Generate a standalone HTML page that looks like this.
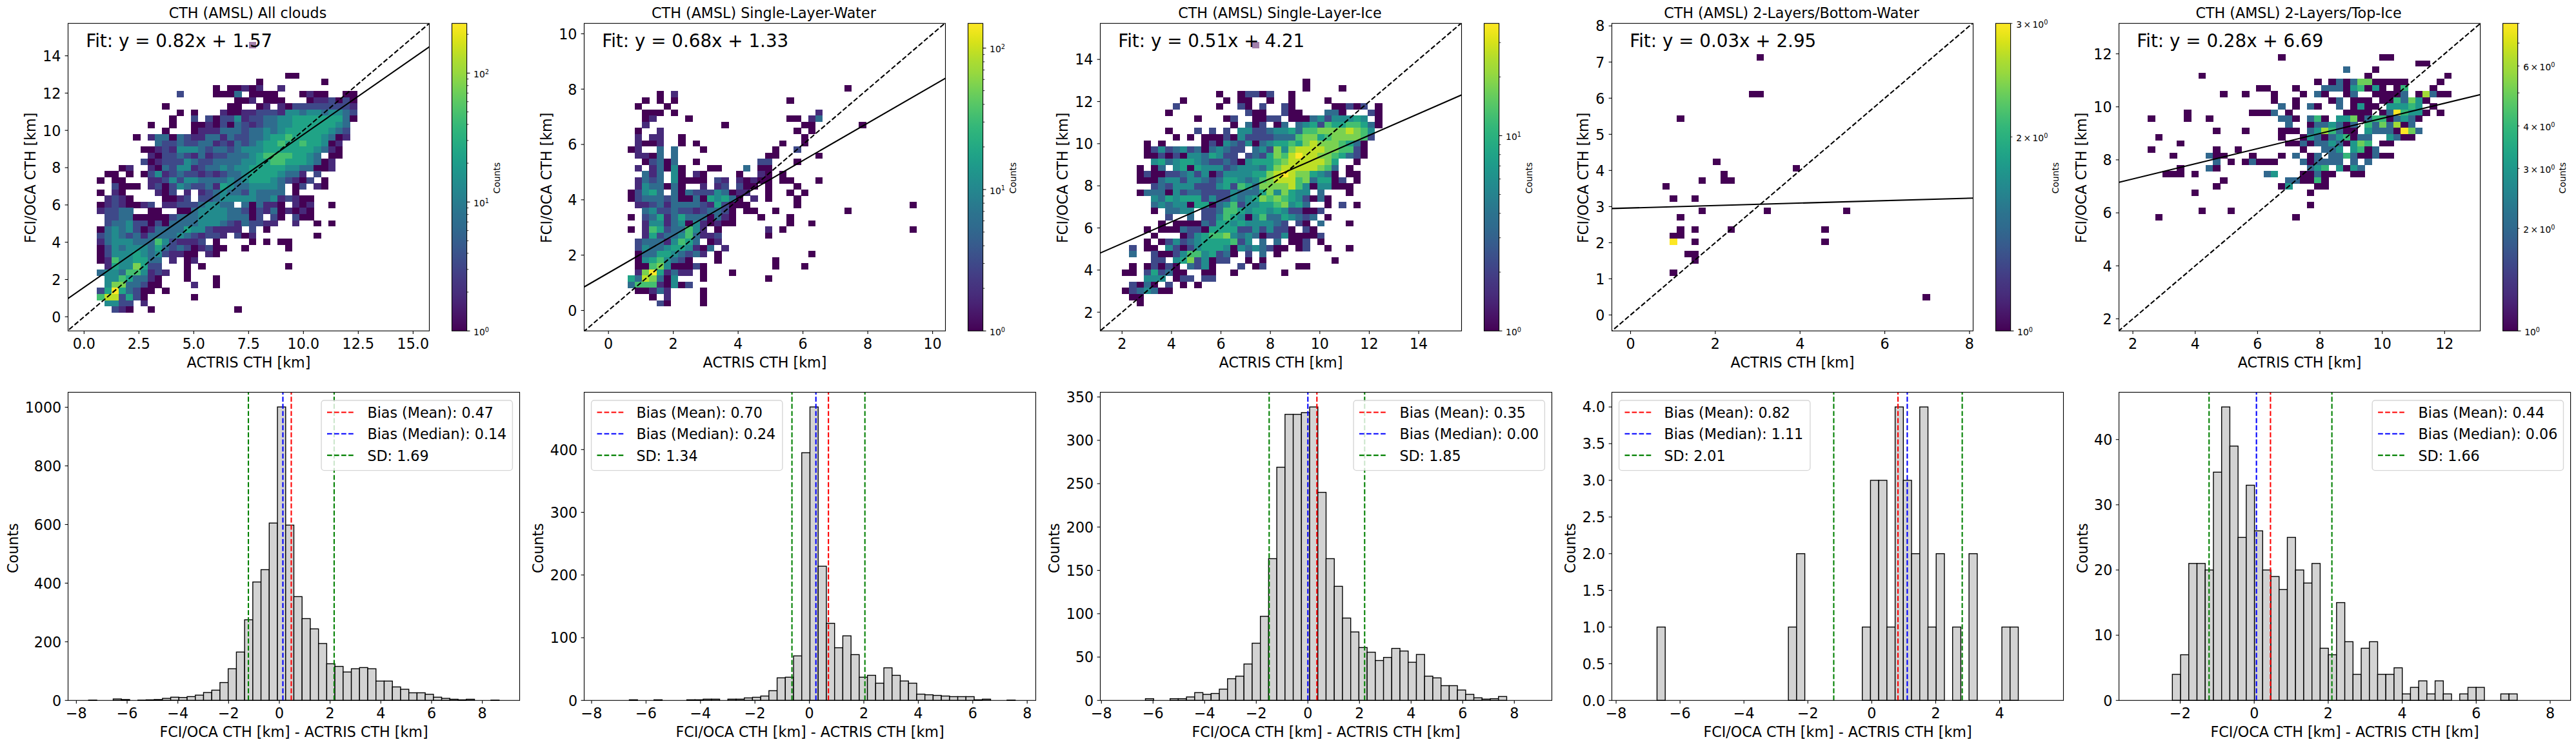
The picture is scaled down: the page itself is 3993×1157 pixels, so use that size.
<!DOCTYPE html>
<html><head><meta charset="utf-8"><title>CTH comparison</title><style>html,body{margin:0;padding:0;background:#fff}svg{display:block}</style></head><body>
<svg width="3993" height="1157" viewBox="0 0 3993 1157" font-family="'DejaVu Sans','Liberation Sans',sans-serif" fill="#000">
<rect width="3993" height="1157" fill="#fff"/>
<defs><linearGradient id="vg" x1="0" y1="1" x2="0" y2="0">
<stop offset="0" stop-color="#440154"/>
<stop offset="0.03" stop-color="#470d60"/>
<stop offset="0.06" stop-color="#48186a"/>
<stop offset="0.09" stop-color="#482374"/>
<stop offset="0.12" stop-color="#472d7b"/>
<stop offset="0.16" stop-color="#453781"/>
<stop offset="0.19" stop-color="#424086"/>
<stop offset="0.22" stop-color="#3e4989"/>
<stop offset="0.25" stop-color="#3b528b"/>
<stop offset="0.28" stop-color="#375b8d"/>
<stop offset="0.31" stop-color="#33638d"/>
<stop offset="0.34" stop-color="#2f6b8e"/>
<stop offset="0.38" stop-color="#2c728e"/>
<stop offset="0.41" stop-color="#297a8e"/>
<stop offset="0.44" stop-color="#26828e"/>
<stop offset="0.47" stop-color="#23898e"/>
<stop offset="0.5" stop-color="#21918c"/>
<stop offset="0.53" stop-color="#1f988b"/>
<stop offset="0.56" stop-color="#1fa088"/>
<stop offset="0.59" stop-color="#22a785"/>
<stop offset="0.62" stop-color="#28ae80"/>
<stop offset="0.66" stop-color="#32b67a"/>
<stop offset="0.69" stop-color="#3fbc73"/>
<stop offset="0.72" stop-color="#4ec36b"/>
<stop offset="0.75" stop-color="#5ec962"/>
<stop offset="0.78" stop-color="#70cf57"/>
<stop offset="0.81" stop-color="#84d44b"/>
<stop offset="0.84" stop-color="#98d83e"/>
<stop offset="0.88" stop-color="#addc30"/>
<stop offset="0.91" stop-color="#c2df23"/>
<stop offset="0.94" stop-color="#d8e219"/>
<stop offset="0.97" stop-color="#ece51b"/>
<stop offset="1" stop-color="#fde725"/>
</linearGradient></defs>
<g shape-rendering="crispEdges">
<rect x="385.5" y="64.91" width="11.5" height="9.84" fill="#440154"/>
<rect x="441.5" y="112.6" width="11.5" height="9.84" fill="#440154"/>
<rect x="452.7" y="112.6" width="11.5" height="9.84" fill="#440154"/>
<rect x="396.7" y="122.14" width="11.5" height="9.84" fill="#440154"/>
<rect x="497.5" y="122.14" width="11.5" height="9.84" fill="#440154"/>
<rect x="329.5" y="131.68" width="11.5" height="9.84" fill="#440154"/>
<rect x="351.9" y="131.68" width="11.5" height="9.84" fill="#440154"/>
<rect x="363.1" y="131.68" width="11.5" height="9.84" fill="#440154"/>
<rect x="374.3" y="131.68" width="11.5" height="9.84" fill="#472a7a"/>
<rect x="385.5" y="131.68" width="11.5" height="9.84" fill="#440154"/>
<rect x="396.7" y="131.68" width="11.5" height="9.84" fill="#472a7a"/>
<rect x="430.3" y="131.68" width="11.5" height="9.84" fill="#472a7a"/>
<rect x="273.5" y="141.22" width="11.5" height="9.84" fill="#3e4989"/>
<rect x="329.5" y="141.22" width="11.5" height="9.84" fill="#440154"/>
<rect x="340.7" y="141.22" width="11.5" height="9.84" fill="#440154"/>
<rect x="351.9" y="141.22" width="11.5" height="9.84" fill="#440154"/>
<rect x="363.1" y="141.22" width="11.5" height="9.84" fill="#2f6c8e"/>
<rect x="385.5" y="141.22" width="11.5" height="9.84" fill="#440154"/>
<rect x="396.7" y="141.22" width="11.5" height="9.84" fill="#440154"/>
<rect x="407.9" y="141.22" width="11.5" height="9.84" fill="#440154"/>
<rect x="419.1" y="141.22" width="11.5" height="9.84" fill="#440154"/>
<rect x="463.9" y="141.22" width="11.5" height="9.84" fill="#440154"/>
<rect x="475.1" y="141.22" width="11.5" height="9.84" fill="#472a7a"/>
<rect x="486.3" y="141.22" width="11.5" height="9.84" fill="#440154"/>
<rect x="497.5" y="141.22" width="11.5" height="9.84" fill="#440154"/>
<rect x="531.1" y="141.22" width="11.5" height="9.84" fill="#440154"/>
<rect x="542.3" y="141.22" width="11.5" height="9.84" fill="#440154"/>
<rect x="363.1" y="150.76" width="11.5" height="9.84" fill="#440154"/>
<rect x="374.3" y="150.76" width="11.5" height="9.84" fill="#440154"/>
<rect x="385.5" y="150.76" width="11.5" height="9.84" fill="#472a7a"/>
<rect x="407.9" y="150.76" width="11.5" height="9.84" fill="#440154"/>
<rect x="419.1" y="150.76" width="11.5" height="9.84" fill="#440154"/>
<rect x="430.3" y="150.76" width="11.5" height="9.84" fill="#440154"/>
<rect x="475.1" y="150.76" width="11.5" height="9.84" fill="#440154"/>
<rect x="486.3" y="150.76" width="11.5" height="9.84" fill="#472a7a"/>
<rect x="497.5" y="150.76" width="11.5" height="9.84" fill="#472a7a"/>
<rect x="508.7" y="150.76" width="11.5" height="9.84" fill="#3e4989"/>
<rect x="519.9" y="150.76" width="11.5" height="9.84" fill="#440154"/>
<rect x="531.1" y="150.76" width="11.5" height="9.84" fill="#3e4989"/>
<rect x="542.3" y="150.76" width="11.5" height="9.84" fill="#440154"/>
<rect x="251.1" y="160.29" width="11.5" height="9.84" fill="#440154"/>
<rect x="351.9" y="160.29" width="11.5" height="9.84" fill="#440154"/>
<rect x="363.1" y="160.29" width="11.5" height="9.84" fill="#440154"/>
<rect x="396.7" y="160.29" width="11.5" height="9.84" fill="#440154"/>
<rect x="407.9" y="160.29" width="11.5" height="9.84" fill="#472a7a"/>
<rect x="430.3" y="160.29" width="11.5" height="9.84" fill="#472a7a"/>
<rect x="441.5" y="160.29" width="11.5" height="9.84" fill="#440154"/>
<rect x="452.7" y="160.29" width="11.5" height="9.84" fill="#3e4989"/>
<rect x="463.9" y="160.29" width="11.5" height="9.84" fill="#3e4989"/>
<rect x="475.1" y="160.29" width="11.5" height="9.84" fill="#3e4989"/>
<rect x="486.3" y="160.29" width="11.5" height="9.84" fill="#3e4989"/>
<rect x="497.5" y="160.29" width="11.5" height="9.84" fill="#3e4989"/>
<rect x="508.7" y="160.29" width="11.5" height="9.84" fill="#3e4989"/>
<rect x="519.9" y="160.29" width="11.5" height="9.84" fill="#3e4989"/>
<rect x="531.1" y="160.29" width="11.5" height="9.84" fill="#3e4989"/>
<rect x="542.3" y="160.29" width="11.5" height="9.84" fill="#472a7a"/>
<rect x="273.5" y="169.83" width="11.5" height="9.84" fill="#440154"/>
<rect x="295.9" y="169.83" width="11.5" height="9.84" fill="#440154"/>
<rect x="340.7" y="169.83" width="11.5" height="9.84" fill="#472a7a"/>
<rect x="351.9" y="169.83" width="11.5" height="9.84" fill="#440154"/>
<rect x="363.1" y="169.83" width="11.5" height="9.84" fill="#440154"/>
<rect x="374.3" y="169.83" width="11.5" height="9.84" fill="#472a7a"/>
<rect x="385.5" y="169.83" width="11.5" height="9.84" fill="#472a7a"/>
<rect x="396.7" y="169.83" width="11.5" height="9.84" fill="#3e4989"/>
<rect x="407.9" y="169.83" width="11.5" height="9.84" fill="#3e4989"/>
<rect x="419.1" y="169.83" width="11.5" height="9.84" fill="#3e4989"/>
<rect x="430.3" y="169.83" width="11.5" height="9.84" fill="#472a7a"/>
<rect x="441.5" y="169.83" width="11.5" height="9.84" fill="#228b8d"/>
<rect x="452.7" y="169.83" width="11.5" height="9.84" fill="#228b8d"/>
<rect x="463.9" y="169.83" width="11.5" height="9.84" fill="#2f6c8e"/>
<rect x="475.1" y="169.83" width="11.5" height="9.84" fill="#228b8d"/>
<rect x="486.3" y="169.83" width="11.5" height="9.84" fill="#228b8d"/>
<rect x="497.5" y="169.83" width="11.5" height="9.84" fill="#2f6c8e"/>
<rect x="508.7" y="169.83" width="11.5" height="9.84" fill="#228b8d"/>
<rect x="519.9" y="169.83" width="11.5" height="9.84" fill="#228b8d"/>
<rect x="531.1" y="169.83" width="11.5" height="9.84" fill="#2f6c8e"/>
<rect x="542.3" y="169.83" width="11.5" height="9.84" fill="#3e4989"/>
<rect x="262.3" y="179.37" width="11.5" height="9.84" fill="#440154"/>
<rect x="295.9" y="179.37" width="11.5" height="9.84" fill="#3e4989"/>
<rect x="318.3" y="179.37" width="11.5" height="9.84" fill="#3e4989"/>
<rect x="329.5" y="179.37" width="11.5" height="9.84" fill="#440154"/>
<rect x="340.7" y="179.37" width="11.5" height="9.84" fill="#3e4989"/>
<rect x="351.9" y="179.37" width="11.5" height="9.84" fill="#3e4989"/>
<rect x="363.1" y="179.37" width="11.5" height="9.84" fill="#228b8d"/>
<rect x="374.3" y="179.37" width="11.5" height="9.84" fill="#472a7a"/>
<rect x="385.5" y="179.37" width="11.5" height="9.84" fill="#3e4989"/>
<rect x="396.7" y="179.37" width="11.5" height="9.84" fill="#3e4989"/>
<rect x="407.9" y="179.37" width="11.5" height="9.84" fill="#2f6c8e"/>
<rect x="419.1" y="179.37" width="11.5" height="9.84" fill="#2f6c8e"/>
<rect x="430.3" y="179.37" width="11.5" height="9.84" fill="#228b8d"/>
<rect x="441.5" y="179.37" width="11.5" height="9.84" fill="#228b8d"/>
<rect x="452.7" y="179.37" width="11.5" height="9.84" fill="#20a386"/>
<rect x="463.9" y="179.37" width="11.5" height="9.84" fill="#20a386"/>
<rect x="475.1" y="179.37" width="11.5" height="9.84" fill="#20a386"/>
<rect x="486.3" y="179.37" width="11.5" height="9.84" fill="#20a386"/>
<rect x="497.5" y="179.37" width="11.5" height="9.84" fill="#20a386"/>
<rect x="508.7" y="179.37" width="11.5" height="9.84" fill="#20a386"/>
<rect x="519.9" y="179.37" width="11.5" height="9.84" fill="#20a386"/>
<rect x="531.1" y="179.37" width="11.5" height="9.84" fill="#2f6c8e"/>
<rect x="542.3" y="179.37" width="11.5" height="9.84" fill="#440154"/>
<rect x="228.7" y="188.91" width="11.5" height="9.84" fill="#440154"/>
<rect x="262.3" y="188.91" width="11.5" height="9.84" fill="#440154"/>
<rect x="295.9" y="188.91" width="11.5" height="9.84" fill="#440154"/>
<rect x="307.1" y="188.91" width="11.5" height="9.84" fill="#440154"/>
<rect x="318.3" y="188.91" width="11.5" height="9.84" fill="#472a7a"/>
<rect x="329.5" y="188.91" width="11.5" height="9.84" fill="#440154"/>
<rect x="340.7" y="188.91" width="11.5" height="9.84" fill="#3e4989"/>
<rect x="351.9" y="188.91" width="11.5" height="9.84" fill="#440154"/>
<rect x="363.1" y="188.91" width="11.5" height="9.84" fill="#2f6c8e"/>
<rect x="374.3" y="188.91" width="11.5" height="9.84" fill="#3e4989"/>
<rect x="385.5" y="188.91" width="11.5" height="9.84" fill="#472a7a"/>
<rect x="396.7" y="188.91" width="11.5" height="9.84" fill="#3e4989"/>
<rect x="407.9" y="188.91" width="11.5" height="9.84" fill="#2f6c8e"/>
<rect x="419.1" y="188.91" width="11.5" height="9.84" fill="#2f6c8e"/>
<rect x="430.3" y="188.91" width="11.5" height="9.84" fill="#228b8d"/>
<rect x="441.5" y="188.91" width="11.5" height="9.84" fill="#228b8d"/>
<rect x="452.7" y="188.91" width="11.5" height="9.84" fill="#20a386"/>
<rect x="463.9" y="188.91" width="11.5" height="9.84" fill="#20a386"/>
<rect x="475.1" y="188.91" width="11.5" height="9.84" fill="#20a386"/>
<rect x="486.3" y="188.91" width="11.5" height="9.84" fill="#20a386"/>
<rect x="497.5" y="188.91" width="11.5" height="9.84" fill="#20a386"/>
<rect x="508.7" y="188.91" width="11.5" height="9.84" fill="#20a386"/>
<rect x="519.9" y="188.91" width="11.5" height="9.84" fill="#228b8d"/>
<rect x="531.1" y="188.91" width="11.5" height="9.84" fill="#2f6c8e"/>
<rect x="251.1" y="198.45" width="11.5" height="9.84" fill="#440154"/>
<rect x="295.9" y="198.45" width="11.5" height="9.84" fill="#440154"/>
<rect x="307.1" y="198.45" width="11.5" height="9.84" fill="#472a7a"/>
<rect x="318.3" y="198.45" width="11.5" height="9.84" fill="#472a7a"/>
<rect x="329.5" y="198.45" width="11.5" height="9.84" fill="#472a7a"/>
<rect x="340.7" y="198.45" width="11.5" height="9.84" fill="#2f6c8e"/>
<rect x="351.9" y="198.45" width="11.5" height="9.84" fill="#2f6c8e"/>
<rect x="363.1" y="198.45" width="11.5" height="9.84" fill="#2f6c8e"/>
<rect x="374.3" y="198.45" width="11.5" height="9.84" fill="#3e4989"/>
<rect x="385.5" y="198.45" width="11.5" height="9.84" fill="#2f6c8e"/>
<rect x="396.7" y="198.45" width="11.5" height="9.84" fill="#2f6c8e"/>
<rect x="407.9" y="198.45" width="11.5" height="9.84" fill="#228b8d"/>
<rect x="419.1" y="198.45" width="11.5" height="9.84" fill="#2f6c8e"/>
<rect x="430.3" y="198.45" width="11.5" height="9.84" fill="#228b8d"/>
<rect x="441.5" y="198.45" width="11.5" height="9.84" fill="#20a386"/>
<rect x="452.7" y="198.45" width="11.5" height="9.84" fill="#20a386"/>
<rect x="463.9" y="198.45" width="11.5" height="9.84" fill="#20a386"/>
<rect x="475.1" y="198.45" width="11.5" height="9.84" fill="#20a386"/>
<rect x="486.3" y="198.45" width="11.5" height="9.84" fill="#20a386"/>
<rect x="497.5" y="198.45" width="11.5" height="9.84" fill="#20a386"/>
<rect x="508.7" y="198.45" width="11.5" height="9.84" fill="#228b8d"/>
<rect x="519.9" y="198.45" width="11.5" height="9.84" fill="#2f6c8e"/>
<rect x="531.1" y="198.45" width="11.5" height="9.84" fill="#3e4989"/>
<rect x="206.3" y="207.98" width="11.5" height="9.84" fill="#440154"/>
<rect x="228.7" y="207.98" width="11.5" height="9.84" fill="#472a7a"/>
<rect x="239.9" y="207.98" width="11.5" height="9.84" fill="#2f6c8e"/>
<rect x="251.1" y="207.98" width="11.5" height="9.84" fill="#2f6c8e"/>
<rect x="262.3" y="207.98" width="11.5" height="9.84" fill="#440154"/>
<rect x="273.5" y="207.98" width="11.5" height="9.84" fill="#2f6c8e"/>
<rect x="284.7" y="207.98" width="11.5" height="9.84" fill="#3e4989"/>
<rect x="295.9" y="207.98" width="11.5" height="9.84" fill="#472a7a"/>
<rect x="307.1" y="207.98" width="11.5" height="9.84" fill="#472a7a"/>
<rect x="318.3" y="207.98" width="11.5" height="9.84" fill="#2f6c8e"/>
<rect x="329.5" y="207.98" width="11.5" height="9.84" fill="#2f6c8e"/>
<rect x="340.7" y="207.98" width="11.5" height="9.84" fill="#472a7a"/>
<rect x="351.9" y="207.98" width="11.5" height="9.84" fill="#2f6c8e"/>
<rect x="363.1" y="207.98" width="11.5" height="9.84" fill="#3e4989"/>
<rect x="374.3" y="207.98" width="11.5" height="9.84" fill="#3e4989"/>
<rect x="385.5" y="207.98" width="11.5" height="9.84" fill="#2f6c8e"/>
<rect x="396.7" y="207.98" width="11.5" height="9.84" fill="#2f6c8e"/>
<rect x="407.9" y="207.98" width="11.5" height="9.84" fill="#228b8d"/>
<rect x="419.1" y="207.98" width="11.5" height="9.84" fill="#20a386"/>
<rect x="430.3" y="207.98" width="11.5" height="9.84" fill="#20a386"/>
<rect x="441.5" y="207.98" width="11.5" height="9.84" fill="#44bf70"/>
<rect x="452.7" y="207.98" width="11.5" height="9.84" fill="#20a386"/>
<rect x="463.9" y="207.98" width="11.5" height="9.84" fill="#20a386"/>
<rect x="475.1" y="207.98" width="11.5" height="9.84" fill="#20a386"/>
<rect x="486.3" y="207.98" width="11.5" height="9.84" fill="#20a386"/>
<rect x="497.5" y="207.98" width="11.5" height="9.84" fill="#228b8d"/>
<rect x="508.7" y="207.98" width="11.5" height="9.84" fill="#2f6c8e"/>
<rect x="519.9" y="207.98" width="11.5" height="9.84" fill="#440154"/>
<rect x="531.1" y="207.98" width="11.5" height="9.84" fill="#472a7a"/>
<rect x="239.9" y="217.52" width="11.5" height="9.84" fill="#2f6c8e"/>
<rect x="251.1" y="217.52" width="11.5" height="9.84" fill="#3e4989"/>
<rect x="262.3" y="217.52" width="11.5" height="9.84" fill="#3e4989"/>
<rect x="273.5" y="217.52" width="11.5" height="9.84" fill="#2f6c8e"/>
<rect x="284.7" y="217.52" width="11.5" height="9.84" fill="#3e4989"/>
<rect x="295.9" y="217.52" width="11.5" height="9.84" fill="#3e4989"/>
<rect x="307.1" y="217.52" width="11.5" height="9.84" fill="#2f6c8e"/>
<rect x="318.3" y="217.52" width="11.5" height="9.84" fill="#2f6c8e"/>
<rect x="329.5" y="217.52" width="11.5" height="9.84" fill="#472a7a"/>
<rect x="340.7" y="217.52" width="11.5" height="9.84" fill="#3e4989"/>
<rect x="351.9" y="217.52" width="11.5" height="9.84" fill="#472a7a"/>
<rect x="363.1" y="217.52" width="11.5" height="9.84" fill="#2f6c8e"/>
<rect x="374.3" y="217.52" width="11.5" height="9.84" fill="#3e4989"/>
<rect x="385.5" y="217.52" width="11.5" height="9.84" fill="#2f6c8e"/>
<rect x="396.7" y="217.52" width="11.5" height="9.84" fill="#228b8d"/>
<rect x="407.9" y="217.52" width="11.5" height="9.84" fill="#20a386"/>
<rect x="419.1" y="217.52" width="11.5" height="9.84" fill="#20a386"/>
<rect x="430.3" y="217.52" width="11.5" height="9.84" fill="#44bf70"/>
<rect x="441.5" y="217.52" width="11.5" height="9.84" fill="#20a386"/>
<rect x="452.7" y="217.52" width="11.5" height="9.84" fill="#20a386"/>
<rect x="463.9" y="217.52" width="11.5" height="9.84" fill="#44bf70"/>
<rect x="475.1" y="217.52" width="11.5" height="9.84" fill="#20a386"/>
<rect x="486.3" y="217.52" width="11.5" height="9.84" fill="#20a386"/>
<rect x="497.5" y="217.52" width="11.5" height="9.84" fill="#228b8d"/>
<rect x="508.7" y="217.52" width="11.5" height="9.84" fill="#440154"/>
<rect x="519.9" y="217.52" width="11.5" height="9.84" fill="#472a7a"/>
<rect x="217.5" y="227.06" width="11.5" height="9.84" fill="#440154"/>
<rect x="228.7" y="227.06" width="11.5" height="9.84" fill="#440154"/>
<rect x="239.9" y="227.06" width="11.5" height="9.84" fill="#472a7a"/>
<rect x="251.1" y="227.06" width="11.5" height="9.84" fill="#3e4989"/>
<rect x="262.3" y="227.06" width="11.5" height="9.84" fill="#472a7a"/>
<rect x="273.5" y="227.06" width="11.5" height="9.84" fill="#228b8d"/>
<rect x="284.7" y="227.06" width="11.5" height="9.84" fill="#228b8d"/>
<rect x="295.9" y="227.06" width="11.5" height="9.84" fill="#228b8d"/>
<rect x="307.1" y="227.06" width="11.5" height="9.84" fill="#2f6c8e"/>
<rect x="318.3" y="227.06" width="11.5" height="9.84" fill="#3e4989"/>
<rect x="329.5" y="227.06" width="11.5" height="9.84" fill="#2f6c8e"/>
<rect x="340.7" y="227.06" width="11.5" height="9.84" fill="#2f6c8e"/>
<rect x="351.9" y="227.06" width="11.5" height="9.84" fill="#3e4989"/>
<rect x="363.1" y="227.06" width="11.5" height="9.84" fill="#2f6c8e"/>
<rect x="374.3" y="227.06" width="11.5" height="9.84" fill="#228b8d"/>
<rect x="385.5" y="227.06" width="11.5" height="9.84" fill="#228b8d"/>
<rect x="396.7" y="227.06" width="11.5" height="9.84" fill="#228b8d"/>
<rect x="407.9" y="227.06" width="11.5" height="9.84" fill="#20a386"/>
<rect x="419.1" y="227.06" width="11.5" height="9.84" fill="#20a386"/>
<rect x="430.3" y="227.06" width="11.5" height="9.84" fill="#20a386"/>
<rect x="441.5" y="227.06" width="11.5" height="9.84" fill="#20a386"/>
<rect x="452.7" y="227.06" width="11.5" height="9.84" fill="#20a386"/>
<rect x="463.9" y="227.06" width="11.5" height="9.84" fill="#20a386"/>
<rect x="475.1" y="227.06" width="11.5" height="9.84" fill="#20a386"/>
<rect x="486.3" y="227.06" width="11.5" height="9.84" fill="#228b8d"/>
<rect x="497.5" y="227.06" width="11.5" height="9.84" fill="#2f6c8e"/>
<rect x="508.7" y="227.06" width="11.5" height="9.84" fill="#472a7a"/>
<rect x="519.9" y="227.06" width="11.5" height="9.84" fill="#440154"/>
<rect x="228.7" y="236.6" width="11.5" height="9.84" fill="#472a7a"/>
<rect x="239.9" y="236.6" width="11.5" height="9.84" fill="#440154"/>
<rect x="251.1" y="236.6" width="11.5" height="9.84" fill="#3e4989"/>
<rect x="262.3" y="236.6" width="11.5" height="9.84" fill="#3e4989"/>
<rect x="273.5" y="236.6" width="11.5" height="9.84" fill="#2f6c8e"/>
<rect x="284.7" y="236.6" width="11.5" height="9.84" fill="#3e4989"/>
<rect x="295.9" y="236.6" width="11.5" height="9.84" fill="#472a7a"/>
<rect x="307.1" y="236.6" width="11.5" height="9.84" fill="#2f6c8e"/>
<rect x="318.3" y="236.6" width="11.5" height="9.84" fill="#472a7a"/>
<rect x="329.5" y="236.6" width="11.5" height="9.84" fill="#3e4989"/>
<rect x="340.7" y="236.6" width="11.5" height="9.84" fill="#3e4989"/>
<rect x="351.9" y="236.6" width="11.5" height="9.84" fill="#2f6c8e"/>
<rect x="363.1" y="236.6" width="11.5" height="9.84" fill="#2f6c8e"/>
<rect x="374.3" y="236.6" width="11.5" height="9.84" fill="#2f6c8e"/>
<rect x="385.5" y="236.6" width="11.5" height="9.84" fill="#228b8d"/>
<rect x="396.7" y="236.6" width="11.5" height="9.84" fill="#20a386"/>
<rect x="407.9" y="236.6" width="11.5" height="9.84" fill="#44bf70"/>
<rect x="419.1" y="236.6" width="11.5" height="9.84" fill="#44bf70"/>
<rect x="430.3" y="236.6" width="11.5" height="9.84" fill="#44bf70"/>
<rect x="441.5" y="236.6" width="11.5" height="9.84" fill="#44bf70"/>
<rect x="452.7" y="236.6" width="11.5" height="9.84" fill="#20a386"/>
<rect x="463.9" y="236.6" width="11.5" height="9.84" fill="#20a386"/>
<rect x="475.1" y="236.6" width="11.5" height="9.84" fill="#228b8d"/>
<rect x="486.3" y="236.6" width="11.5" height="9.84" fill="#2f6c8e"/>
<rect x="508.7" y="236.6" width="11.5" height="9.84" fill="#440154"/>
<rect x="519.9" y="236.6" width="11.5" height="9.84" fill="#440154"/>
<rect x="217.5" y="246.14" width="11.5" height="9.84" fill="#3e4989"/>
<rect x="228.7" y="246.14" width="11.5" height="9.84" fill="#440154"/>
<rect x="239.9" y="246.14" width="11.5" height="9.84" fill="#472a7a"/>
<rect x="251.1" y="246.14" width="11.5" height="9.84" fill="#3e4989"/>
<rect x="262.3" y="246.14" width="11.5" height="9.84" fill="#3e4989"/>
<rect x="273.5" y="246.14" width="11.5" height="9.84" fill="#3e4989"/>
<rect x="284.7" y="246.14" width="11.5" height="9.84" fill="#228b8d"/>
<rect x="295.9" y="246.14" width="11.5" height="9.84" fill="#2f6c8e"/>
<rect x="307.1" y="246.14" width="11.5" height="9.84" fill="#3e4989"/>
<rect x="318.3" y="246.14" width="11.5" height="9.84" fill="#3e4989"/>
<rect x="329.5" y="246.14" width="11.5" height="9.84" fill="#2f6c8e"/>
<rect x="340.7" y="246.14" width="11.5" height="9.84" fill="#2f6c8e"/>
<rect x="351.9" y="246.14" width="11.5" height="9.84" fill="#2f6c8e"/>
<rect x="363.1" y="246.14" width="11.5" height="9.84" fill="#2f6c8e"/>
<rect x="374.3" y="246.14" width="11.5" height="9.84" fill="#228b8d"/>
<rect x="385.5" y="246.14" width="11.5" height="9.84" fill="#228b8d"/>
<rect x="396.7" y="246.14" width="11.5" height="9.84" fill="#20a386"/>
<rect x="407.9" y="246.14" width="11.5" height="9.84" fill="#20a386"/>
<rect x="419.1" y="246.14" width="11.5" height="9.84" fill="#44bf70"/>
<rect x="430.3" y="246.14" width="11.5" height="9.84" fill="#44bf70"/>
<rect x="441.5" y="246.14" width="11.5" height="9.84" fill="#20a386"/>
<rect x="452.7" y="246.14" width="11.5" height="9.84" fill="#20a386"/>
<rect x="463.9" y="246.14" width="11.5" height="9.84" fill="#20a386"/>
<rect x="475.1" y="246.14" width="11.5" height="9.84" fill="#228b8d"/>
<rect x="486.3" y="246.14" width="11.5" height="9.84" fill="#2f6c8e"/>
<rect x="497.5" y="246.14" width="11.5" height="9.84" fill="#440154"/>
<rect x="508.7" y="246.14" width="11.5" height="9.84" fill="#472a7a"/>
<rect x="183.9" y="255.67" width="11.5" height="9.84" fill="#440154"/>
<rect x="195.1" y="255.67" width="11.5" height="9.84" fill="#472a7a"/>
<rect x="228.7" y="255.67" width="11.5" height="9.84" fill="#472a7a"/>
<rect x="239.9" y="255.67" width="11.5" height="9.84" fill="#440154"/>
<rect x="251.1" y="255.67" width="11.5" height="9.84" fill="#2f6c8e"/>
<rect x="262.3" y="255.67" width="11.5" height="9.84" fill="#3e4989"/>
<rect x="273.5" y="255.67" width="11.5" height="9.84" fill="#228b8d"/>
<rect x="284.7" y="255.67" width="11.5" height="9.84" fill="#228b8d"/>
<rect x="295.9" y="255.67" width="11.5" height="9.84" fill="#472a7a"/>
<rect x="307.1" y="255.67" width="11.5" height="9.84" fill="#3e4989"/>
<rect x="318.3" y="255.67" width="11.5" height="9.84" fill="#2f6c8e"/>
<rect x="329.5" y="255.67" width="11.5" height="9.84" fill="#2f6c8e"/>
<rect x="340.7" y="255.67" width="11.5" height="9.84" fill="#228b8d"/>
<rect x="351.9" y="255.67" width="11.5" height="9.84" fill="#2f6c8e"/>
<rect x="363.1" y="255.67" width="11.5" height="9.84" fill="#228b8d"/>
<rect x="374.3" y="255.67" width="11.5" height="9.84" fill="#228b8d"/>
<rect x="385.5" y="255.67" width="11.5" height="9.84" fill="#20a386"/>
<rect x="396.7" y="255.67" width="11.5" height="9.84" fill="#20a386"/>
<rect x="407.9" y="255.67" width="11.5" height="9.84" fill="#20a386"/>
<rect x="419.1" y="255.67" width="11.5" height="9.84" fill="#20a386"/>
<rect x="430.3" y="255.67" width="11.5" height="9.84" fill="#20a386"/>
<rect x="441.5" y="255.67" width="11.5" height="9.84" fill="#228b8d"/>
<rect x="452.7" y="255.67" width="11.5" height="9.84" fill="#228b8d"/>
<rect x="463.9" y="255.67" width="11.5" height="9.84" fill="#2f6c8e"/>
<rect x="475.1" y="255.67" width="11.5" height="9.84" fill="#2f6c8e"/>
<rect x="486.3" y="255.67" width="11.5" height="9.84" fill="#440154"/>
<rect x="497.5" y="255.67" width="11.5" height="9.84" fill="#440154"/>
<rect x="508.7" y="255.67" width="11.5" height="9.84" fill="#472a7a"/>
<rect x="161.5" y="265.21" width="11.5" height="9.84" fill="#440154"/>
<rect x="172.7" y="265.21" width="11.5" height="9.84" fill="#440154"/>
<rect x="195.1" y="265.21" width="11.5" height="9.84" fill="#440154"/>
<rect x="217.5" y="265.21" width="11.5" height="9.84" fill="#440154"/>
<rect x="228.7" y="265.21" width="11.5" height="9.84" fill="#3e4989"/>
<rect x="239.9" y="265.21" width="11.5" height="9.84" fill="#228b8d"/>
<rect x="251.1" y="265.21" width="11.5" height="9.84" fill="#472a7a"/>
<rect x="262.3" y="265.21" width="11.5" height="9.84" fill="#3e4989"/>
<rect x="273.5" y="265.21" width="11.5" height="9.84" fill="#2f6c8e"/>
<rect x="284.7" y="265.21" width="11.5" height="9.84" fill="#3e4989"/>
<rect x="295.9" y="265.21" width="11.5" height="9.84" fill="#3e4989"/>
<rect x="307.1" y="265.21" width="11.5" height="9.84" fill="#472a7a"/>
<rect x="318.3" y="265.21" width="11.5" height="9.84" fill="#3e4989"/>
<rect x="329.5" y="265.21" width="11.5" height="9.84" fill="#472a7a"/>
<rect x="340.7" y="265.21" width="11.5" height="9.84" fill="#3e4989"/>
<rect x="351.9" y="265.21" width="11.5" height="9.84" fill="#2f6c8e"/>
<rect x="363.1" y="265.21" width="11.5" height="9.84" fill="#2f6c8e"/>
<rect x="374.3" y="265.21" width="11.5" height="9.84" fill="#228b8d"/>
<rect x="385.5" y="265.21" width="11.5" height="9.84" fill="#20a386"/>
<rect x="396.7" y="265.21" width="11.5" height="9.84" fill="#20a386"/>
<rect x="407.9" y="265.21" width="11.5" height="9.84" fill="#20a386"/>
<rect x="419.1" y="265.21" width="11.5" height="9.84" fill="#20a386"/>
<rect x="430.3" y="265.21" width="11.5" height="9.84" fill="#228b8d"/>
<rect x="441.5" y="265.21" width="11.5" height="9.84" fill="#2f6c8e"/>
<rect x="452.7" y="265.21" width="11.5" height="9.84" fill="#2f6c8e"/>
<rect x="463.9" y="265.21" width="11.5" height="9.84" fill="#472a7a"/>
<rect x="486.3" y="265.21" width="11.5" height="9.84" fill="#3e4989"/>
<rect x="150.3" y="274.75" width="11.5" height="9.84" fill="#440154"/>
<rect x="172.7" y="274.75" width="11.5" height="9.84" fill="#440154"/>
<rect x="183.9" y="274.75" width="11.5" height="9.84" fill="#440154"/>
<rect x="228.7" y="274.75" width="11.5" height="9.84" fill="#472a7a"/>
<rect x="239.9" y="274.75" width="11.5" height="9.84" fill="#472a7a"/>
<rect x="251.1" y="274.75" width="11.5" height="9.84" fill="#3e4989"/>
<rect x="262.3" y="274.75" width="11.5" height="9.84" fill="#228b8d"/>
<rect x="273.5" y="274.75" width="11.5" height="9.84" fill="#3e4989"/>
<rect x="284.7" y="274.75" width="11.5" height="9.84" fill="#228b8d"/>
<rect x="295.9" y="274.75" width="11.5" height="9.84" fill="#228b8d"/>
<rect x="307.1" y="274.75" width="11.5" height="9.84" fill="#2f6c8e"/>
<rect x="318.3" y="274.75" width="11.5" height="9.84" fill="#2f6c8e"/>
<rect x="329.5" y="274.75" width="11.5" height="9.84" fill="#2f6c8e"/>
<rect x="340.7" y="274.75" width="11.5" height="9.84" fill="#2f6c8e"/>
<rect x="351.9" y="274.75" width="11.5" height="9.84" fill="#228b8d"/>
<rect x="363.1" y="274.75" width="11.5" height="9.84" fill="#2f6c8e"/>
<rect x="374.3" y="274.75" width="11.5" height="9.84" fill="#228b8d"/>
<rect x="385.5" y="274.75" width="11.5" height="9.84" fill="#20a386"/>
<rect x="396.7" y="274.75" width="11.5" height="9.84" fill="#20a386"/>
<rect x="407.9" y="274.75" width="11.5" height="9.84" fill="#20a386"/>
<rect x="419.1" y="274.75" width="11.5" height="9.84" fill="#228b8d"/>
<rect x="430.3" y="274.75" width="11.5" height="9.84" fill="#2f6c8e"/>
<rect x="441.5" y="274.75" width="11.5" height="9.84" fill="#3e4989"/>
<rect x="452.7" y="274.75" width="11.5" height="9.84" fill="#472a7a"/>
<rect x="463.9" y="274.75" width="11.5" height="9.84" fill="#440154"/>
<rect x="475.1" y="274.75" width="11.5" height="9.84" fill="#3e4989"/>
<rect x="497.5" y="274.75" width="11.5" height="9.84" fill="#440154"/>
<rect x="172.7" y="284.29" width="11.5" height="9.84" fill="#3e4989"/>
<rect x="183.9" y="284.29" width="11.5" height="9.84" fill="#440154"/>
<rect x="195.1" y="284.29" width="11.5" height="9.84" fill="#440154"/>
<rect x="206.3" y="284.29" width="11.5" height="9.84" fill="#440154"/>
<rect x="228.7" y="284.29" width="11.5" height="9.84" fill="#472a7a"/>
<rect x="239.9" y="284.29" width="11.5" height="9.84" fill="#3e4989"/>
<rect x="251.1" y="284.29" width="11.5" height="9.84" fill="#440154"/>
<rect x="262.3" y="284.29" width="11.5" height="9.84" fill="#3e4989"/>
<rect x="273.5" y="284.29" width="11.5" height="9.84" fill="#228b8d"/>
<rect x="284.7" y="284.29" width="11.5" height="9.84" fill="#2f6c8e"/>
<rect x="295.9" y="284.29" width="11.5" height="9.84" fill="#3e4989"/>
<rect x="307.1" y="284.29" width="11.5" height="9.84" fill="#3e4989"/>
<rect x="318.3" y="284.29" width="11.5" height="9.84" fill="#2f6c8e"/>
<rect x="329.5" y="284.29" width="11.5" height="9.84" fill="#472a7a"/>
<rect x="340.7" y="284.29" width="11.5" height="9.84" fill="#20a386"/>
<rect x="351.9" y="284.29" width="11.5" height="9.84" fill="#228b8d"/>
<rect x="363.1" y="284.29" width="11.5" height="9.84" fill="#2f6c8e"/>
<rect x="374.3" y="284.29" width="11.5" height="9.84" fill="#2f6c8e"/>
<rect x="385.5" y="284.29" width="11.5" height="9.84" fill="#228b8d"/>
<rect x="396.7" y="284.29" width="11.5" height="9.84" fill="#228b8d"/>
<rect x="407.9" y="284.29" width="11.5" height="9.84" fill="#228b8d"/>
<rect x="419.1" y="284.29" width="11.5" height="9.84" fill="#228b8d"/>
<rect x="430.3" y="284.29" width="11.5" height="9.84" fill="#2f6c8e"/>
<rect x="452.7" y="284.29" width="11.5" height="9.84" fill="#440154"/>
<rect x="463.9" y="284.29" width="11.5" height="9.84" fill="#3e4989"/>
<rect x="486.3" y="284.29" width="11.5" height="9.84" fill="#472a7a"/>
<rect x="497.5" y="284.29" width="11.5" height="9.84" fill="#440154"/>
<rect x="150.3" y="293.83" width="11.5" height="9.84" fill="#440154"/>
<rect x="172.7" y="293.83" width="11.5" height="9.84" fill="#472a7a"/>
<rect x="183.9" y="293.83" width="11.5" height="9.84" fill="#440154"/>
<rect x="239.9" y="293.83" width="11.5" height="9.84" fill="#472a7a"/>
<rect x="251.1" y="293.83" width="11.5" height="9.84" fill="#440154"/>
<rect x="262.3" y="293.83" width="11.5" height="9.84" fill="#3e4989"/>
<rect x="284.7" y="293.83" width="11.5" height="9.84" fill="#472a7a"/>
<rect x="307.1" y="293.83" width="11.5" height="9.84" fill="#472a7a"/>
<rect x="318.3" y="293.83" width="11.5" height="9.84" fill="#3e4989"/>
<rect x="329.5" y="293.83" width="11.5" height="9.84" fill="#2f6c8e"/>
<rect x="340.7" y="293.83" width="11.5" height="9.84" fill="#228b8d"/>
<rect x="351.9" y="293.83" width="11.5" height="9.84" fill="#2f6c8e"/>
<rect x="363.1" y="293.83" width="11.5" height="9.84" fill="#2f6c8e"/>
<rect x="374.3" y="293.83" width="11.5" height="9.84" fill="#3e4989"/>
<rect x="385.5" y="293.83" width="11.5" height="9.84" fill="#228b8d"/>
<rect x="396.7" y="293.83" width="11.5" height="9.84" fill="#2f6c8e"/>
<rect x="407.9" y="293.83" width="11.5" height="9.84" fill="#2f6c8e"/>
<rect x="419.1" y="293.83" width="11.5" height="9.84" fill="#2f6c8e"/>
<rect x="430.3" y="293.83" width="11.5" height="9.84" fill="#2f6c8e"/>
<rect x="452.7" y="293.83" width="11.5" height="9.84" fill="#440154"/>
<rect x="161.5" y="303.36" width="11.5" height="9.84" fill="#472a7a"/>
<rect x="172.7" y="303.36" width="11.5" height="9.84" fill="#3e4989"/>
<rect x="183.9" y="303.36" width="11.5" height="9.84" fill="#472a7a"/>
<rect x="195.1" y="303.36" width="11.5" height="9.84" fill="#440154"/>
<rect x="251.1" y="303.36" width="11.5" height="9.84" fill="#440154"/>
<rect x="262.3" y="303.36" width="11.5" height="9.84" fill="#440154"/>
<rect x="273.5" y="303.36" width="11.5" height="9.84" fill="#472a7a"/>
<rect x="284.7" y="303.36" width="11.5" height="9.84" fill="#3e4989"/>
<rect x="307.1" y="303.36" width="11.5" height="9.84" fill="#3e4989"/>
<rect x="318.3" y="303.36" width="11.5" height="9.84" fill="#3e4989"/>
<rect x="329.5" y="303.36" width="11.5" height="9.84" fill="#2f6c8e"/>
<rect x="340.7" y="303.36" width="11.5" height="9.84" fill="#228b8d"/>
<rect x="351.9" y="303.36" width="11.5" height="9.84" fill="#228b8d"/>
<rect x="363.1" y="303.36" width="11.5" height="9.84" fill="#228b8d"/>
<rect x="374.3" y="303.36" width="11.5" height="9.84" fill="#228b8d"/>
<rect x="385.5" y="303.36" width="11.5" height="9.84" fill="#228b8d"/>
<rect x="396.7" y="303.36" width="11.5" height="9.84" fill="#2f6c8e"/>
<rect x="407.9" y="303.36" width="11.5" height="9.84" fill="#2f6c8e"/>
<rect x="419.1" y="303.36" width="11.5" height="9.84" fill="#228b8d"/>
<rect x="430.3" y="303.36" width="11.5" height="9.84" fill="#472a7a"/>
<rect x="441.5" y="303.36" width="11.5" height="9.84" fill="#3e4989"/>
<rect x="452.7" y="303.36" width="11.5" height="9.84" fill="#472a7a"/>
<rect x="463.9" y="303.36" width="11.5" height="9.84" fill="#440154"/>
<rect x="475.1" y="303.36" width="11.5" height="9.84" fill="#440154"/>
<rect x="150.3" y="312.9" width="11.5" height="9.84" fill="#440154"/>
<rect x="161.5" y="312.9" width="11.5" height="9.84" fill="#472a7a"/>
<rect x="172.7" y="312.9" width="11.5" height="9.84" fill="#3e4989"/>
<rect x="183.9" y="312.9" width="11.5" height="9.84" fill="#472a7a"/>
<rect x="195.1" y="312.9" width="11.5" height="9.84" fill="#440154"/>
<rect x="206.3" y="312.9" width="11.5" height="9.84" fill="#440154"/>
<rect x="217.5" y="312.9" width="11.5" height="9.84" fill="#472a7a"/>
<rect x="228.7" y="312.9" width="11.5" height="9.84" fill="#3e4989"/>
<rect x="251.1" y="312.9" width="11.5" height="9.84" fill="#472a7a"/>
<rect x="262.3" y="312.9" width="11.5" height="9.84" fill="#472a7a"/>
<rect x="273.5" y="312.9" width="11.5" height="9.84" fill="#3e4989"/>
<rect x="284.7" y="312.9" width="11.5" height="9.84" fill="#3e4989"/>
<rect x="295.9" y="312.9" width="11.5" height="9.84" fill="#3e4989"/>
<rect x="307.1" y="312.9" width="11.5" height="9.84" fill="#2f6c8e"/>
<rect x="318.3" y="312.9" width="11.5" height="9.84" fill="#228b8d"/>
<rect x="329.5" y="312.9" width="11.5" height="9.84" fill="#228b8d"/>
<rect x="340.7" y="312.9" width="11.5" height="9.84" fill="#2f6c8e"/>
<rect x="351.9" y="312.9" width="11.5" height="9.84" fill="#2f6c8e"/>
<rect x="374.3" y="312.9" width="11.5" height="9.84" fill="#2f6c8e"/>
<rect x="385.5" y="312.9" width="11.5" height="9.84" fill="#440154"/>
<rect x="396.7" y="312.9" width="11.5" height="9.84" fill="#2f6c8e"/>
<rect x="407.9" y="312.9" width="11.5" height="9.84" fill="#472a7a"/>
<rect x="419.1" y="312.9" width="11.5" height="9.84" fill="#472a7a"/>
<rect x="430.3" y="312.9" width="11.5" height="9.84" fill="#440154"/>
<rect x="452.7" y="312.9" width="11.5" height="9.84" fill="#472a7a"/>
<rect x="463.9" y="312.9" width="11.5" height="9.84" fill="#440154"/>
<rect x="475.1" y="312.9" width="11.5" height="9.84" fill="#472a7a"/>
<rect x="508.7" y="312.9" width="11.5" height="9.84" fill="#440154"/>
<rect x="150.3" y="322.44" width="11.5" height="9.84" fill="#472a7a"/>
<rect x="161.5" y="322.44" width="11.5" height="9.84" fill="#3e4989"/>
<rect x="172.7" y="322.44" width="11.5" height="9.84" fill="#3e4989"/>
<rect x="183.9" y="322.44" width="11.5" height="9.84" fill="#2f6c8e"/>
<rect x="195.1" y="322.44" width="11.5" height="9.84" fill="#2f6c8e"/>
<rect x="228.7" y="322.44" width="11.5" height="9.84" fill="#440154"/>
<rect x="239.9" y="322.44" width="11.5" height="9.84" fill="#440154"/>
<rect x="273.5" y="322.44" width="11.5" height="9.84" fill="#440154"/>
<rect x="284.7" y="322.44" width="11.5" height="9.84" fill="#440154"/>
<rect x="295.9" y="322.44" width="11.5" height="9.84" fill="#2f6c8e"/>
<rect x="307.1" y="322.44" width="11.5" height="9.84" fill="#228b8d"/>
<rect x="318.3" y="322.44" width="11.5" height="9.84" fill="#228b8d"/>
<rect x="329.5" y="322.44" width="11.5" height="9.84" fill="#228b8d"/>
<rect x="340.7" y="322.44" width="11.5" height="9.84" fill="#228b8d"/>
<rect x="351.9" y="322.44" width="11.5" height="9.84" fill="#2f6c8e"/>
<rect x="363.1" y="322.44" width="11.5" height="9.84" fill="#2f6c8e"/>
<rect x="374.3" y="322.44" width="11.5" height="9.84" fill="#3e4989"/>
<rect x="385.5" y="322.44" width="11.5" height="9.84" fill="#440154"/>
<rect x="396.7" y="322.44" width="11.5" height="9.84" fill="#3e4989"/>
<rect x="407.9" y="322.44" width="11.5" height="9.84" fill="#472a7a"/>
<rect x="419.1" y="322.44" width="11.5" height="9.84" fill="#2f6c8e"/>
<rect x="430.3" y="322.44" width="11.5" height="9.84" fill="#440154"/>
<rect x="441.5" y="322.44" width="11.5" height="9.84" fill="#472a7a"/>
<rect x="452.7" y="322.44" width="11.5" height="9.84" fill="#440154"/>
<rect x="463.9" y="322.44" width="11.5" height="9.84" fill="#472a7a"/>
<rect x="475.1" y="322.44" width="11.5" height="9.84" fill="#440154"/>
<rect x="161.5" y="331.98" width="11.5" height="9.84" fill="#3e4989"/>
<rect x="172.7" y="331.98" width="11.5" height="9.84" fill="#3e4989"/>
<rect x="183.9" y="331.98" width="11.5" height="9.84" fill="#2f6c8e"/>
<rect x="195.1" y="331.98" width="11.5" height="9.84" fill="#2f6c8e"/>
<rect x="206.3" y="331.98" width="11.5" height="9.84" fill="#440154"/>
<rect x="217.5" y="331.98" width="11.5" height="9.84" fill="#440154"/>
<rect x="228.7" y="331.98" width="11.5" height="9.84" fill="#440154"/>
<rect x="239.9" y="331.98" width="11.5" height="9.84" fill="#440154"/>
<rect x="251.1" y="331.98" width="11.5" height="9.84" fill="#440154"/>
<rect x="262.3" y="331.98" width="11.5" height="9.84" fill="#3e4989"/>
<rect x="273.5" y="331.98" width="11.5" height="9.84" fill="#2f6c8e"/>
<rect x="284.7" y="331.98" width="11.5" height="9.84" fill="#2f6c8e"/>
<rect x="295.9" y="331.98" width="11.5" height="9.84" fill="#2f6c8e"/>
<rect x="307.1" y="331.98" width="11.5" height="9.84" fill="#228b8d"/>
<rect x="318.3" y="331.98" width="11.5" height="9.84" fill="#228b8d"/>
<rect x="329.5" y="331.98" width="11.5" height="9.84" fill="#228b8d"/>
<rect x="340.7" y="331.98" width="11.5" height="9.84" fill="#228b8d"/>
<rect x="351.9" y="331.98" width="11.5" height="9.84" fill="#2f6c8e"/>
<rect x="363.1" y="331.98" width="11.5" height="9.84" fill="#2f6c8e"/>
<rect x="374.3" y="331.98" width="11.5" height="9.84" fill="#2f6c8e"/>
<rect x="385.5" y="331.98" width="11.5" height="9.84" fill="#440154"/>
<rect x="396.7" y="331.98" width="11.5" height="9.84" fill="#3e4989"/>
<rect x="419.1" y="331.98" width="11.5" height="9.84" fill="#3e4989"/>
<rect x="430.3" y="331.98" width="11.5" height="9.84" fill="#440154"/>
<rect x="452.7" y="331.98" width="11.5" height="9.84" fill="#3e4989"/>
<rect x="463.9" y="331.98" width="11.5" height="9.84" fill="#440154"/>
<rect x="475.1" y="331.98" width="11.5" height="9.84" fill="#440154"/>
<rect x="161.5" y="341.52" width="11.5" height="9.84" fill="#3e4989"/>
<rect x="172.7" y="341.52" width="11.5" height="9.84" fill="#2f6c8e"/>
<rect x="183.9" y="341.52" width="11.5" height="9.84" fill="#2f6c8e"/>
<rect x="195.1" y="341.52" width="11.5" height="9.84" fill="#228b8d"/>
<rect x="206.3" y="341.52" width="11.5" height="9.84" fill="#3e4989"/>
<rect x="217.5" y="341.52" width="11.5" height="9.84" fill="#3e4989"/>
<rect x="228.7" y="341.52" width="11.5" height="9.84" fill="#440154"/>
<rect x="239.9" y="341.52" width="11.5" height="9.84" fill="#3e4989"/>
<rect x="251.1" y="341.52" width="11.5" height="9.84" fill="#440154"/>
<rect x="262.3" y="341.52" width="11.5" height="9.84" fill="#2f6c8e"/>
<rect x="273.5" y="341.52" width="11.5" height="9.84" fill="#2f6c8e"/>
<rect x="284.7" y="341.52" width="11.5" height="9.84" fill="#2f6c8e"/>
<rect x="295.9" y="341.52" width="11.5" height="9.84" fill="#2f6c8e"/>
<rect x="307.1" y="341.52" width="11.5" height="9.84" fill="#228b8d"/>
<rect x="318.3" y="341.52" width="11.5" height="9.84" fill="#228b8d"/>
<rect x="329.5" y="341.52" width="11.5" height="9.84" fill="#228b8d"/>
<rect x="340.7" y="341.52" width="11.5" height="9.84" fill="#2f6c8e"/>
<rect x="351.9" y="341.52" width="11.5" height="9.84" fill="#3e4989"/>
<rect x="363.1" y="341.52" width="11.5" height="9.84" fill="#472a7a"/>
<rect x="374.3" y="341.52" width="11.5" height="9.84" fill="#2f6c8e"/>
<rect x="385.5" y="341.52" width="11.5" height="9.84" fill="#3e4989"/>
<rect x="396.7" y="341.52" width="11.5" height="9.84" fill="#3e4989"/>
<rect x="407.9" y="341.52" width="11.5" height="9.84" fill="#472a7a"/>
<rect x="419.1" y="341.52" width="11.5" height="9.84" fill="#472a7a"/>
<rect x="452.7" y="341.52" width="11.5" height="9.84" fill="#472a7a"/>
<rect x="486.3" y="341.52" width="11.5" height="9.84" fill="#440154"/>
<rect x="508.7" y="341.52" width="11.5" height="9.84" fill="#440154"/>
<rect x="150.3" y="351.05" width="11.5" height="9.84" fill="#440154"/>
<rect x="161.5" y="351.05" width="11.5" height="9.84" fill="#2f6c8e"/>
<rect x="172.7" y="351.05" width="11.5" height="9.84" fill="#228b8d"/>
<rect x="183.9" y="351.05" width="11.5" height="9.84" fill="#2f6c8e"/>
<rect x="195.1" y="351.05" width="11.5" height="9.84" fill="#228b8d"/>
<rect x="206.3" y="351.05" width="11.5" height="9.84" fill="#3e4989"/>
<rect x="217.5" y="351.05" width="11.5" height="9.84" fill="#440154"/>
<rect x="228.7" y="351.05" width="11.5" height="9.84" fill="#472a7a"/>
<rect x="239.9" y="351.05" width="11.5" height="9.84" fill="#2f6c8e"/>
<rect x="251.1" y="351.05" width="11.5" height="9.84" fill="#2f6c8e"/>
<rect x="262.3" y="351.05" width="11.5" height="9.84" fill="#2f6c8e"/>
<rect x="273.5" y="351.05" width="11.5" height="9.84" fill="#2f6c8e"/>
<rect x="284.7" y="351.05" width="11.5" height="9.84" fill="#20a386"/>
<rect x="295.9" y="351.05" width="11.5" height="9.84" fill="#228b8d"/>
<rect x="307.1" y="351.05" width="11.5" height="9.84" fill="#228b8d"/>
<rect x="318.3" y="351.05" width="11.5" height="9.84" fill="#3e4989"/>
<rect x="329.5" y="351.05" width="11.5" height="9.84" fill="#472a7a"/>
<rect x="340.7" y="351.05" width="11.5" height="9.84" fill="#472a7a"/>
<rect x="351.9" y="351.05" width="11.5" height="9.84" fill="#472a7a"/>
<rect x="363.1" y="351.05" width="11.5" height="9.84" fill="#472a7a"/>
<rect x="385.5" y="351.05" width="11.5" height="9.84" fill="#3e4989"/>
<rect x="407.9" y="351.05" width="11.5" height="9.84" fill="#440154"/>
<rect x="150.3" y="360.59" width="11.5" height="9.84" fill="#3e4989"/>
<rect x="161.5" y="360.59" width="11.5" height="9.84" fill="#2f6c8e"/>
<rect x="172.7" y="360.59" width="11.5" height="9.84" fill="#228b8d"/>
<rect x="183.9" y="360.59" width="11.5" height="9.84" fill="#2f6c8e"/>
<rect x="195.1" y="360.59" width="11.5" height="9.84" fill="#3e4989"/>
<rect x="206.3" y="360.59" width="11.5" height="9.84" fill="#2f6c8e"/>
<rect x="217.5" y="360.59" width="11.5" height="9.84" fill="#472a7a"/>
<rect x="228.7" y="360.59" width="11.5" height="9.84" fill="#2f6c8e"/>
<rect x="239.9" y="360.59" width="11.5" height="9.84" fill="#2f6c8e"/>
<rect x="251.1" y="360.59" width="11.5" height="9.84" fill="#2f6c8e"/>
<rect x="262.3" y="360.59" width="11.5" height="9.84" fill="#2f6c8e"/>
<rect x="273.5" y="360.59" width="11.5" height="9.84" fill="#228b8d"/>
<rect x="284.7" y="360.59" width="11.5" height="9.84" fill="#2f6c8e"/>
<rect x="295.9" y="360.59" width="11.5" height="9.84" fill="#3e4989"/>
<rect x="307.1" y="360.59" width="11.5" height="9.84" fill="#472a7a"/>
<rect x="318.3" y="360.59" width="11.5" height="9.84" fill="#3e4989"/>
<rect x="329.5" y="360.59" width="11.5" height="9.84" fill="#3e4989"/>
<rect x="340.7" y="360.59" width="11.5" height="9.84" fill="#472a7a"/>
<rect x="363.1" y="360.59" width="11.5" height="9.84" fill="#3e4989"/>
<rect x="374.3" y="360.59" width="11.5" height="9.84" fill="#440154"/>
<rect x="385.5" y="360.59" width="11.5" height="9.84" fill="#472a7a"/>
<rect x="486.3" y="360.59" width="11.5" height="9.84" fill="#440154"/>
<rect x="150.3" y="370.13" width="11.5" height="9.84" fill="#472a7a"/>
<rect x="161.5" y="370.13" width="11.5" height="9.84" fill="#2f6c8e"/>
<rect x="172.7" y="370.13" width="11.5" height="9.84" fill="#228b8d"/>
<rect x="183.9" y="370.13" width="11.5" height="9.84" fill="#228b8d"/>
<rect x="195.1" y="370.13" width="11.5" height="9.84" fill="#228b8d"/>
<rect x="206.3" y="370.13" width="11.5" height="9.84" fill="#2f6c8e"/>
<rect x="217.5" y="370.13" width="11.5" height="9.84" fill="#2f6c8e"/>
<rect x="228.7" y="370.13" width="11.5" height="9.84" fill="#2f6c8e"/>
<rect x="239.9" y="370.13" width="11.5" height="9.84" fill="#44bf70"/>
<rect x="251.1" y="370.13" width="11.5" height="9.84" fill="#228b8d"/>
<rect x="262.3" y="370.13" width="11.5" height="9.84" fill="#3e4989"/>
<rect x="273.5" y="370.13" width="11.5" height="9.84" fill="#472a7a"/>
<rect x="284.7" y="370.13" width="11.5" height="9.84" fill="#472a7a"/>
<rect x="295.9" y="370.13" width="11.5" height="9.84" fill="#472a7a"/>
<rect x="307.1" y="370.13" width="11.5" height="9.84" fill="#3e4989"/>
<rect x="329.5" y="370.13" width="11.5" height="9.84" fill="#440154"/>
<rect x="385.5" y="370.13" width="11.5" height="9.84" fill="#440154"/>
<rect x="407.9" y="370.13" width="11.5" height="9.84" fill="#440154"/>
<rect x="430.3" y="370.13" width="11.5" height="9.84" fill="#440154"/>
<rect x="441.5" y="370.13" width="11.5" height="9.84" fill="#440154"/>
<rect x="150.3" y="379.67" width="11.5" height="9.84" fill="#440154"/>
<rect x="161.5" y="379.67" width="11.5" height="9.84" fill="#3e4989"/>
<rect x="172.7" y="379.67" width="11.5" height="9.84" fill="#228b8d"/>
<rect x="183.9" y="379.67" width="11.5" height="9.84" fill="#2f6c8e"/>
<rect x="195.1" y="379.67" width="11.5" height="9.84" fill="#228b8d"/>
<rect x="206.3" y="379.67" width="11.5" height="9.84" fill="#228b8d"/>
<rect x="217.5" y="379.67" width="11.5" height="9.84" fill="#228b8d"/>
<rect x="228.7" y="379.67" width="11.5" height="9.84" fill="#2f6c8e"/>
<rect x="239.9" y="379.67" width="11.5" height="9.84" fill="#20a386"/>
<rect x="251.1" y="379.67" width="11.5" height="9.84" fill="#2f6c8e"/>
<rect x="262.3" y="379.67" width="11.5" height="9.84" fill="#3e4989"/>
<rect x="273.5" y="379.67" width="11.5" height="9.84" fill="#2f6c8e"/>
<rect x="284.7" y="379.67" width="11.5" height="9.84" fill="#3e4989"/>
<rect x="295.9" y="379.67" width="11.5" height="9.84" fill="#440154"/>
<rect x="307.1" y="379.67" width="11.5" height="9.84" fill="#472a7a"/>
<rect x="318.3" y="379.67" width="11.5" height="9.84" fill="#3e4989"/>
<rect x="329.5" y="379.67" width="11.5" height="9.84" fill="#440154"/>
<rect x="340.7" y="379.67" width="11.5" height="9.84" fill="#440154"/>
<rect x="374.3" y="379.67" width="11.5" height="9.84" fill="#440154"/>
<rect x="441.5" y="379.67" width="11.5" height="9.84" fill="#440154"/>
<rect x="150.3" y="389.21" width="11.5" height="9.84" fill="#440154"/>
<rect x="161.5" y="389.21" width="11.5" height="9.84" fill="#3e4989"/>
<rect x="172.7" y="389.21" width="11.5" height="9.84" fill="#228b8d"/>
<rect x="183.9" y="389.21" width="11.5" height="9.84" fill="#228b8d"/>
<rect x="195.1" y="389.21" width="11.5" height="9.84" fill="#228b8d"/>
<rect x="206.3" y="389.21" width="11.5" height="9.84" fill="#20a386"/>
<rect x="217.5" y="389.21" width="11.5" height="9.84" fill="#228b8d"/>
<rect x="228.7" y="389.21" width="11.5" height="9.84" fill="#2f6c8e"/>
<rect x="239.9" y="389.21" width="11.5" height="9.84" fill="#228b8d"/>
<rect x="251.1" y="389.21" width="11.5" height="9.84" fill="#3e4989"/>
<rect x="262.3" y="389.21" width="11.5" height="9.84" fill="#472a7a"/>
<rect x="273.5" y="389.21" width="11.5" height="9.84" fill="#472a7a"/>
<rect x="284.7" y="389.21" width="11.5" height="9.84" fill="#440154"/>
<rect x="295.9" y="389.21" width="11.5" height="9.84" fill="#440154"/>
<rect x="318.3" y="389.21" width="11.5" height="9.84" fill="#472a7a"/>
<rect x="329.5" y="389.21" width="11.5" height="9.84" fill="#440154"/>
<rect x="150.3" y="398.74" width="11.5" height="9.84" fill="#440154"/>
<rect x="161.5" y="398.74" width="11.5" height="9.84" fill="#472a7a"/>
<rect x="172.7" y="398.74" width="11.5" height="9.84" fill="#44bf70"/>
<rect x="183.9" y="398.74" width="11.5" height="9.84" fill="#228b8d"/>
<rect x="195.1" y="398.74" width="11.5" height="9.84" fill="#228b8d"/>
<rect x="206.3" y="398.74" width="11.5" height="9.84" fill="#20a386"/>
<rect x="217.5" y="398.74" width="11.5" height="9.84" fill="#20a386"/>
<rect x="228.7" y="398.74" width="11.5" height="9.84" fill="#2f6c8e"/>
<rect x="239.9" y="398.74" width="11.5" height="9.84" fill="#2f6c8e"/>
<rect x="262.3" y="398.74" width="11.5" height="9.84" fill="#472a7a"/>
<rect x="284.7" y="398.74" width="11.5" height="9.84" fill="#440154"/>
<rect x="295.9" y="398.74" width="11.5" height="9.84" fill="#472a7a"/>
<rect x="161.5" y="408.28" width="11.5" height="9.84" fill="#472a7a"/>
<rect x="172.7" y="408.28" width="11.5" height="9.84" fill="#20a386"/>
<rect x="183.9" y="408.28" width="11.5" height="9.84" fill="#228b8d"/>
<rect x="195.1" y="408.28" width="11.5" height="9.84" fill="#228b8d"/>
<rect x="206.3" y="408.28" width="11.5" height="9.84" fill="#7ad151"/>
<rect x="217.5" y="408.28" width="11.5" height="9.84" fill="#20a386"/>
<rect x="228.7" y="408.28" width="11.5" height="9.84" fill="#3e4989"/>
<rect x="239.9" y="408.28" width="11.5" height="9.84" fill="#3e4989"/>
<rect x="284.7" y="408.28" width="11.5" height="9.84" fill="#440154"/>
<rect x="307.1" y="408.28" width="11.5" height="9.84" fill="#440154"/>
<rect x="441.5" y="408.28" width="11.5" height="9.84" fill="#440154"/>
<rect x="150.3" y="417.82" width="11.5" height="9.84" fill="#2f6c8e"/>
<rect x="161.5" y="417.82" width="11.5" height="9.84" fill="#228b8d"/>
<rect x="172.7" y="417.82" width="11.5" height="9.84" fill="#228b8d"/>
<rect x="183.9" y="417.82" width="11.5" height="9.84" fill="#2f6c8e"/>
<rect x="195.1" y="417.82" width="11.5" height="9.84" fill="#44bf70"/>
<rect x="206.3" y="417.82" width="11.5" height="9.84" fill="#44bf70"/>
<rect x="217.5" y="417.82" width="11.5" height="9.84" fill="#228b8d"/>
<rect x="228.7" y="417.82" width="11.5" height="9.84" fill="#472a7a"/>
<rect x="239.9" y="417.82" width="11.5" height="9.84" fill="#3e4989"/>
<rect x="251.1" y="417.82" width="11.5" height="9.84" fill="#472a7a"/>
<rect x="284.7" y="417.82" width="11.5" height="9.84" fill="#440154"/>
<rect x="161.5" y="427.36" width="11.5" height="9.84" fill="#228b8d"/>
<rect x="172.7" y="427.36" width="11.5" height="9.84" fill="#228b8d"/>
<rect x="183.9" y="427.36" width="11.5" height="9.84" fill="#44bf70"/>
<rect x="195.1" y="427.36" width="11.5" height="9.84" fill="#20a386"/>
<rect x="206.3" y="427.36" width="11.5" height="9.84" fill="#2f6c8e"/>
<rect x="217.5" y="427.36" width="11.5" height="9.84" fill="#2f6c8e"/>
<rect x="228.7" y="427.36" width="11.5" height="9.84" fill="#472a7a"/>
<rect x="239.9" y="427.36" width="11.5" height="9.84" fill="#440154"/>
<rect x="284.7" y="427.36" width="11.5" height="9.84" fill="#440154"/>
<rect x="329.5" y="427.36" width="11.5" height="9.84" fill="#440154"/>
<rect x="161.5" y="436.9" width="11.5" height="9.84" fill="#228b8d"/>
<rect x="172.7" y="436.9" width="11.5" height="9.84" fill="#7ad151"/>
<rect x="183.9" y="436.9" width="11.5" height="9.84" fill="#7ad151"/>
<rect x="195.1" y="436.9" width="11.5" height="9.84" fill="#2f6c8e"/>
<rect x="206.3" y="436.9" width="11.5" height="9.84" fill="#2f6c8e"/>
<rect x="217.5" y="436.9" width="11.5" height="9.84" fill="#3e4989"/>
<rect x="228.7" y="436.9" width="11.5" height="9.84" fill="#440154"/>
<rect x="239.9" y="436.9" width="11.5" height="9.84" fill="#440154"/>
<rect x="295.9" y="436.9" width="11.5" height="9.84" fill="#472a7a"/>
<rect x="329.5" y="436.9" width="11.5" height="9.84" fill="#440154"/>
<rect x="150.3" y="446.43" width="11.5" height="9.84" fill="#3e4989"/>
<rect x="161.5" y="446.43" width="11.5" height="9.84" fill="#20a386"/>
<rect x="172.7" y="446.43" width="11.5" height="9.84" fill="#fde725"/>
<rect x="183.9" y="446.43" width="11.5" height="9.84" fill="#20a386"/>
<rect x="195.1" y="446.43" width="11.5" height="9.84" fill="#2f6c8e"/>
<rect x="206.3" y="446.43" width="11.5" height="9.84" fill="#3e4989"/>
<rect x="217.5" y="446.43" width="11.5" height="9.84" fill="#440154"/>
<rect x="228.7" y="446.43" width="11.5" height="9.84" fill="#440154"/>
<rect x="251.1" y="446.43" width="11.5" height="9.84" fill="#440154"/>
<rect x="150.3" y="455.97" width="11.5" height="9.84" fill="#44bf70"/>
<rect x="161.5" y="455.97" width="11.5" height="9.84" fill="#bddf26"/>
<rect x="172.7" y="455.97" width="11.5" height="9.84" fill="#bddf26"/>
<rect x="183.9" y="455.97" width="11.5" height="9.84" fill="#3e4989"/>
<rect x="195.1" y="455.97" width="11.5" height="9.84" fill="#20a386"/>
<rect x="206.3" y="455.97" width="11.5" height="9.84" fill="#3e4989"/>
<rect x="217.5" y="455.97" width="11.5" height="9.84" fill="#440154"/>
<rect x="295.9" y="455.97" width="11.5" height="9.84" fill="#440154"/>
<rect x="161.5" y="465.51" width="11.5" height="9.84" fill="#228b8d"/>
<rect x="172.7" y="465.51" width="11.5" height="9.84" fill="#228b8d"/>
<rect x="183.9" y="465.51" width="11.5" height="9.84" fill="#3e4989"/>
<rect x="195.1" y="465.51" width="11.5" height="9.84" fill="#3e4989"/>
<rect x="217.5" y="465.51" width="11.5" height="9.84" fill="#472a7a"/>
<rect x="172.7" y="475.05" width="11.5" height="9.84" fill="#3e4989"/>
<rect x="183.9" y="475.05" width="11.5" height="9.84" fill="#472a7a"/>
<rect x="195.1" y="475.05" width="11.5" height="9.84" fill="#440154"/>
<rect x="228.7" y="475.05" width="11.5" height="9.84" fill="#440154"/>
<rect x="363.1" y="475.05" width="11.5" height="9.84" fill="#440154"/>
</g>
<clipPath id="ct0"><rect x="105.5" y="36.3" width="560" height="476.9"/></clipPath>
<g clip-path="url(#ct0)" stroke="#000" stroke-width="2.08" fill="none">
<line x1="98.7" y1="518.19" x2="672.3" y2="30.47" stroke-dasharray="7.7 3.33"/>
<line x1="105.5" y1="462.9" x2="665.5" y2="72.5"/>
</g>
<rect x="127.94" y="45" width="300.28" height="39" fill="#fff" fill-opacity="0.5"/>
<text x="133.2" y="72.6" font-size="27.78" text-anchor="start">Fit: y = 0.82x + 1.57</text>
<rect x="105.5" y="36.3" width="560" height="476.9" fill="none" stroke="#000" stroke-width="1.11"/>
<line x1="130.32" y1="513.2" x2="130.32" y2="518.06" stroke="#000" stroke-width="1.11"/>
<text x="130.32" y="540.6" font-size="22.22" text-anchor="middle">0.0</text>
<line x1="215.32" y1="513.2" x2="215.32" y2="518.06" stroke="#000" stroke-width="1.11"/>
<text x="215.32" y="540.6" font-size="22.22" text-anchor="middle">2.5</text>
<line x1="300.33" y1="513.2" x2="300.33" y2="518.06" stroke="#000" stroke-width="1.11"/>
<text x="300.33" y="540.6" font-size="22.22" text-anchor="middle">5.0</text>
<line x1="385.33" y1="513.2" x2="385.33" y2="518.06" stroke="#000" stroke-width="1.11"/>
<text x="385.33" y="540.6" font-size="22.22" text-anchor="middle">7.5</text>
<line x1="470.33" y1="513.2" x2="470.33" y2="518.06" stroke="#000" stroke-width="1.11"/>
<text x="470.33" y="540.6" font-size="22.22" text-anchor="middle">10.0</text>
<line x1="555.34" y1="513.2" x2="555.34" y2="518.06" stroke="#000" stroke-width="1.11"/>
<text x="555.34" y="540.6" font-size="22.22" text-anchor="middle">12.5</text>
<line x1="640.34" y1="513.2" x2="640.34" y2="518.06" stroke="#000" stroke-width="1.11"/>
<text x="640.34" y="540.6" font-size="22.22" text-anchor="middle">15.0</text>
<line x1="100.64" y1="491.3" x2="105.5" y2="491.3" stroke="#000" stroke-width="1.11"/>
<text x="94.5" y="499.6" font-size="22.22" text-anchor="end">0</text>
<line x1="100.64" y1="433.48" x2="105.5" y2="433.48" stroke="#000" stroke-width="1.11"/>
<text x="94.5" y="441.78" font-size="22.22" text-anchor="end">2</text>
<line x1="100.64" y1="375.66" x2="105.5" y2="375.66" stroke="#000" stroke-width="1.11"/>
<text x="94.5" y="383.96" font-size="22.22" text-anchor="end">4</text>
<line x1="100.64" y1="317.84" x2="105.5" y2="317.84" stroke="#000" stroke-width="1.11"/>
<text x="94.5" y="326.14" font-size="22.22" text-anchor="end">6</text>
<line x1="100.64" y1="260.02" x2="105.5" y2="260.02" stroke="#000" stroke-width="1.11"/>
<text x="94.5" y="268.32" font-size="22.22" text-anchor="end">8</text>
<line x1="100.64" y1="202.2" x2="105.5" y2="202.2" stroke="#000" stroke-width="1.11"/>
<text x="94.5" y="210.5" font-size="22.22" text-anchor="end">10</text>
<line x1="100.64" y1="144.38" x2="105.5" y2="144.38" stroke="#000" stroke-width="1.11"/>
<text x="94.5" y="152.68" font-size="22.22" text-anchor="end">12</text>
<line x1="100.64" y1="86.56" x2="105.5" y2="86.56" stroke="#000" stroke-width="1.11"/>
<text x="94.5" y="94.86" font-size="22.22" text-anchor="end">14</text>
<text x="385.5" y="569.8" font-size="22.22" text-anchor="middle">ACTRIS CTH [km]</text>
<text x="384" y="27.9" font-size="22.22" text-anchor="middle">CTH (AMSL) All clouds</text>
<text transform="translate(54.72 275.75) rotate(-90)" font-size="22.22" text-anchor="middle">FCI/OCA CTH [km]</text>
<rect x="700.5" y="36.3" width="23.1" height="476.9" fill="url(#vg)" stroke="#000" stroke-width="1.11"/>
<line x1="723.6" y1="513.2" x2="728.46" y2="513.2" stroke="#000" stroke-width="1.11"/>
<text x="734.1" y="519.8" font-size="13.89" text-anchor="start">10<tspan dy="-5.1" font-size="9.72">0</tspan></text>
<line x1="723.6" y1="453.02" x2="726.38" y2="453.02" stroke="#000" stroke-width="0.83"/>
<line x1="723.6" y1="417.82" x2="726.38" y2="417.82" stroke="#000" stroke-width="0.83"/>
<line x1="723.6" y1="392.84" x2="726.38" y2="392.84" stroke="#000" stroke-width="0.83"/>
<line x1="723.6" y1="373.47" x2="726.38" y2="373.47" stroke="#000" stroke-width="0.83"/>
<line x1="723.6" y1="357.64" x2="726.38" y2="357.64" stroke="#000" stroke-width="0.83"/>
<line x1="723.6" y1="344.26" x2="726.38" y2="344.26" stroke="#000" stroke-width="0.83"/>
<line x1="723.6" y1="332.67" x2="726.38" y2="332.67" stroke="#000" stroke-width="0.83"/>
<line x1="723.6" y1="322.44" x2="726.38" y2="322.44" stroke="#000" stroke-width="0.83"/>
<line x1="723.6" y1="313.29" x2="728.46" y2="313.29" stroke="#000" stroke-width="1.11"/>
<text x="734.1" y="319.89" font-size="13.89" text-anchor="start">10<tspan dy="-5.1" font-size="9.72">1</tspan></text>
<line x1="723.6" y1="253.11" x2="726.38" y2="253.11" stroke="#000" stroke-width="0.83"/>
<line x1="723.6" y1="217.91" x2="726.38" y2="217.91" stroke="#000" stroke-width="0.83"/>
<line x1="723.6" y1="192.94" x2="726.38" y2="192.94" stroke="#000" stroke-width="0.83"/>
<line x1="723.6" y1="173.56" x2="726.38" y2="173.56" stroke="#000" stroke-width="0.83"/>
<line x1="723.6" y1="157.73" x2="726.38" y2="157.73" stroke="#000" stroke-width="0.83"/>
<line x1="723.6" y1="144.35" x2="726.38" y2="144.35" stroke="#000" stroke-width="0.83"/>
<line x1="723.6" y1="132.76" x2="726.38" y2="132.76" stroke="#000" stroke-width="0.83"/>
<line x1="723.6" y1="122.53" x2="726.38" y2="122.53" stroke="#000" stroke-width="0.83"/>
<line x1="723.6" y1="113.39" x2="728.46" y2="113.39" stroke="#000" stroke-width="1.11"/>
<text x="734.1" y="119.99" font-size="13.89" text-anchor="start">10<tspan dy="-5.1" font-size="9.72">2</tspan></text>
<line x1="723.6" y1="53.21" x2="726.38" y2="53.21" stroke="#000" stroke-width="0.83"/>
<text transform="translate(774.7 276.05) rotate(-90)" font-size="13.89" text-anchor="middle">Counts</text>
<g shape-rendering="crispEdges">
<rect x="1308.7" y="131.68" width="11.5" height="9.84" fill="#440154"/>
<rect x="1017.5" y="141.22" width="11.5" height="9.84" fill="#440154"/>
<rect x="1039.9" y="141.22" width="11.5" height="9.84" fill="#472a7a"/>
<rect x="995.1" y="150.76" width="11.5" height="9.84" fill="#440154"/>
<rect x="1017.5" y="150.76" width="11.5" height="9.84" fill="#440154"/>
<rect x="1039.9" y="150.76" width="11.5" height="9.84" fill="#440154"/>
<rect x="1219.1" y="150.76" width="11.5" height="9.84" fill="#440154"/>
<rect x="983.9" y="160.29" width="11.5" height="9.84" fill="#440154"/>
<rect x="1028.7" y="160.29" width="11.5" height="9.84" fill="#440154"/>
<rect x="995.1" y="169.83" width="11.5" height="9.84" fill="#440154"/>
<rect x="1006.3" y="169.83" width="11.5" height="9.84" fill="#440154"/>
<rect x="1017.5" y="169.83" width="11.5" height="9.84" fill="#440154"/>
<rect x="1039.9" y="169.83" width="11.5" height="9.84" fill="#440154"/>
<rect x="1263.9" y="169.83" width="11.5" height="9.84" fill="#472a7a"/>
<rect x="995.1" y="179.37" width="11.5" height="9.84" fill="#440154"/>
<rect x="1006.3" y="179.37" width="11.5" height="9.84" fill="#472a7a"/>
<rect x="1062.3" y="179.37" width="11.5" height="9.84" fill="#440154"/>
<rect x="1219.1" y="179.37" width="11.5" height="9.84" fill="#440154"/>
<rect x="1230.3" y="179.37" width="11.5" height="9.84" fill="#440154"/>
<rect x="1252.7" y="179.37" width="11.5" height="9.84" fill="#472a7a"/>
<rect x="1263.9" y="179.37" width="11.5" height="9.84" fill="#2f6c8e"/>
<rect x="995.1" y="188.91" width="11.5" height="9.84" fill="#472a7a"/>
<rect x="1118.3" y="188.91" width="11.5" height="9.84" fill="#440154"/>
<rect x="1241.5" y="188.91" width="11.5" height="9.84" fill="#440154"/>
<rect x="1252.7" y="188.91" width="11.5" height="9.84" fill="#440154"/>
<rect x="1331.1" y="188.91" width="11.5" height="9.84" fill="#440154"/>
<rect x="983.9" y="198.45" width="11.5" height="9.84" fill="#440154"/>
<rect x="1017.5" y="198.45" width="11.5" height="9.84" fill="#472a7a"/>
<rect x="1230.3" y="198.45" width="11.5" height="9.84" fill="#440154"/>
<rect x="1252.7" y="198.45" width="11.5" height="9.84" fill="#440154"/>
<rect x="983.9" y="207.98" width="11.5" height="9.84" fill="#472a7a"/>
<rect x="1006.3" y="207.98" width="11.5" height="9.84" fill="#472a7a"/>
<rect x="1017.5" y="207.98" width="11.5" height="9.84" fill="#472a7a"/>
<rect x="1051.1" y="207.98" width="11.5" height="9.84" fill="#440154"/>
<rect x="1241.5" y="207.98" width="11.5" height="9.84" fill="#440154"/>
<rect x="983.9" y="217.52" width="11.5" height="9.84" fill="#472a7a"/>
<rect x="995.1" y="217.52" width="11.5" height="9.84" fill="#440154"/>
<rect x="1006.3" y="217.52" width="11.5" height="9.84" fill="#440154"/>
<rect x="1017.5" y="217.52" width="11.5" height="9.84" fill="#472a7a"/>
<rect x="1051.1" y="217.52" width="11.5" height="9.84" fill="#440154"/>
<rect x="1073.5" y="217.52" width="11.5" height="9.84" fill="#440154"/>
<rect x="1207.9" y="217.52" width="11.5" height="9.84" fill="#440154"/>
<rect x="1241.5" y="217.52" width="11.5" height="9.84" fill="#440154"/>
<rect x="972.7" y="227.06" width="11.5" height="9.84" fill="#440154"/>
<rect x="983.9" y="227.06" width="11.5" height="9.84" fill="#472a7a"/>
<rect x="1017.5" y="227.06" width="11.5" height="9.84" fill="#2f6c8e"/>
<rect x="1039.9" y="227.06" width="11.5" height="9.84" fill="#2f6c8e"/>
<rect x="1084.7" y="227.06" width="11.5" height="9.84" fill="#440154"/>
<rect x="1196.7" y="227.06" width="11.5" height="9.84" fill="#440154"/>
<rect x="1230.3" y="227.06" width="11.5" height="9.84" fill="#3e4989"/>
<rect x="983.9" y="236.6" width="11.5" height="9.84" fill="#472a7a"/>
<rect x="995.1" y="236.6" width="11.5" height="9.84" fill="#472a7a"/>
<rect x="1006.3" y="236.6" width="11.5" height="9.84" fill="#440154"/>
<rect x="1017.5" y="236.6" width="11.5" height="9.84" fill="#2f6c8e"/>
<rect x="1039.9" y="236.6" width="11.5" height="9.84" fill="#2f6c8e"/>
<rect x="1185.5" y="236.6" width="11.5" height="9.84" fill="#440154"/>
<rect x="1196.7" y="236.6" width="11.5" height="9.84" fill="#440154"/>
<rect x="1263.9" y="236.6" width="11.5" height="9.84" fill="#440154"/>
<rect x="995.1" y="246.14" width="11.5" height="9.84" fill="#440154"/>
<rect x="1006.3" y="246.14" width="11.5" height="9.84" fill="#3e4989"/>
<rect x="1017.5" y="246.14" width="11.5" height="9.84" fill="#2f6c8e"/>
<rect x="1028.7" y="246.14" width="11.5" height="9.84" fill="#440154"/>
<rect x="1039.9" y="246.14" width="11.5" height="9.84" fill="#2f6c8e"/>
<rect x="1073.5" y="246.14" width="11.5" height="9.84" fill="#440154"/>
<rect x="1174.3" y="246.14" width="11.5" height="9.84" fill="#3e4989"/>
<rect x="1185.5" y="246.14" width="11.5" height="9.84" fill="#3e4989"/>
<rect x="1230.3" y="246.14" width="11.5" height="9.84" fill="#440154"/>
<rect x="983.9" y="255.67" width="11.5" height="9.84" fill="#472a7a"/>
<rect x="1006.3" y="255.67" width="11.5" height="9.84" fill="#472a7a"/>
<rect x="1017.5" y="255.67" width="11.5" height="9.84" fill="#2f6c8e"/>
<rect x="1028.7" y="255.67" width="11.5" height="9.84" fill="#440154"/>
<rect x="1039.9" y="255.67" width="11.5" height="9.84" fill="#228b8d"/>
<rect x="1051.1" y="255.67" width="11.5" height="9.84" fill="#440154"/>
<rect x="1095.9" y="255.67" width="11.5" height="9.84" fill="#440154"/>
<rect x="1107.1" y="255.67" width="11.5" height="9.84" fill="#440154"/>
<rect x="1151.9" y="255.67" width="11.5" height="9.84" fill="#2f6c8e"/>
<rect x="1174.3" y="255.67" width="11.5" height="9.84" fill="#440154"/>
<rect x="1185.5" y="255.67" width="11.5" height="9.84" fill="#440154"/>
<rect x="995.1" y="265.21" width="11.5" height="9.84" fill="#2f6c8e"/>
<rect x="1006.3" y="265.21" width="11.5" height="9.84" fill="#472a7a"/>
<rect x="1017.5" y="265.21" width="11.5" height="9.84" fill="#2f6c8e"/>
<rect x="1039.9" y="265.21" width="11.5" height="9.84" fill="#228b8d"/>
<rect x="1051.1" y="265.21" width="11.5" height="9.84" fill="#440154"/>
<rect x="1073.5" y="265.21" width="11.5" height="9.84" fill="#472a7a"/>
<rect x="1084.7" y="265.21" width="11.5" height="9.84" fill="#440154"/>
<rect x="1140.7" y="265.21" width="11.5" height="9.84" fill="#440154"/>
<rect x="1174.3" y="265.21" width="11.5" height="9.84" fill="#472a7a"/>
<rect x="1185.5" y="265.21" width="11.5" height="9.84" fill="#440154"/>
<rect x="1207.9" y="265.21" width="11.5" height="9.84" fill="#440154"/>
<rect x="983.9" y="274.75" width="11.5" height="9.84" fill="#472a7a"/>
<rect x="995.1" y="274.75" width="11.5" height="9.84" fill="#2f6c8e"/>
<rect x="1006.3" y="274.75" width="11.5" height="9.84" fill="#3e4989"/>
<rect x="1017.5" y="274.75" width="11.5" height="9.84" fill="#2f6c8e"/>
<rect x="1039.9" y="274.75" width="11.5" height="9.84" fill="#228b8d"/>
<rect x="1051.1" y="274.75" width="11.5" height="9.84" fill="#440154"/>
<rect x="1062.3" y="274.75" width="11.5" height="9.84" fill="#440154"/>
<rect x="1073.5" y="274.75" width="11.5" height="9.84" fill="#440154"/>
<rect x="1084.7" y="274.75" width="11.5" height="9.84" fill="#440154"/>
<rect x="1107.1" y="274.75" width="11.5" height="9.84" fill="#3e4989"/>
<rect x="1118.3" y="274.75" width="11.5" height="9.84" fill="#472a7a"/>
<rect x="1140.7" y="274.75" width="11.5" height="9.84" fill="#472a7a"/>
<rect x="1151.9" y="274.75" width="11.5" height="9.84" fill="#440154"/>
<rect x="1163.1" y="274.75" width="11.5" height="9.84" fill="#472a7a"/>
<rect x="1174.3" y="274.75" width="11.5" height="9.84" fill="#440154"/>
<rect x="1185.5" y="274.75" width="11.5" height="9.84" fill="#440154"/>
<rect x="1207.9" y="274.75" width="11.5" height="9.84" fill="#440154"/>
<rect x="1219.1" y="274.75" width="11.5" height="9.84" fill="#440154"/>
<rect x="1263.9" y="274.75" width="11.5" height="9.84" fill="#440154"/>
<rect x="983.9" y="284.29" width="11.5" height="9.84" fill="#472a7a"/>
<rect x="995.1" y="284.29" width="11.5" height="9.84" fill="#228b8d"/>
<rect x="1006.3" y="284.29" width="11.5" height="9.84" fill="#2f6c8e"/>
<rect x="1017.5" y="284.29" width="11.5" height="9.84" fill="#2f6c8e"/>
<rect x="1028.7" y="284.29" width="11.5" height="9.84" fill="#440154"/>
<rect x="1039.9" y="284.29" width="11.5" height="9.84" fill="#2f6c8e"/>
<rect x="1051.1" y="284.29" width="11.5" height="9.84" fill="#440154"/>
<rect x="1084.7" y="284.29" width="11.5" height="9.84" fill="#472a7a"/>
<rect x="1107.1" y="284.29" width="11.5" height="9.84" fill="#472a7a"/>
<rect x="1118.3" y="284.29" width="11.5" height="9.84" fill="#3e4989"/>
<rect x="1140.7" y="284.29" width="11.5" height="9.84" fill="#3e4989"/>
<rect x="1151.9" y="284.29" width="11.5" height="9.84" fill="#440154"/>
<rect x="1163.1" y="284.29" width="11.5" height="9.84" fill="#440154"/>
<rect x="1185.5" y="284.29" width="11.5" height="9.84" fill="#440154"/>
<rect x="1230.3" y="284.29" width="11.5" height="9.84" fill="#440154"/>
<rect x="972.7" y="293.83" width="11.5" height="9.84" fill="#440154"/>
<rect x="983.9" y="293.83" width="11.5" height="9.84" fill="#3e4989"/>
<rect x="995.1" y="293.83" width="11.5" height="9.84" fill="#228b8d"/>
<rect x="1006.3" y="293.83" width="11.5" height="9.84" fill="#20a386"/>
<rect x="1017.5" y="293.83" width="11.5" height="9.84" fill="#2f6c8e"/>
<rect x="1039.9" y="293.83" width="11.5" height="9.84" fill="#2f6c8e"/>
<rect x="1051.1" y="293.83" width="11.5" height="9.84" fill="#440154"/>
<rect x="1062.3" y="293.83" width="11.5" height="9.84" fill="#2f6c8e"/>
<rect x="1073.5" y="293.83" width="11.5" height="9.84" fill="#3e4989"/>
<rect x="1084.7" y="293.83" width="11.5" height="9.84" fill="#3e4989"/>
<rect x="1095.9" y="293.83" width="11.5" height="9.84" fill="#3e4989"/>
<rect x="1107.1" y="293.83" width="11.5" height="9.84" fill="#228b8d"/>
<rect x="1118.3" y="293.83" width="11.5" height="9.84" fill="#2f6c8e"/>
<rect x="1129.5" y="293.83" width="11.5" height="9.84" fill="#440154"/>
<rect x="1140.7" y="293.83" width="11.5" height="9.84" fill="#472a7a"/>
<rect x="1151.9" y="293.83" width="11.5" height="9.84" fill="#472a7a"/>
<rect x="1185.5" y="293.83" width="11.5" height="9.84" fill="#440154"/>
<rect x="1219.1" y="293.83" width="11.5" height="9.84" fill="#440154"/>
<rect x="1241.5" y="293.83" width="11.5" height="9.84" fill="#440154"/>
<rect x="972.7" y="303.36" width="11.5" height="9.84" fill="#440154"/>
<rect x="983.9" y="303.36" width="11.5" height="9.84" fill="#3e4989"/>
<rect x="995.1" y="303.36" width="11.5" height="9.84" fill="#2f6c8e"/>
<rect x="1006.3" y="303.36" width="11.5" height="9.84" fill="#2f6c8e"/>
<rect x="1017.5" y="303.36" width="11.5" height="9.84" fill="#2f6c8e"/>
<rect x="1028.7" y="303.36" width="11.5" height="9.84" fill="#3e4989"/>
<rect x="1039.9" y="303.36" width="11.5" height="9.84" fill="#2f6c8e"/>
<rect x="1051.1" y="303.36" width="11.5" height="9.84" fill="#440154"/>
<rect x="1062.3" y="303.36" width="11.5" height="9.84" fill="#440154"/>
<rect x="1073.5" y="303.36" width="11.5" height="9.84" fill="#2f6c8e"/>
<rect x="1084.7" y="303.36" width="11.5" height="9.84" fill="#440154"/>
<rect x="1095.9" y="303.36" width="11.5" height="9.84" fill="#20a386"/>
<rect x="1107.1" y="303.36" width="11.5" height="9.84" fill="#228b8d"/>
<rect x="1118.3" y="303.36" width="11.5" height="9.84" fill="#20a386"/>
<rect x="1129.5" y="303.36" width="11.5" height="9.84" fill="#2f6c8e"/>
<rect x="1140.7" y="303.36" width="11.5" height="9.84" fill="#440154"/>
<rect x="1163.1" y="303.36" width="11.5" height="9.84" fill="#472a7a"/>
<rect x="1185.5" y="303.36" width="11.5" height="9.84" fill="#440154"/>
<rect x="1230.3" y="303.36" width="11.5" height="9.84" fill="#440154"/>
<rect x="983.9" y="312.9" width="11.5" height="9.84" fill="#472a7a"/>
<rect x="995.1" y="312.9" width="11.5" height="9.84" fill="#472a7a"/>
<rect x="1006.3" y="312.9" width="11.5" height="9.84" fill="#3e4989"/>
<rect x="1017.5" y="312.9" width="11.5" height="9.84" fill="#2f6c8e"/>
<rect x="1028.7" y="312.9" width="11.5" height="9.84" fill="#472a7a"/>
<rect x="1039.9" y="312.9" width="11.5" height="9.84" fill="#2f6c8e"/>
<rect x="1051.1" y="312.9" width="11.5" height="9.84" fill="#2f6c8e"/>
<rect x="1062.3" y="312.9" width="11.5" height="9.84" fill="#2f6c8e"/>
<rect x="1073.5" y="312.9" width="11.5" height="9.84" fill="#2f6c8e"/>
<rect x="1084.7" y="312.9" width="11.5" height="9.84" fill="#3e4989"/>
<rect x="1095.9" y="312.9" width="11.5" height="9.84" fill="#472a7a"/>
<rect x="1107.1" y="312.9" width="11.5" height="9.84" fill="#20a386"/>
<rect x="1118.3" y="312.9" width="11.5" height="9.84" fill="#3e4989"/>
<rect x="1129.5" y="312.9" width="11.5" height="9.84" fill="#440154"/>
<rect x="1140.7" y="312.9" width="11.5" height="9.84" fill="#440154"/>
<rect x="1151.9" y="312.9" width="11.5" height="9.84" fill="#440154"/>
<rect x="1230.3" y="312.9" width="11.5" height="9.84" fill="#440154"/>
<rect x="1409.5" y="312.9" width="11.5" height="9.84" fill="#440154"/>
<rect x="995.1" y="322.44" width="11.5" height="9.84" fill="#2f6c8e"/>
<rect x="1006.3" y="322.44" width="11.5" height="9.84" fill="#228b8d"/>
<rect x="1017.5" y="322.44" width="11.5" height="9.84" fill="#3e4989"/>
<rect x="1028.7" y="322.44" width="11.5" height="9.84" fill="#3e4989"/>
<rect x="1039.9" y="322.44" width="11.5" height="9.84" fill="#2f6c8e"/>
<rect x="1051.1" y="322.44" width="11.5" height="9.84" fill="#3e4989"/>
<rect x="1062.3" y="322.44" width="11.5" height="9.84" fill="#3e4989"/>
<rect x="1073.5" y="322.44" width="11.5" height="9.84" fill="#472a7a"/>
<rect x="1084.7" y="322.44" width="11.5" height="9.84" fill="#3e4989"/>
<rect x="1095.9" y="322.44" width="11.5" height="9.84" fill="#2f6c8e"/>
<rect x="1107.1" y="322.44" width="11.5" height="9.84" fill="#2f6c8e"/>
<rect x="1118.3" y="322.44" width="11.5" height="9.84" fill="#3e4989"/>
<rect x="1129.5" y="322.44" width="11.5" height="9.84" fill="#440154"/>
<rect x="1151.9" y="322.44" width="11.5" height="9.84" fill="#440154"/>
<rect x="1163.1" y="322.44" width="11.5" height="9.84" fill="#440154"/>
<rect x="1196.7" y="322.44" width="11.5" height="9.84" fill="#440154"/>
<rect x="1308.7" y="322.44" width="11.5" height="9.84" fill="#440154"/>
<rect x="972.7" y="331.98" width="11.5" height="9.84" fill="#440154"/>
<rect x="995.1" y="331.98" width="11.5" height="9.84" fill="#3e4989"/>
<rect x="1006.3" y="331.98" width="11.5" height="9.84" fill="#2f6c8e"/>
<rect x="1017.5" y="331.98" width="11.5" height="9.84" fill="#20a386"/>
<rect x="1028.7" y="331.98" width="11.5" height="9.84" fill="#472a7a"/>
<rect x="1039.9" y="331.98" width="11.5" height="9.84" fill="#2f6c8e"/>
<rect x="1051.1" y="331.98" width="11.5" height="9.84" fill="#20a386"/>
<rect x="1062.3" y="331.98" width="11.5" height="9.84" fill="#2f6c8e"/>
<rect x="1073.5" y="331.98" width="11.5" height="9.84" fill="#2f6c8e"/>
<rect x="1084.7" y="331.98" width="11.5" height="9.84" fill="#2f6c8e"/>
<rect x="1095.9" y="331.98" width="11.5" height="9.84" fill="#440154"/>
<rect x="1107.1" y="331.98" width="11.5" height="9.84" fill="#2f6c8e"/>
<rect x="1118.3" y="331.98" width="11.5" height="9.84" fill="#472a7a"/>
<rect x="1129.5" y="331.98" width="11.5" height="9.84" fill="#440154"/>
<rect x="1174.3" y="331.98" width="11.5" height="9.84" fill="#440154"/>
<rect x="1219.1" y="331.98" width="11.5" height="9.84" fill="#440154"/>
<rect x="995.1" y="341.52" width="11.5" height="9.84" fill="#472a7a"/>
<rect x="1006.3" y="341.52" width="11.5" height="9.84" fill="#228b8d"/>
<rect x="1017.5" y="341.52" width="11.5" height="9.84" fill="#228b8d"/>
<rect x="1028.7" y="341.52" width="11.5" height="9.84" fill="#472a7a"/>
<rect x="1039.9" y="341.52" width="11.5" height="9.84" fill="#2f6c8e"/>
<rect x="1051.1" y="341.52" width="11.5" height="9.84" fill="#228b8d"/>
<rect x="1062.3" y="341.52" width="11.5" height="9.84" fill="#440154"/>
<rect x="1073.5" y="341.52" width="11.5" height="9.84" fill="#228b8d"/>
<rect x="1084.7" y="341.52" width="11.5" height="9.84" fill="#472a7a"/>
<rect x="1095.9" y="341.52" width="11.5" height="9.84" fill="#440154"/>
<rect x="1107.1" y="341.52" width="11.5" height="9.84" fill="#472a7a"/>
<rect x="1118.3" y="341.52" width="11.5" height="9.84" fill="#440154"/>
<rect x="1129.5" y="341.52" width="11.5" height="9.84" fill="#440154"/>
<rect x="1219.1" y="341.52" width="11.5" height="9.84" fill="#440154"/>
<rect x="1252.7" y="341.52" width="11.5" height="9.84" fill="#440154"/>
<rect x="972.7" y="351.05" width="11.5" height="9.84" fill="#440154"/>
<rect x="995.1" y="351.05" width="11.5" height="9.84" fill="#472a7a"/>
<rect x="1006.3" y="351.05" width="11.5" height="9.84" fill="#44bf70"/>
<rect x="1017.5" y="351.05" width="11.5" height="9.84" fill="#20a386"/>
<rect x="1028.7" y="351.05" width="11.5" height="9.84" fill="#3e4989"/>
<rect x="1039.9" y="351.05" width="11.5" height="9.84" fill="#2f6c8e"/>
<rect x="1051.1" y="351.05" width="11.5" height="9.84" fill="#2f6c8e"/>
<rect x="1062.3" y="351.05" width="11.5" height="9.84" fill="#44bf70"/>
<rect x="1073.5" y="351.05" width="11.5" height="9.84" fill="#228b8d"/>
<rect x="1084.7" y="351.05" width="11.5" height="9.84" fill="#472a7a"/>
<rect x="1107.1" y="351.05" width="11.5" height="9.84" fill="#440154"/>
<rect x="1185.5" y="351.05" width="11.5" height="9.84" fill="#472a7a"/>
<rect x="1207.9" y="351.05" width="11.5" height="9.84" fill="#440154"/>
<rect x="1409.5" y="351.05" width="11.5" height="9.84" fill="#440154"/>
<rect x="995.1" y="360.59" width="11.5" height="9.84" fill="#472a7a"/>
<rect x="1006.3" y="360.59" width="11.5" height="9.84" fill="#20a386"/>
<rect x="1017.5" y="360.59" width="11.5" height="9.84" fill="#3e4989"/>
<rect x="1028.7" y="360.59" width="11.5" height="9.84" fill="#2f6c8e"/>
<rect x="1039.9" y="360.59" width="11.5" height="9.84" fill="#2f6c8e"/>
<rect x="1051.1" y="360.59" width="11.5" height="9.84" fill="#228b8d"/>
<rect x="1062.3" y="360.59" width="11.5" height="9.84" fill="#44bf70"/>
<rect x="1073.5" y="360.59" width="11.5" height="9.84" fill="#2f6c8e"/>
<rect x="1084.7" y="360.59" width="11.5" height="9.84" fill="#472a7a"/>
<rect x="1095.9" y="360.59" width="11.5" height="9.84" fill="#472a7a"/>
<rect x="1107.1" y="360.59" width="11.5" height="9.84" fill="#3e4989"/>
<rect x="1185.5" y="360.59" width="11.5" height="9.84" fill="#440154"/>
<rect x="983.9" y="370.13" width="11.5" height="9.84" fill="#3e4989"/>
<rect x="995.1" y="370.13" width="11.5" height="9.84" fill="#2f6c8e"/>
<rect x="1006.3" y="370.13" width="11.5" height="9.84" fill="#2f6c8e"/>
<rect x="1017.5" y="370.13" width="11.5" height="9.84" fill="#2f6c8e"/>
<rect x="1028.7" y="370.13" width="11.5" height="9.84" fill="#472a7a"/>
<rect x="1039.9" y="370.13" width="11.5" height="9.84" fill="#228b8d"/>
<rect x="1051.1" y="370.13" width="11.5" height="9.84" fill="#44bf70"/>
<rect x="1062.3" y="370.13" width="11.5" height="9.84" fill="#20a386"/>
<rect x="1073.5" y="370.13" width="11.5" height="9.84" fill="#2f6c8e"/>
<rect x="1095.9" y="370.13" width="11.5" height="9.84" fill="#440154"/>
<rect x="1107.1" y="370.13" width="11.5" height="9.84" fill="#472a7a"/>
<rect x="983.9" y="379.67" width="11.5" height="9.84" fill="#3e4989"/>
<rect x="995.1" y="379.67" width="11.5" height="9.84" fill="#228b8d"/>
<rect x="1006.3" y="379.67" width="11.5" height="9.84" fill="#2f6c8e"/>
<rect x="1017.5" y="379.67" width="11.5" height="9.84" fill="#2f6c8e"/>
<rect x="1028.7" y="379.67" width="11.5" height="9.84" fill="#228b8d"/>
<rect x="1039.9" y="379.67" width="11.5" height="9.84" fill="#20a386"/>
<rect x="1051.1" y="379.67" width="11.5" height="9.84" fill="#20a386"/>
<rect x="1062.3" y="379.67" width="11.5" height="9.84" fill="#228b8d"/>
<rect x="1073.5" y="379.67" width="11.5" height="9.84" fill="#472a7a"/>
<rect x="1084.7" y="379.67" width="11.5" height="9.84" fill="#440154"/>
<rect x="1095.9" y="379.67" width="11.5" height="9.84" fill="#2f6c8e"/>
<rect x="1118.3" y="379.67" width="11.5" height="9.84" fill="#472a7a"/>
<rect x="983.9" y="389.21" width="11.5" height="9.84" fill="#440154"/>
<rect x="995.1" y="389.21" width="11.5" height="9.84" fill="#2f6c8e"/>
<rect x="1006.3" y="389.21" width="11.5" height="9.84" fill="#2f6c8e"/>
<rect x="1017.5" y="389.21" width="11.5" height="9.84" fill="#20a386"/>
<rect x="1028.7" y="389.21" width="11.5" height="9.84" fill="#20a386"/>
<rect x="1039.9" y="389.21" width="11.5" height="9.84" fill="#228b8d"/>
<rect x="1051.1" y="389.21" width="11.5" height="9.84" fill="#2f6c8e"/>
<rect x="1062.3" y="389.21" width="11.5" height="9.84" fill="#3e4989"/>
<rect x="1073.5" y="389.21" width="11.5" height="9.84" fill="#2f6c8e"/>
<rect x="1084.7" y="389.21" width="11.5" height="9.84" fill="#472a7a"/>
<rect x="1107.1" y="389.21" width="11.5" height="9.84" fill="#440154"/>
<rect x="1252.7" y="389.21" width="11.5" height="9.84" fill="#440154"/>
<rect x="983.9" y="398.74" width="11.5" height="9.84" fill="#440154"/>
<rect x="995.1" y="398.74" width="11.5" height="9.84" fill="#228b8d"/>
<rect x="1006.3" y="398.74" width="11.5" height="9.84" fill="#20a386"/>
<rect x="1017.5" y="398.74" width="11.5" height="9.84" fill="#44bf70"/>
<rect x="1028.7" y="398.74" width="11.5" height="9.84" fill="#228b8d"/>
<rect x="1039.9" y="398.74" width="11.5" height="9.84" fill="#2f6c8e"/>
<rect x="1051.1" y="398.74" width="11.5" height="9.84" fill="#3e4989"/>
<rect x="1062.3" y="398.74" width="11.5" height="9.84" fill="#440154"/>
<rect x="1107.1" y="398.74" width="11.5" height="9.84" fill="#440154"/>
<rect x="1196.7" y="398.74" width="11.5" height="9.84" fill="#440154"/>
<rect x="983.9" y="408.28" width="11.5" height="9.84" fill="#440154"/>
<rect x="995.1" y="408.28" width="11.5" height="9.84" fill="#440154"/>
<rect x="1006.3" y="408.28" width="11.5" height="9.84" fill="#44bf70"/>
<rect x="1017.5" y="408.28" width="11.5" height="9.84" fill="#7ad151"/>
<rect x="1028.7" y="408.28" width="11.5" height="9.84" fill="#228b8d"/>
<rect x="1039.9" y="408.28" width="11.5" height="9.84" fill="#440154"/>
<rect x="1051.1" y="408.28" width="11.5" height="9.84" fill="#440154"/>
<rect x="1062.3" y="408.28" width="11.5" height="9.84" fill="#440154"/>
<rect x="1073.5" y="408.28" width="11.5" height="9.84" fill="#3e4989"/>
<rect x="1084.7" y="408.28" width="11.5" height="9.84" fill="#440154"/>
<rect x="1196.7" y="408.28" width="11.5" height="9.84" fill="#440154"/>
<rect x="1241.5" y="408.28" width="11.5" height="9.84" fill="#440154"/>
<rect x="983.9" y="417.82" width="11.5" height="9.84" fill="#472a7a"/>
<rect x="995.1" y="417.82" width="11.5" height="9.84" fill="#7ad151"/>
<rect x="1006.3" y="417.82" width="11.5" height="9.84" fill="#fde725"/>
<rect x="1017.5" y="417.82" width="11.5" height="9.84" fill="#20a386"/>
<rect x="1028.7" y="417.82" width="11.5" height="9.84" fill="#472a7a"/>
<rect x="1039.9" y="417.82" width="11.5" height="9.84" fill="#2f6c8e"/>
<rect x="1051.1" y="417.82" width="11.5" height="9.84" fill="#472a7a"/>
<rect x="1062.3" y="417.82" width="11.5" height="9.84" fill="#472a7a"/>
<rect x="1084.7" y="417.82" width="11.5" height="9.84" fill="#440154"/>
<rect x="1129.5" y="417.82" width="11.5" height="9.84" fill="#440154"/>
<rect x="972.7" y="427.36" width="11.5" height="9.84" fill="#20a386"/>
<rect x="983.9" y="427.36" width="11.5" height="9.84" fill="#2f6c8e"/>
<rect x="995.1" y="427.36" width="11.5" height="9.84" fill="#bddf26"/>
<rect x="1006.3" y="427.36" width="11.5" height="9.84" fill="#7ad151"/>
<rect x="1017.5" y="427.36" width="11.5" height="9.84" fill="#2f6c8e"/>
<rect x="1028.7" y="427.36" width="11.5" height="9.84" fill="#440154"/>
<rect x="1039.9" y="427.36" width="11.5" height="9.84" fill="#228b8d"/>
<rect x="1084.7" y="427.36" width="11.5" height="9.84" fill="#440154"/>
<rect x="1185.5" y="427.36" width="11.5" height="9.84" fill="#440154"/>
<rect x="972.7" y="436.9" width="11.5" height="9.84" fill="#2f6c8e"/>
<rect x="983.9" y="436.9" width="11.5" height="9.84" fill="#44bf70"/>
<rect x="995.1" y="436.9" width="11.5" height="9.84" fill="#44bf70"/>
<rect x="1006.3" y="436.9" width="11.5" height="9.84" fill="#44bf70"/>
<rect x="1017.5" y="436.9" width="11.5" height="9.84" fill="#472a7a"/>
<rect x="1028.7" y="436.9" width="11.5" height="9.84" fill="#440154"/>
<rect x="1039.9" y="436.9" width="11.5" height="9.84" fill="#228b8d"/>
<rect x="1051.1" y="436.9" width="11.5" height="9.84" fill="#440154"/>
<rect x="1062.3" y="436.9" width="11.5" height="9.84" fill="#3e4989"/>
<rect x="983.9" y="446.43" width="11.5" height="9.84" fill="#440154"/>
<rect x="995.1" y="446.43" width="11.5" height="9.84" fill="#440154"/>
<rect x="1006.3" y="446.43" width="11.5" height="9.84" fill="#472a7a"/>
<rect x="1017.5" y="446.43" width="11.5" height="9.84" fill="#2f6c8e"/>
<rect x="1028.7" y="446.43" width="11.5" height="9.84" fill="#472a7a"/>
<rect x="1084.7" y="446.43" width="11.5" height="9.84" fill="#440154"/>
<rect x="1006.3" y="455.97" width="11.5" height="9.84" fill="#440154"/>
<rect x="1028.7" y="455.97" width="11.5" height="9.84" fill="#472a7a"/>
<rect x="1084.7" y="455.97" width="11.5" height="9.84" fill="#440154"/>
<rect x="1017.5" y="465.51" width="11.5" height="9.84" fill="#3e4989"/>
<rect x="1028.7" y="465.51" width="11.5" height="9.84" fill="#440154"/>
<rect x="1084.7" y="465.51" width="11.5" height="9.84" fill="#440154"/>
</g>
<clipPath id="ct1"><rect x="905.5" y="36.3" width="560" height="476.9"/></clipPath>
<g clip-path="url(#ct1)" stroke="#000" stroke-width="2.08" fill="none">
<line x1="895.45" y1="522.26" x2="1475.55" y2="26.83" stroke-dasharray="7.7 3.33"/>
<line x1="905.5" y1="445" x2="1465.5" y2="121.3"/>
</g>
<rect x="927.94" y="45" width="300.28" height="39" fill="#fff" fill-opacity="0.5"/>
<text x="933.2" y="72.6" font-size="27.78" text-anchor="start">Fit: y = 0.68x + 1.33</text>
<rect x="905.5" y="36.3" width="560" height="476.9" fill="none" stroke="#000" stroke-width="1.11"/>
<line x1="943.18" y1="513.2" x2="943.18" y2="518.06" stroke="#000" stroke-width="1.11"/>
<text x="943.18" y="540.6" font-size="22.22" text-anchor="middle">0</text>
<line x1="1043.67" y1="513.2" x2="1043.67" y2="518.06" stroke="#000" stroke-width="1.11"/>
<text x="1043.67" y="540.6" font-size="22.22" text-anchor="middle">2</text>
<line x1="1144.15" y1="513.2" x2="1144.15" y2="518.06" stroke="#000" stroke-width="1.11"/>
<text x="1144.15" y="540.6" font-size="22.22" text-anchor="middle">4</text>
<line x1="1244.64" y1="513.2" x2="1244.64" y2="518.06" stroke="#000" stroke-width="1.11"/>
<text x="1244.64" y="540.6" font-size="22.22" text-anchor="middle">6</text>
<line x1="1345.12" y1="513.2" x2="1345.12" y2="518.06" stroke="#000" stroke-width="1.11"/>
<text x="1345.12" y="540.6" font-size="22.22" text-anchor="middle">8</text>
<line x1="1445.6" y1="513.2" x2="1445.6" y2="518.06" stroke="#000" stroke-width="1.11"/>
<text x="1445.6" y="540.6" font-size="22.22" text-anchor="middle">10</text>
<line x1="900.64" y1="481.5" x2="905.5" y2="481.5" stroke="#000" stroke-width="1.11"/>
<text x="894.5" y="489.8" font-size="22.22" text-anchor="end">0</text>
<line x1="900.64" y1="395.68" x2="905.5" y2="395.68" stroke="#000" stroke-width="1.11"/>
<text x="894.5" y="403.98" font-size="22.22" text-anchor="end">2</text>
<line x1="900.64" y1="309.86" x2="905.5" y2="309.86" stroke="#000" stroke-width="1.11"/>
<text x="894.5" y="318.16" font-size="22.22" text-anchor="end">4</text>
<line x1="900.64" y1="224.04" x2="905.5" y2="224.04" stroke="#000" stroke-width="1.11"/>
<text x="894.5" y="232.34" font-size="22.22" text-anchor="end">6</text>
<line x1="900.64" y1="138.22" x2="905.5" y2="138.22" stroke="#000" stroke-width="1.11"/>
<text x="894.5" y="146.52" font-size="22.22" text-anchor="end">8</text>
<line x1="900.64" y1="52.4" x2="905.5" y2="52.4" stroke="#000" stroke-width="1.11"/>
<text x="894.5" y="60.7" font-size="22.22" text-anchor="end">10</text>
<text x="1185.5" y="569.8" font-size="22.22" text-anchor="middle">ACTRIS CTH [km]</text>
<text x="1184" y="27.9" font-size="22.22" text-anchor="middle">CTH (AMSL) Single-Layer-Water</text>
<text transform="translate(854.72 275.75) rotate(-90)" font-size="22.22" text-anchor="middle">FCI/OCA CTH [km]</text>
<rect x="1500.5" y="36.3" width="23.1" height="476.9" fill="url(#vg)" stroke="#000" stroke-width="1.11"/>
<line x1="1523.6" y1="513.2" x2="1528.46" y2="513.2" stroke="#000" stroke-width="1.11"/>
<text x="1534.1" y="519.8" font-size="13.89" text-anchor="start">10<tspan dy="-5.1" font-size="9.72">0</tspan></text>
<line x1="1523.6" y1="447.18" x2="1526.38" y2="447.18" stroke="#000" stroke-width="0.83"/>
<line x1="1523.6" y1="408.57" x2="1526.38" y2="408.57" stroke="#000" stroke-width="0.83"/>
<line x1="1523.6" y1="381.17" x2="1526.38" y2="381.17" stroke="#000" stroke-width="0.83"/>
<line x1="1523.6" y1="359.92" x2="1526.38" y2="359.92" stroke="#000" stroke-width="0.83"/>
<line x1="1523.6" y1="342.55" x2="1526.38" y2="342.55" stroke="#000" stroke-width="0.83"/>
<line x1="1523.6" y1="327.87" x2="1526.38" y2="327.87" stroke="#000" stroke-width="0.83"/>
<line x1="1523.6" y1="315.15" x2="1526.38" y2="315.15" stroke="#000" stroke-width="0.83"/>
<line x1="1523.6" y1="303.93" x2="1526.38" y2="303.93" stroke="#000" stroke-width="0.83"/>
<line x1="1523.6" y1="293.9" x2="1528.46" y2="293.9" stroke="#000" stroke-width="1.11"/>
<text x="1534.1" y="300.5" font-size="13.89" text-anchor="start">10<tspan dy="-5.1" font-size="9.72">1</tspan></text>
<line x1="1523.6" y1="227.88" x2="1526.38" y2="227.88" stroke="#000" stroke-width="0.83"/>
<line x1="1523.6" y1="189.27" x2="1526.38" y2="189.27" stroke="#000" stroke-width="0.83"/>
<line x1="1523.6" y1="161.87" x2="1526.38" y2="161.87" stroke="#000" stroke-width="0.83"/>
<line x1="1523.6" y1="140.61" x2="1526.38" y2="140.61" stroke="#000" stroke-width="0.83"/>
<line x1="1523.6" y1="123.25" x2="1526.38" y2="123.25" stroke="#000" stroke-width="0.83"/>
<line x1="1523.6" y1="108.57" x2="1526.38" y2="108.57" stroke="#000" stroke-width="0.83"/>
<line x1="1523.6" y1="95.85" x2="1526.38" y2="95.85" stroke="#000" stroke-width="0.83"/>
<line x1="1523.6" y1="84.63" x2="1526.38" y2="84.63" stroke="#000" stroke-width="0.83"/>
<line x1="1523.6" y1="74.6" x2="1528.46" y2="74.6" stroke="#000" stroke-width="1.11"/>
<text x="1534.1" y="81.2" font-size="13.89" text-anchor="start">10<tspan dy="-5.1" font-size="9.72">2</tspan></text>
<text transform="translate(1574.7 276.05) rotate(-90)" font-size="13.89" text-anchor="middle">Counts</text>
<g shape-rendering="crispEdges">
<rect x="1940.7" y="64.91" width="11.5" height="9.84" fill="#440154"/>
<rect x="2019.1" y="122.14" width="11.5" height="9.84" fill="#440154"/>
<rect x="2019.1" y="131.68" width="11.5" height="9.84" fill="#440154"/>
<rect x="2075.1" y="131.68" width="11.5" height="9.84" fill="#440154"/>
<rect x="1884.7" y="141.22" width="11.5" height="9.84" fill="#440154"/>
<rect x="1918.3" y="141.22" width="11.5" height="9.84" fill="#440154"/>
<rect x="1929.5" y="141.22" width="11.5" height="9.84" fill="#3e4989"/>
<rect x="1940.7" y="141.22" width="11.5" height="9.84" fill="#3e4989"/>
<rect x="1951.9" y="141.22" width="11.5" height="9.84" fill="#440154"/>
<rect x="1963.1" y="141.22" width="11.5" height="9.84" fill="#3e4989"/>
<rect x="1996.7" y="141.22" width="11.5" height="9.84" fill="#440154"/>
<rect x="1828.7" y="150.76" width="11.5" height="9.84" fill="#440154"/>
<rect x="1895.9" y="150.76" width="11.5" height="9.84" fill="#440154"/>
<rect x="1918.3" y="150.76" width="11.5" height="9.84" fill="#440154"/>
<rect x="1929.5" y="150.76" width="11.5" height="9.84" fill="#440154"/>
<rect x="1963.1" y="150.76" width="11.5" height="9.84" fill="#440154"/>
<rect x="1996.7" y="150.76" width="11.5" height="9.84" fill="#440154"/>
<rect x="2052.7" y="150.76" width="11.5" height="9.84" fill="#440154"/>
<rect x="1817.5" y="160.29" width="11.5" height="9.84" fill="#3e4989"/>
<rect x="1884.7" y="160.29" width="11.5" height="9.84" fill="#440154"/>
<rect x="1918.3" y="160.29" width="11.5" height="9.84" fill="#3e4989"/>
<rect x="1929.5" y="160.29" width="11.5" height="9.84" fill="#440154"/>
<rect x="1951.9" y="160.29" width="11.5" height="9.84" fill="#3e4989"/>
<rect x="1985.5" y="160.29" width="11.5" height="9.84" fill="#3e4989"/>
<rect x="1996.7" y="160.29" width="11.5" height="9.84" fill="#440154"/>
<rect x="2063.9" y="160.29" width="11.5" height="9.84" fill="#440154"/>
<rect x="2075.1" y="160.29" width="11.5" height="9.84" fill="#440154"/>
<rect x="2086.3" y="160.29" width="11.5" height="9.84" fill="#3e4989"/>
<rect x="2097.5" y="160.29" width="11.5" height="9.84" fill="#440154"/>
<rect x="2108.7" y="160.29" width="11.5" height="9.84" fill="#3e4989"/>
<rect x="2131.1" y="160.29" width="11.5" height="9.84" fill="#440154"/>
<rect x="1806.3" y="169.83" width="11.5" height="9.84" fill="#440154"/>
<rect x="1929.5" y="169.83" width="11.5" height="9.84" fill="#3e4989"/>
<rect x="1940.7" y="169.83" width="11.5" height="9.84" fill="#440154"/>
<rect x="1951.9" y="169.83" width="11.5" height="9.84" fill="#440154"/>
<rect x="1985.5" y="169.83" width="11.5" height="9.84" fill="#3e4989"/>
<rect x="1996.7" y="169.83" width="11.5" height="9.84" fill="#440154"/>
<rect x="2007.9" y="169.83" width="11.5" height="9.84" fill="#440154"/>
<rect x="2052.7" y="169.83" width="11.5" height="9.84" fill="#2f6c8e"/>
<rect x="2063.9" y="169.83" width="11.5" height="9.84" fill="#2f6c8e"/>
<rect x="2075.1" y="169.83" width="11.5" height="9.84" fill="#440154"/>
<rect x="2119.9" y="169.83" width="11.5" height="9.84" fill="#3e4989"/>
<rect x="2131.1" y="169.83" width="11.5" height="9.84" fill="#440154"/>
<rect x="1851.1" y="179.37" width="11.5" height="9.84" fill="#440154"/>
<rect x="1895.9" y="179.37" width="11.5" height="9.84" fill="#440154"/>
<rect x="1907.1" y="179.37" width="11.5" height="9.84" fill="#3e4989"/>
<rect x="1940.7" y="179.37" width="11.5" height="9.84" fill="#440154"/>
<rect x="1951.9" y="179.37" width="11.5" height="9.84" fill="#440154"/>
<rect x="1963.1" y="179.37" width="11.5" height="9.84" fill="#3e4989"/>
<rect x="1974.3" y="179.37" width="11.5" height="9.84" fill="#3e4989"/>
<rect x="1996.7" y="179.37" width="11.5" height="9.84" fill="#440154"/>
<rect x="2007.9" y="179.37" width="11.5" height="9.84" fill="#440154"/>
<rect x="2019.1" y="179.37" width="11.5" height="9.84" fill="#440154"/>
<rect x="2030.3" y="179.37" width="11.5" height="9.84" fill="#2f6c8e"/>
<rect x="2041.5" y="179.37" width="11.5" height="9.84" fill="#228b8d"/>
<rect x="2052.7" y="179.37" width="11.5" height="9.84" fill="#3e4989"/>
<rect x="2063.9" y="179.37" width="11.5" height="9.84" fill="#228b8d"/>
<rect x="2075.1" y="179.37" width="11.5" height="9.84" fill="#228b8d"/>
<rect x="2086.3" y="179.37" width="11.5" height="9.84" fill="#228b8d"/>
<rect x="2097.5" y="179.37" width="11.5" height="9.84" fill="#20a386"/>
<rect x="2108.7" y="179.37" width="11.5" height="9.84" fill="#228b8d"/>
<rect x="2131.1" y="179.37" width="11.5" height="9.84" fill="#440154"/>
<rect x="1907.1" y="188.91" width="11.5" height="9.84" fill="#440154"/>
<rect x="1929.5" y="188.91" width="11.5" height="9.84" fill="#2f6c8e"/>
<rect x="1940.7" y="188.91" width="11.5" height="9.84" fill="#440154"/>
<rect x="1951.9" y="188.91" width="11.5" height="9.84" fill="#3e4989"/>
<rect x="1974.3" y="188.91" width="11.5" height="9.84" fill="#440154"/>
<rect x="1985.5" y="188.91" width="11.5" height="9.84" fill="#2f6c8e"/>
<rect x="2007.9" y="188.91" width="11.5" height="9.84" fill="#2f6c8e"/>
<rect x="2019.1" y="188.91" width="11.5" height="9.84" fill="#228b8d"/>
<rect x="2030.3" y="188.91" width="11.5" height="9.84" fill="#20a386"/>
<rect x="2041.5" y="188.91" width="11.5" height="9.84" fill="#3e4989"/>
<rect x="2052.7" y="188.91" width="11.5" height="9.84" fill="#44bf70"/>
<rect x="2063.9" y="188.91" width="11.5" height="9.84" fill="#20a386"/>
<rect x="2075.1" y="188.91" width="11.5" height="9.84" fill="#20a386"/>
<rect x="2086.3" y="188.91" width="11.5" height="9.84" fill="#44bf70"/>
<rect x="2097.5" y="188.91" width="11.5" height="9.84" fill="#44bf70"/>
<rect x="2108.7" y="188.91" width="11.5" height="9.84" fill="#20a386"/>
<rect x="2119.9" y="188.91" width="11.5" height="9.84" fill="#2f6c8e"/>
<rect x="2131.1" y="188.91" width="11.5" height="9.84" fill="#440154"/>
<rect x="1806.3" y="198.45" width="11.5" height="9.84" fill="#440154"/>
<rect x="1851.1" y="198.45" width="11.5" height="9.84" fill="#3e4989"/>
<rect x="1873.5" y="198.45" width="11.5" height="9.84" fill="#3e4989"/>
<rect x="1895.9" y="198.45" width="11.5" height="9.84" fill="#3e4989"/>
<rect x="1918.3" y="198.45" width="11.5" height="9.84" fill="#228b8d"/>
<rect x="1929.5" y="198.45" width="11.5" height="9.84" fill="#228b8d"/>
<rect x="1940.7" y="198.45" width="11.5" height="9.84" fill="#3e4989"/>
<rect x="1951.9" y="198.45" width="11.5" height="9.84" fill="#3e4989"/>
<rect x="1963.1" y="198.45" width="11.5" height="9.84" fill="#2f6c8e"/>
<rect x="1974.3" y="198.45" width="11.5" height="9.84" fill="#228b8d"/>
<rect x="1985.5" y="198.45" width="11.5" height="9.84" fill="#228b8d"/>
<rect x="1996.7" y="198.45" width="11.5" height="9.84" fill="#20a386"/>
<rect x="2007.9" y="198.45" width="11.5" height="9.84" fill="#2f6c8e"/>
<rect x="2019.1" y="198.45" width="11.5" height="9.84" fill="#44bf70"/>
<rect x="2030.3" y="198.45" width="11.5" height="9.84" fill="#44bf70"/>
<rect x="2041.5" y="198.45" width="11.5" height="9.84" fill="#7ad151"/>
<rect x="2052.7" y="198.45" width="11.5" height="9.84" fill="#7ad151"/>
<rect x="2063.9" y="198.45" width="11.5" height="9.84" fill="#7ad151"/>
<rect x="2075.1" y="198.45" width="11.5" height="9.84" fill="#7ad151"/>
<rect x="2086.3" y="198.45" width="11.5" height="9.84" fill="#bddf26"/>
<rect x="2097.5" y="198.45" width="11.5" height="9.84" fill="#7ad151"/>
<rect x="2108.7" y="198.45" width="11.5" height="9.84" fill="#44bf70"/>
<rect x="2119.9" y="198.45" width="11.5" height="9.84" fill="#228b8d"/>
<rect x="1817.5" y="207.98" width="11.5" height="9.84" fill="#440154"/>
<rect x="1839.9" y="207.98" width="11.5" height="9.84" fill="#440154"/>
<rect x="1862.3" y="207.98" width="11.5" height="9.84" fill="#440154"/>
<rect x="1873.5" y="207.98" width="11.5" height="9.84" fill="#440154"/>
<rect x="1884.7" y="207.98" width="11.5" height="9.84" fill="#440154"/>
<rect x="1895.9" y="207.98" width="11.5" height="9.84" fill="#3e4989"/>
<rect x="1907.1" y="207.98" width="11.5" height="9.84" fill="#440154"/>
<rect x="1918.3" y="207.98" width="11.5" height="9.84" fill="#228b8d"/>
<rect x="1929.5" y="207.98" width="11.5" height="9.84" fill="#3e4989"/>
<rect x="1940.7" y="207.98" width="11.5" height="9.84" fill="#3e4989"/>
<rect x="1951.9" y="207.98" width="11.5" height="9.84" fill="#3e4989"/>
<rect x="1963.1" y="207.98" width="11.5" height="9.84" fill="#3e4989"/>
<rect x="1974.3" y="207.98" width="11.5" height="9.84" fill="#2f6c8e"/>
<rect x="1985.5" y="207.98" width="11.5" height="9.84" fill="#2f6c8e"/>
<rect x="1996.7" y="207.98" width="11.5" height="9.84" fill="#2f6c8e"/>
<rect x="2007.9" y="207.98" width="11.5" height="9.84" fill="#44bf70"/>
<rect x="2019.1" y="207.98" width="11.5" height="9.84" fill="#7ad151"/>
<rect x="2030.3" y="207.98" width="11.5" height="9.84" fill="#7ad151"/>
<rect x="2041.5" y="207.98" width="11.5" height="9.84" fill="#20a386"/>
<rect x="2052.7" y="207.98" width="11.5" height="9.84" fill="#44bf70"/>
<rect x="2063.9" y="207.98" width="11.5" height="9.84" fill="#7ad151"/>
<rect x="2075.1" y="207.98" width="11.5" height="9.84" fill="#7ad151"/>
<rect x="2086.3" y="207.98" width="11.5" height="9.84" fill="#7ad151"/>
<rect x="2097.5" y="207.98" width="11.5" height="9.84" fill="#7ad151"/>
<rect x="2108.7" y="207.98" width="11.5" height="9.84" fill="#44bf70"/>
<rect x="2119.9" y="207.98" width="11.5" height="9.84" fill="#3e4989"/>
<rect x="1772.7" y="217.52" width="11.5" height="9.84" fill="#440154"/>
<rect x="1795.1" y="217.52" width="11.5" height="9.84" fill="#440154"/>
<rect x="1862.3" y="217.52" width="11.5" height="9.84" fill="#440154"/>
<rect x="1873.5" y="217.52" width="11.5" height="9.84" fill="#3e4989"/>
<rect x="1884.7" y="217.52" width="11.5" height="9.84" fill="#440154"/>
<rect x="1895.9" y="217.52" width="11.5" height="9.84" fill="#228b8d"/>
<rect x="1907.1" y="217.52" width="11.5" height="9.84" fill="#2f6c8e"/>
<rect x="1918.3" y="217.52" width="11.5" height="9.84" fill="#3e4989"/>
<rect x="1929.5" y="217.52" width="11.5" height="9.84" fill="#228b8d"/>
<rect x="1940.7" y="217.52" width="11.5" height="9.84" fill="#440154"/>
<rect x="1951.9" y="217.52" width="11.5" height="9.84" fill="#2f6c8e"/>
<rect x="1963.1" y="217.52" width="11.5" height="9.84" fill="#228b8d"/>
<rect x="1974.3" y="217.52" width="11.5" height="9.84" fill="#20a386"/>
<rect x="1985.5" y="217.52" width="11.5" height="9.84" fill="#20a386"/>
<rect x="1996.7" y="217.52" width="11.5" height="9.84" fill="#44bf70"/>
<rect x="2007.9" y="217.52" width="11.5" height="9.84" fill="#20a386"/>
<rect x="2019.1" y="217.52" width="11.5" height="9.84" fill="#7ad151"/>
<rect x="2030.3" y="217.52" width="11.5" height="9.84" fill="#bddf26"/>
<rect x="2041.5" y="217.52" width="11.5" height="9.84" fill="#7ad151"/>
<rect x="2052.7" y="217.52" width="11.5" height="9.84" fill="#7ad151"/>
<rect x="2063.9" y="217.52" width="11.5" height="9.84" fill="#7ad151"/>
<rect x="2075.1" y="217.52" width="11.5" height="9.84" fill="#44bf70"/>
<rect x="2086.3" y="217.52" width="11.5" height="9.84" fill="#20a386"/>
<rect x="2097.5" y="217.52" width="11.5" height="9.84" fill="#2f6c8e"/>
<rect x="2108.7" y="217.52" width="11.5" height="9.84" fill="#440154"/>
<rect x="1772.7" y="227.06" width="11.5" height="9.84" fill="#440154"/>
<rect x="1783.9" y="227.06" width="11.5" height="9.84" fill="#3e4989"/>
<rect x="1795.1" y="227.06" width="11.5" height="9.84" fill="#228b8d"/>
<rect x="1806.3" y="227.06" width="11.5" height="9.84" fill="#3e4989"/>
<rect x="1817.5" y="227.06" width="11.5" height="9.84" fill="#2f6c8e"/>
<rect x="1828.7" y="227.06" width="11.5" height="9.84" fill="#228b8d"/>
<rect x="1839.9" y="227.06" width="11.5" height="9.84" fill="#3e4989"/>
<rect x="1851.1" y="227.06" width="11.5" height="9.84" fill="#2f6c8e"/>
<rect x="1862.3" y="227.06" width="11.5" height="9.84" fill="#440154"/>
<rect x="1873.5" y="227.06" width="11.5" height="9.84" fill="#2f6c8e"/>
<rect x="1884.7" y="227.06" width="11.5" height="9.84" fill="#228b8d"/>
<rect x="1895.9" y="227.06" width="11.5" height="9.84" fill="#2f6c8e"/>
<rect x="1907.1" y="227.06" width="11.5" height="9.84" fill="#3e4989"/>
<rect x="1918.3" y="227.06" width="11.5" height="9.84" fill="#3e4989"/>
<rect x="1940.7" y="227.06" width="11.5" height="9.84" fill="#2f6c8e"/>
<rect x="1951.9" y="227.06" width="11.5" height="9.84" fill="#228b8d"/>
<rect x="1963.1" y="227.06" width="11.5" height="9.84" fill="#3e4989"/>
<rect x="1974.3" y="227.06" width="11.5" height="9.84" fill="#7ad151"/>
<rect x="1985.5" y="227.06" width="11.5" height="9.84" fill="#228b8d"/>
<rect x="1996.7" y="227.06" width="11.5" height="9.84" fill="#7ad151"/>
<rect x="2007.9" y="227.06" width="11.5" height="9.84" fill="#bddf26"/>
<rect x="2019.1" y="227.06" width="11.5" height="9.84" fill="#bddf26"/>
<rect x="2030.3" y="227.06" width="11.5" height="9.84" fill="#bddf26"/>
<rect x="2041.5" y="227.06" width="11.5" height="9.84" fill="#bddf26"/>
<rect x="2052.7" y="227.06" width="11.5" height="9.84" fill="#7ad151"/>
<rect x="2063.9" y="227.06" width="11.5" height="9.84" fill="#7ad151"/>
<rect x="2075.1" y="227.06" width="11.5" height="9.84" fill="#44bf70"/>
<rect x="2086.3" y="227.06" width="11.5" height="9.84" fill="#44bf70"/>
<rect x="2097.5" y="227.06" width="11.5" height="9.84" fill="#3e4989"/>
<rect x="2108.7" y="227.06" width="11.5" height="9.84" fill="#440154"/>
<rect x="1772.7" y="236.6" width="11.5" height="9.84" fill="#440154"/>
<rect x="1783.9" y="236.6" width="11.5" height="9.84" fill="#440154"/>
<rect x="1795.1" y="236.6" width="11.5" height="9.84" fill="#3e4989"/>
<rect x="1806.3" y="236.6" width="11.5" height="9.84" fill="#440154"/>
<rect x="1817.5" y="236.6" width="11.5" height="9.84" fill="#3e4989"/>
<rect x="1828.7" y="236.6" width="11.5" height="9.84" fill="#440154"/>
<rect x="1839.9" y="236.6" width="11.5" height="9.84" fill="#228b8d"/>
<rect x="1851.1" y="236.6" width="11.5" height="9.84" fill="#228b8d"/>
<rect x="1862.3" y="236.6" width="11.5" height="9.84" fill="#2f6c8e"/>
<rect x="1873.5" y="236.6" width="11.5" height="9.84" fill="#20a386"/>
<rect x="1884.7" y="236.6" width="11.5" height="9.84" fill="#228b8d"/>
<rect x="1895.9" y="236.6" width="11.5" height="9.84" fill="#3e4989"/>
<rect x="1907.1" y="236.6" width="11.5" height="9.84" fill="#3e4989"/>
<rect x="1929.5" y="236.6" width="11.5" height="9.84" fill="#3e4989"/>
<rect x="1940.7" y="236.6" width="11.5" height="9.84" fill="#2f6c8e"/>
<rect x="1951.9" y="236.6" width="11.5" height="9.84" fill="#3e4989"/>
<rect x="1963.1" y="236.6" width="11.5" height="9.84" fill="#20a386"/>
<rect x="1974.3" y="236.6" width="11.5" height="9.84" fill="#7ad151"/>
<rect x="1985.5" y="236.6" width="11.5" height="9.84" fill="#44bf70"/>
<rect x="1996.7" y="236.6" width="11.5" height="9.84" fill="#bddf26"/>
<rect x="2007.9" y="236.6" width="11.5" height="9.84" fill="#fde725"/>
<rect x="2019.1" y="236.6" width="11.5" height="9.84" fill="#bddf26"/>
<rect x="2030.3" y="236.6" width="11.5" height="9.84" fill="#bddf26"/>
<rect x="2041.5" y="236.6" width="11.5" height="9.84" fill="#7ad151"/>
<rect x="2052.7" y="236.6" width="11.5" height="9.84" fill="#7ad151"/>
<rect x="2063.9" y="236.6" width="11.5" height="9.84" fill="#44bf70"/>
<rect x="2075.1" y="236.6" width="11.5" height="9.84" fill="#20a386"/>
<rect x="2086.3" y="236.6" width="11.5" height="9.84" fill="#2f6c8e"/>
<rect x="2097.5" y="236.6" width="11.5" height="9.84" fill="#3e4989"/>
<rect x="2108.7" y="236.6" width="11.5" height="9.84" fill="#440154"/>
<rect x="1783.9" y="246.14" width="11.5" height="9.84" fill="#228b8d"/>
<rect x="1795.1" y="246.14" width="11.5" height="9.84" fill="#20a386"/>
<rect x="1806.3" y="246.14" width="11.5" height="9.84" fill="#2f6c8e"/>
<rect x="1817.5" y="246.14" width="11.5" height="9.84" fill="#228b8d"/>
<rect x="1828.7" y="246.14" width="11.5" height="9.84" fill="#20a386"/>
<rect x="1839.9" y="246.14" width="11.5" height="9.84" fill="#20a386"/>
<rect x="1851.1" y="246.14" width="11.5" height="9.84" fill="#228b8d"/>
<rect x="1862.3" y="246.14" width="11.5" height="9.84" fill="#2f6c8e"/>
<rect x="1873.5" y="246.14" width="11.5" height="9.84" fill="#3e4989"/>
<rect x="1884.7" y="246.14" width="11.5" height="9.84" fill="#3e4989"/>
<rect x="1895.9" y="246.14" width="11.5" height="9.84" fill="#2f6c8e"/>
<rect x="1907.1" y="246.14" width="11.5" height="9.84" fill="#3e4989"/>
<rect x="1918.3" y="246.14" width="11.5" height="9.84" fill="#440154"/>
<rect x="1929.5" y="246.14" width="11.5" height="9.84" fill="#228b8d"/>
<rect x="1940.7" y="246.14" width="11.5" height="9.84" fill="#20a386"/>
<rect x="1951.9" y="246.14" width="11.5" height="9.84" fill="#20a386"/>
<rect x="1963.1" y="246.14" width="11.5" height="9.84" fill="#20a386"/>
<rect x="1974.3" y="246.14" width="11.5" height="9.84" fill="#44bf70"/>
<rect x="1985.5" y="246.14" width="11.5" height="9.84" fill="#7ad151"/>
<rect x="1996.7" y="246.14" width="11.5" height="9.84" fill="#bddf26"/>
<rect x="2007.9" y="246.14" width="11.5" height="9.84" fill="#bddf26"/>
<rect x="2019.1" y="246.14" width="11.5" height="9.84" fill="#bddf26"/>
<rect x="2030.3" y="246.14" width="11.5" height="9.84" fill="#bddf26"/>
<rect x="2041.5" y="246.14" width="11.5" height="9.84" fill="#bddf26"/>
<rect x="2052.7" y="246.14" width="11.5" height="9.84" fill="#7ad151"/>
<rect x="2063.9" y="246.14" width="11.5" height="9.84" fill="#20a386"/>
<rect x="2097.5" y="246.14" width="11.5" height="9.84" fill="#440154"/>
<rect x="1761.5" y="255.67" width="11.5" height="9.84" fill="#440154"/>
<rect x="1783.9" y="255.67" width="11.5" height="9.84" fill="#440154"/>
<rect x="1795.1" y="255.67" width="11.5" height="9.84" fill="#2f6c8e"/>
<rect x="1817.5" y="255.67" width="11.5" height="9.84" fill="#228b8d"/>
<rect x="1828.7" y="255.67" width="11.5" height="9.84" fill="#20a386"/>
<rect x="1839.9" y="255.67" width="11.5" height="9.84" fill="#440154"/>
<rect x="1851.1" y="255.67" width="11.5" height="9.84" fill="#20a386"/>
<rect x="1862.3" y="255.67" width="11.5" height="9.84" fill="#228b8d"/>
<rect x="1873.5" y="255.67" width="11.5" height="9.84" fill="#228b8d"/>
<rect x="1884.7" y="255.67" width="11.5" height="9.84" fill="#228b8d"/>
<rect x="1895.9" y="255.67" width="11.5" height="9.84" fill="#3e4989"/>
<rect x="1907.1" y="255.67" width="11.5" height="9.84" fill="#2f6c8e"/>
<rect x="1918.3" y="255.67" width="11.5" height="9.84" fill="#228b8d"/>
<rect x="1929.5" y="255.67" width="11.5" height="9.84" fill="#228b8d"/>
<rect x="1940.7" y="255.67" width="11.5" height="9.84" fill="#228b8d"/>
<rect x="1951.9" y="255.67" width="11.5" height="9.84" fill="#2f6c8e"/>
<rect x="1963.1" y="255.67" width="11.5" height="9.84" fill="#20a386"/>
<rect x="1974.3" y="255.67" width="11.5" height="9.84" fill="#7ad151"/>
<rect x="1985.5" y="255.67" width="11.5" height="9.84" fill="#bddf26"/>
<rect x="1996.7" y="255.67" width="11.5" height="9.84" fill="#bddf26"/>
<rect x="2007.9" y="255.67" width="11.5" height="9.84" fill="#bddf26"/>
<rect x="2019.1" y="255.67" width="11.5" height="9.84" fill="#bddf26"/>
<rect x="2030.3" y="255.67" width="11.5" height="9.84" fill="#bddf26"/>
<rect x="2041.5" y="255.67" width="11.5" height="9.84" fill="#7ad151"/>
<rect x="2052.7" y="255.67" width="11.5" height="9.84" fill="#44bf70"/>
<rect x="2063.9" y="255.67" width="11.5" height="9.84" fill="#2f6c8e"/>
<rect x="2086.3" y="255.67" width="11.5" height="9.84" fill="#440154"/>
<rect x="1761.5" y="265.21" width="11.5" height="9.84" fill="#440154"/>
<rect x="1772.7" y="265.21" width="11.5" height="9.84" fill="#3e4989"/>
<rect x="1783.9" y="265.21" width="11.5" height="9.84" fill="#440154"/>
<rect x="1795.1" y="265.21" width="11.5" height="9.84" fill="#440154"/>
<rect x="1806.3" y="265.21" width="11.5" height="9.84" fill="#3e4989"/>
<rect x="1817.5" y="265.21" width="11.5" height="9.84" fill="#3e4989"/>
<rect x="1828.7" y="265.21" width="11.5" height="9.84" fill="#2f6c8e"/>
<rect x="1839.9" y="265.21" width="11.5" height="9.84" fill="#228b8d"/>
<rect x="1851.1" y="265.21" width="11.5" height="9.84" fill="#3e4989"/>
<rect x="1862.3" y="265.21" width="11.5" height="9.84" fill="#228b8d"/>
<rect x="1873.5" y="265.21" width="11.5" height="9.84" fill="#440154"/>
<rect x="1884.7" y="265.21" width="11.5" height="9.84" fill="#3e4989"/>
<rect x="1895.9" y="265.21" width="11.5" height="9.84" fill="#228b8d"/>
<rect x="1907.1" y="265.21" width="11.5" height="9.84" fill="#228b8d"/>
<rect x="1918.3" y="265.21" width="11.5" height="9.84" fill="#228b8d"/>
<rect x="1929.5" y="265.21" width="11.5" height="9.84" fill="#228b8d"/>
<rect x="1940.7" y="265.21" width="11.5" height="9.84" fill="#20a386"/>
<rect x="1951.9" y="265.21" width="11.5" height="9.84" fill="#20a386"/>
<rect x="1963.1" y="265.21" width="11.5" height="9.84" fill="#7ad151"/>
<rect x="1974.3" y="265.21" width="11.5" height="9.84" fill="#bddf26"/>
<rect x="1985.5" y="265.21" width="11.5" height="9.84" fill="#fde725"/>
<rect x="1996.7" y="265.21" width="11.5" height="9.84" fill="#bddf26"/>
<rect x="2007.9" y="265.21" width="11.5" height="9.84" fill="#7ad151"/>
<rect x="2019.1" y="265.21" width="11.5" height="9.84" fill="#7ad151"/>
<rect x="2030.3" y="265.21" width="11.5" height="9.84" fill="#20a386"/>
<rect x="2041.5" y="265.21" width="11.5" height="9.84" fill="#228b8d"/>
<rect x="2052.7" y="265.21" width="11.5" height="9.84" fill="#2f6c8e"/>
<rect x="2063.9" y="265.21" width="11.5" height="9.84" fill="#440154"/>
<rect x="2086.3" y="265.21" width="11.5" height="9.84" fill="#440154"/>
<rect x="2097.5" y="265.21" width="11.5" height="9.84" fill="#440154"/>
<rect x="1761.5" y="274.75" width="11.5" height="9.84" fill="#440154"/>
<rect x="1772.7" y="274.75" width="11.5" height="9.84" fill="#440154"/>
<rect x="1783.9" y="274.75" width="11.5" height="9.84" fill="#440154"/>
<rect x="1795.1" y="274.75" width="11.5" height="9.84" fill="#2f6c8e"/>
<rect x="1806.3" y="274.75" width="11.5" height="9.84" fill="#228b8d"/>
<rect x="1817.5" y="274.75" width="11.5" height="9.84" fill="#228b8d"/>
<rect x="1828.7" y="274.75" width="11.5" height="9.84" fill="#3e4989"/>
<rect x="1839.9" y="274.75" width="11.5" height="9.84" fill="#228b8d"/>
<rect x="1851.1" y="274.75" width="11.5" height="9.84" fill="#228b8d"/>
<rect x="1862.3" y="274.75" width="11.5" height="9.84" fill="#2f6c8e"/>
<rect x="1873.5" y="274.75" width="11.5" height="9.84" fill="#3e4989"/>
<rect x="1884.7" y="274.75" width="11.5" height="9.84" fill="#2f6c8e"/>
<rect x="1895.9" y="274.75" width="11.5" height="9.84" fill="#20a386"/>
<rect x="1907.1" y="274.75" width="11.5" height="9.84" fill="#20a386"/>
<rect x="1918.3" y="274.75" width="11.5" height="9.84" fill="#228b8d"/>
<rect x="1929.5" y="274.75" width="11.5" height="9.84" fill="#2f6c8e"/>
<rect x="1940.7" y="274.75" width="11.5" height="9.84" fill="#228b8d"/>
<rect x="1951.9" y="274.75" width="11.5" height="9.84" fill="#44bf70"/>
<rect x="1963.1" y="274.75" width="11.5" height="9.84" fill="#7ad151"/>
<rect x="1974.3" y="274.75" width="11.5" height="9.84" fill="#bddf26"/>
<rect x="1985.5" y="274.75" width="11.5" height="9.84" fill="#bddf26"/>
<rect x="1996.7" y="274.75" width="11.5" height="9.84" fill="#bddf26"/>
<rect x="2007.9" y="274.75" width="11.5" height="9.84" fill="#44bf70"/>
<rect x="2019.1" y="274.75" width="11.5" height="9.84" fill="#7ad151"/>
<rect x="2030.3" y="274.75" width="11.5" height="9.84" fill="#2f6c8e"/>
<rect x="2041.5" y="274.75" width="11.5" height="9.84" fill="#20a386"/>
<rect x="2052.7" y="274.75" width="11.5" height="9.84" fill="#20a386"/>
<rect x="2063.9" y="274.75" width="11.5" height="9.84" fill="#440154"/>
<rect x="2075.1" y="274.75" width="11.5" height="9.84" fill="#3e4989"/>
<rect x="2097.5" y="274.75" width="11.5" height="9.84" fill="#440154"/>
<rect x="1783.9" y="284.29" width="11.5" height="9.84" fill="#3e4989"/>
<rect x="1795.1" y="284.29" width="11.5" height="9.84" fill="#2f6c8e"/>
<rect x="1806.3" y="284.29" width="11.5" height="9.84" fill="#3e4989"/>
<rect x="1817.5" y="284.29" width="11.5" height="9.84" fill="#228b8d"/>
<rect x="1828.7" y="284.29" width="11.5" height="9.84" fill="#228b8d"/>
<rect x="1839.9" y="284.29" width="11.5" height="9.84" fill="#228b8d"/>
<rect x="1851.1" y="284.29" width="11.5" height="9.84" fill="#3e4989"/>
<rect x="1862.3" y="284.29" width="11.5" height="9.84" fill="#3e4989"/>
<rect x="1873.5" y="284.29" width="11.5" height="9.84" fill="#3e4989"/>
<rect x="1884.7" y="284.29" width="11.5" height="9.84" fill="#228b8d"/>
<rect x="1895.9" y="284.29" width="11.5" height="9.84" fill="#20a386"/>
<rect x="1907.1" y="284.29" width="11.5" height="9.84" fill="#3e4989"/>
<rect x="1918.3" y="284.29" width="11.5" height="9.84" fill="#44bf70"/>
<rect x="1929.5" y="284.29" width="11.5" height="9.84" fill="#20a386"/>
<rect x="1940.7" y="284.29" width="11.5" height="9.84" fill="#2f6c8e"/>
<rect x="1951.9" y="284.29" width="11.5" height="9.84" fill="#7ad151"/>
<rect x="1963.1" y="284.29" width="11.5" height="9.84" fill="#7ad151"/>
<rect x="1974.3" y="284.29" width="11.5" height="9.84" fill="#7ad151"/>
<rect x="1985.5" y="284.29" width="11.5" height="9.84" fill="#7ad151"/>
<rect x="1996.7" y="284.29" width="11.5" height="9.84" fill="#bddf26"/>
<rect x="2007.9" y="284.29" width="11.5" height="9.84" fill="#44bf70"/>
<rect x="2019.1" y="284.29" width="11.5" height="9.84" fill="#228b8d"/>
<rect x="2030.3" y="284.29" width="11.5" height="9.84" fill="#440154"/>
<rect x="2041.5" y="284.29" width="11.5" height="9.84" fill="#228b8d"/>
<rect x="2052.7" y="284.29" width="11.5" height="9.84" fill="#228b8d"/>
<rect x="2063.9" y="284.29" width="11.5" height="9.84" fill="#440154"/>
<rect x="2075.1" y="284.29" width="11.5" height="9.84" fill="#440154"/>
<rect x="2086.3" y="284.29" width="11.5" height="9.84" fill="#440154"/>
<rect x="1761.5" y="293.83" width="11.5" height="9.84" fill="#440154"/>
<rect x="1772.7" y="293.83" width="11.5" height="9.84" fill="#2f6c8e"/>
<rect x="1783.9" y="293.83" width="11.5" height="9.84" fill="#2f6c8e"/>
<rect x="1795.1" y="293.83" width="11.5" height="9.84" fill="#2f6c8e"/>
<rect x="1806.3" y="293.83" width="11.5" height="9.84" fill="#440154"/>
<rect x="1817.5" y="293.83" width="11.5" height="9.84" fill="#228b8d"/>
<rect x="1828.7" y="293.83" width="11.5" height="9.84" fill="#3e4989"/>
<rect x="1839.9" y="293.83" width="11.5" height="9.84" fill="#2f6c8e"/>
<rect x="1851.1" y="293.83" width="11.5" height="9.84" fill="#2f6c8e"/>
<rect x="1862.3" y="293.83" width="11.5" height="9.84" fill="#3e4989"/>
<rect x="1873.5" y="293.83" width="11.5" height="9.84" fill="#3e4989"/>
<rect x="1884.7" y="293.83" width="11.5" height="9.84" fill="#3e4989"/>
<rect x="1895.9" y="293.83" width="11.5" height="9.84" fill="#3e4989"/>
<rect x="1907.1" y="293.83" width="11.5" height="9.84" fill="#228b8d"/>
<rect x="1918.3" y="293.83" width="11.5" height="9.84" fill="#2f6c8e"/>
<rect x="1929.5" y="293.83" width="11.5" height="9.84" fill="#2f6c8e"/>
<rect x="1940.7" y="293.83" width="11.5" height="9.84" fill="#2f6c8e"/>
<rect x="1951.9" y="293.83" width="11.5" height="9.84" fill="#20a386"/>
<rect x="1963.1" y="293.83" width="11.5" height="9.84" fill="#7ad151"/>
<rect x="1974.3" y="293.83" width="11.5" height="9.84" fill="#228b8d"/>
<rect x="1985.5" y="293.83" width="11.5" height="9.84" fill="#7ad151"/>
<rect x="1996.7" y="293.83" width="11.5" height="9.84" fill="#20a386"/>
<rect x="2007.9" y="293.83" width="11.5" height="9.84" fill="#228b8d"/>
<rect x="2019.1" y="293.83" width="11.5" height="9.84" fill="#228b8d"/>
<rect x="2041.5" y="293.83" width="11.5" height="9.84" fill="#2f6c8e"/>
<rect x="2086.3" y="293.83" width="11.5" height="9.84" fill="#440154"/>
<rect x="1783.9" y="303.36" width="11.5" height="9.84" fill="#228b8d"/>
<rect x="1795.1" y="303.36" width="11.5" height="9.84" fill="#2f6c8e"/>
<rect x="1806.3" y="303.36" width="11.5" height="9.84" fill="#20a386"/>
<rect x="1817.5" y="303.36" width="11.5" height="9.84" fill="#228b8d"/>
<rect x="1828.7" y="303.36" width="11.5" height="9.84" fill="#20a386"/>
<rect x="1839.9" y="303.36" width="11.5" height="9.84" fill="#20a386"/>
<rect x="1851.1" y="303.36" width="11.5" height="9.84" fill="#20a386"/>
<rect x="1862.3" y="303.36" width="11.5" height="9.84" fill="#3e4989"/>
<rect x="1873.5" y="303.36" width="11.5" height="9.84" fill="#228b8d"/>
<rect x="1884.7" y="303.36" width="11.5" height="9.84" fill="#3e4989"/>
<rect x="1895.9" y="303.36" width="11.5" height="9.84" fill="#3e4989"/>
<rect x="1907.1" y="303.36" width="11.5" height="9.84" fill="#228b8d"/>
<rect x="1918.3" y="303.36" width="11.5" height="9.84" fill="#2f6c8e"/>
<rect x="1929.5" y="303.36" width="11.5" height="9.84" fill="#228b8d"/>
<rect x="1940.7" y="303.36" width="11.5" height="9.84" fill="#20a386"/>
<rect x="1951.9" y="303.36" width="11.5" height="9.84" fill="#7ad151"/>
<rect x="1963.1" y="303.36" width="11.5" height="9.84" fill="#44bf70"/>
<rect x="1974.3" y="303.36" width="11.5" height="9.84" fill="#7ad151"/>
<rect x="1985.5" y="303.36" width="11.5" height="9.84" fill="#44bf70"/>
<rect x="1996.7" y="303.36" width="11.5" height="9.84" fill="#20a386"/>
<rect x="2007.9" y="303.36" width="11.5" height="9.84" fill="#228b8d"/>
<rect x="2019.1" y="303.36" width="11.5" height="9.84" fill="#3e4989"/>
<rect x="2030.3" y="303.36" width="11.5" height="9.84" fill="#440154"/>
<rect x="2041.5" y="303.36" width="11.5" height="9.84" fill="#2f6c8e"/>
<rect x="2052.7" y="303.36" width="11.5" height="9.84" fill="#440154"/>
<rect x="1783.9" y="312.9" width="11.5" height="9.84" fill="#2f6c8e"/>
<rect x="1795.1" y="312.9" width="11.5" height="9.84" fill="#228b8d"/>
<rect x="1806.3" y="312.9" width="11.5" height="9.84" fill="#2f6c8e"/>
<rect x="1817.5" y="312.9" width="11.5" height="9.84" fill="#228b8d"/>
<rect x="1828.7" y="312.9" width="11.5" height="9.84" fill="#228b8d"/>
<rect x="1839.9" y="312.9" width="11.5" height="9.84" fill="#440154"/>
<rect x="1851.1" y="312.9" width="11.5" height="9.84" fill="#20a386"/>
<rect x="1862.3" y="312.9" width="11.5" height="9.84" fill="#20a386"/>
<rect x="1873.5" y="312.9" width="11.5" height="9.84" fill="#440154"/>
<rect x="1884.7" y="312.9" width="11.5" height="9.84" fill="#2f6c8e"/>
<rect x="1895.9" y="312.9" width="11.5" height="9.84" fill="#228b8d"/>
<rect x="1907.1" y="312.9" width="11.5" height="9.84" fill="#44bf70"/>
<rect x="1918.3" y="312.9" width="11.5" height="9.84" fill="#3e4989"/>
<rect x="1929.5" y="312.9" width="11.5" height="9.84" fill="#228b8d"/>
<rect x="1940.7" y="312.9" width="11.5" height="9.84" fill="#228b8d"/>
<rect x="1951.9" y="312.9" width="11.5" height="9.84" fill="#20a386"/>
<rect x="1963.1" y="312.9" width="11.5" height="9.84" fill="#20a386"/>
<rect x="1974.3" y="312.9" width="11.5" height="9.84" fill="#44bf70"/>
<rect x="1985.5" y="312.9" width="11.5" height="9.84" fill="#7ad151"/>
<rect x="1996.7" y="312.9" width="11.5" height="9.84" fill="#228b8d"/>
<rect x="2007.9" y="312.9" width="11.5" height="9.84" fill="#20a386"/>
<rect x="2019.1" y="312.9" width="11.5" height="9.84" fill="#2f6c8e"/>
<rect x="2052.7" y="312.9" width="11.5" height="9.84" fill="#440154"/>
<rect x="2075.1" y="312.9" width="11.5" height="9.84" fill="#3e4989"/>
<rect x="2097.5" y="312.9" width="11.5" height="9.84" fill="#440154"/>
<rect x="1783.9" y="322.44" width="11.5" height="9.84" fill="#440154"/>
<rect x="1806.3" y="322.44" width="11.5" height="9.84" fill="#2f6c8e"/>
<rect x="1817.5" y="322.44" width="11.5" height="9.84" fill="#2f6c8e"/>
<rect x="1828.7" y="322.44" width="11.5" height="9.84" fill="#228b8d"/>
<rect x="1839.9" y="322.44" width="11.5" height="9.84" fill="#228b8d"/>
<rect x="1862.3" y="322.44" width="11.5" height="9.84" fill="#3e4989"/>
<rect x="1873.5" y="322.44" width="11.5" height="9.84" fill="#3e4989"/>
<rect x="1884.7" y="322.44" width="11.5" height="9.84" fill="#2f6c8e"/>
<rect x="1895.9" y="322.44" width="11.5" height="9.84" fill="#44bf70"/>
<rect x="1907.1" y="322.44" width="11.5" height="9.84" fill="#44bf70"/>
<rect x="1918.3" y="322.44" width="11.5" height="9.84" fill="#20a386"/>
<rect x="1929.5" y="322.44" width="11.5" height="9.84" fill="#228b8d"/>
<rect x="1940.7" y="322.44" width="11.5" height="9.84" fill="#20a386"/>
<rect x="1951.9" y="322.44" width="11.5" height="9.84" fill="#20a386"/>
<rect x="1963.1" y="322.44" width="11.5" height="9.84" fill="#228b8d"/>
<rect x="1974.3" y="322.44" width="11.5" height="9.84" fill="#20a386"/>
<rect x="1985.5" y="322.44" width="11.5" height="9.84" fill="#228b8d"/>
<rect x="1996.7" y="322.44" width="11.5" height="9.84" fill="#3e4989"/>
<rect x="2007.9" y="322.44" width="11.5" height="9.84" fill="#3e4989"/>
<rect x="2019.1" y="322.44" width="11.5" height="9.84" fill="#440154"/>
<rect x="2030.3" y="322.44" width="11.5" height="9.84" fill="#440154"/>
<rect x="2041.5" y="322.44" width="11.5" height="9.84" fill="#3e4989"/>
<rect x="1806.3" y="331.98" width="11.5" height="9.84" fill="#3e4989"/>
<rect x="1839.9" y="331.98" width="11.5" height="9.84" fill="#2f6c8e"/>
<rect x="1862.3" y="331.98" width="11.5" height="9.84" fill="#3e4989"/>
<rect x="1873.5" y="331.98" width="11.5" height="9.84" fill="#3e4989"/>
<rect x="1884.7" y="331.98" width="11.5" height="9.84" fill="#228b8d"/>
<rect x="1895.9" y="331.98" width="11.5" height="9.84" fill="#44bf70"/>
<rect x="1907.1" y="331.98" width="11.5" height="9.84" fill="#20a386"/>
<rect x="1918.3" y="331.98" width="11.5" height="9.84" fill="#228b8d"/>
<rect x="1929.5" y="331.98" width="11.5" height="9.84" fill="#440154"/>
<rect x="1940.7" y="331.98" width="11.5" height="9.84" fill="#228b8d"/>
<rect x="1951.9" y="331.98" width="11.5" height="9.84" fill="#44bf70"/>
<rect x="1963.1" y="331.98" width="11.5" height="9.84" fill="#2f6c8e"/>
<rect x="1974.3" y="331.98" width="11.5" height="9.84" fill="#2f6c8e"/>
<rect x="1985.5" y="331.98" width="11.5" height="9.84" fill="#20a386"/>
<rect x="1996.7" y="331.98" width="11.5" height="9.84" fill="#228b8d"/>
<rect x="2007.9" y="331.98" width="11.5" height="9.84" fill="#2f6c8e"/>
<rect x="2019.1" y="331.98" width="11.5" height="9.84" fill="#3e4989"/>
<rect x="2030.3" y="331.98" width="11.5" height="9.84" fill="#2f6c8e"/>
<rect x="2052.7" y="331.98" width="11.5" height="9.84" fill="#440154"/>
<rect x="1795.1" y="341.52" width="11.5" height="9.84" fill="#440154"/>
<rect x="1817.5" y="341.52" width="11.5" height="9.84" fill="#440154"/>
<rect x="1828.7" y="341.52" width="11.5" height="9.84" fill="#440154"/>
<rect x="1839.9" y="341.52" width="11.5" height="9.84" fill="#440154"/>
<rect x="1851.1" y="341.52" width="11.5" height="9.84" fill="#440154"/>
<rect x="1862.3" y="341.52" width="11.5" height="9.84" fill="#2f6c8e"/>
<rect x="1873.5" y="341.52" width="11.5" height="9.84" fill="#3e4989"/>
<rect x="1884.7" y="341.52" width="11.5" height="9.84" fill="#20a386"/>
<rect x="1895.9" y="341.52" width="11.5" height="9.84" fill="#20a386"/>
<rect x="1907.1" y="341.52" width="11.5" height="9.84" fill="#228b8d"/>
<rect x="1918.3" y="341.52" width="11.5" height="9.84" fill="#20a386"/>
<rect x="1929.5" y="341.52" width="11.5" height="9.84" fill="#228b8d"/>
<rect x="1940.7" y="341.52" width="11.5" height="9.84" fill="#228b8d"/>
<rect x="1951.9" y="341.52" width="11.5" height="9.84" fill="#228b8d"/>
<rect x="1963.1" y="341.52" width="11.5" height="9.84" fill="#228b8d"/>
<rect x="1974.3" y="341.52" width="11.5" height="9.84" fill="#2f6c8e"/>
<rect x="1985.5" y="341.52" width="11.5" height="9.84" fill="#3e4989"/>
<rect x="2007.9" y="341.52" width="11.5" height="9.84" fill="#3e4989"/>
<rect x="2019.1" y="341.52" width="11.5" height="9.84" fill="#440154"/>
<rect x="2041.5" y="341.52" width="11.5" height="9.84" fill="#2f6c8e"/>
<rect x="2086.3" y="341.52" width="11.5" height="9.84" fill="#440154"/>
<rect x="1772.7" y="351.05" width="11.5" height="9.84" fill="#440154"/>
<rect x="1795.1" y="351.05" width="11.5" height="9.84" fill="#440154"/>
<rect x="1806.3" y="351.05" width="11.5" height="9.84" fill="#440154"/>
<rect x="1817.5" y="351.05" width="11.5" height="9.84" fill="#440154"/>
<rect x="1828.7" y="351.05" width="11.5" height="9.84" fill="#2f6c8e"/>
<rect x="1839.9" y="351.05" width="11.5" height="9.84" fill="#3e4989"/>
<rect x="1851.1" y="351.05" width="11.5" height="9.84" fill="#3e4989"/>
<rect x="1862.3" y="351.05" width="11.5" height="9.84" fill="#440154"/>
<rect x="1873.5" y="351.05" width="11.5" height="9.84" fill="#20a386"/>
<rect x="1884.7" y="351.05" width="11.5" height="9.84" fill="#20a386"/>
<rect x="1895.9" y="351.05" width="11.5" height="9.84" fill="#20a386"/>
<rect x="1907.1" y="351.05" width="11.5" height="9.84" fill="#20a386"/>
<rect x="1918.3" y="351.05" width="11.5" height="9.84" fill="#3e4989"/>
<rect x="1929.5" y="351.05" width="11.5" height="9.84" fill="#3e4989"/>
<rect x="1940.7" y="351.05" width="11.5" height="9.84" fill="#228b8d"/>
<rect x="1951.9" y="351.05" width="11.5" height="9.84" fill="#3e4989"/>
<rect x="1963.1" y="351.05" width="11.5" height="9.84" fill="#228b8d"/>
<rect x="1974.3" y="351.05" width="11.5" height="9.84" fill="#3e4989"/>
<rect x="1985.5" y="351.05" width="11.5" height="9.84" fill="#3e4989"/>
<rect x="1996.7" y="351.05" width="11.5" height="9.84" fill="#440154"/>
<rect x="2019.1" y="351.05" width="11.5" height="9.84" fill="#3e4989"/>
<rect x="2030.3" y="351.05" width="11.5" height="9.84" fill="#440154"/>
<rect x="1783.9" y="360.59" width="11.5" height="9.84" fill="#440154"/>
<rect x="1828.7" y="360.59" width="11.5" height="9.84" fill="#440154"/>
<rect x="1839.9" y="360.59" width="11.5" height="9.84" fill="#3e4989"/>
<rect x="1851.1" y="360.59" width="11.5" height="9.84" fill="#228b8d"/>
<rect x="1862.3" y="360.59" width="11.5" height="9.84" fill="#20a386"/>
<rect x="1873.5" y="360.59" width="11.5" height="9.84" fill="#44bf70"/>
<rect x="1884.7" y="360.59" width="11.5" height="9.84" fill="#44bf70"/>
<rect x="1895.9" y="360.59" width="11.5" height="9.84" fill="#7ad151"/>
<rect x="1907.1" y="360.59" width="11.5" height="9.84" fill="#228b8d"/>
<rect x="1918.3" y="360.59" width="11.5" height="9.84" fill="#2f6c8e"/>
<rect x="1929.5" y="360.59" width="11.5" height="9.84" fill="#228b8d"/>
<rect x="1940.7" y="360.59" width="11.5" height="9.84" fill="#2f6c8e"/>
<rect x="1951.9" y="360.59" width="11.5" height="9.84" fill="#440154"/>
<rect x="1963.1" y="360.59" width="11.5" height="9.84" fill="#3e4989"/>
<rect x="1974.3" y="360.59" width="11.5" height="9.84" fill="#3e4989"/>
<rect x="1985.5" y="360.59" width="11.5" height="9.84" fill="#228b8d"/>
<rect x="1996.7" y="360.59" width="11.5" height="9.84" fill="#440154"/>
<rect x="2007.9" y="360.59" width="11.5" height="9.84" fill="#440154"/>
<rect x="2019.1" y="360.59" width="11.5" height="9.84" fill="#440154"/>
<rect x="2030.3" y="360.59" width="11.5" height="9.84" fill="#440154"/>
<rect x="2041.5" y="360.59" width="11.5" height="9.84" fill="#3e4989"/>
<rect x="1772.7" y="370.13" width="11.5" height="9.84" fill="#440154"/>
<rect x="1795.1" y="370.13" width="11.5" height="9.84" fill="#440154"/>
<rect x="1806.3" y="370.13" width="11.5" height="9.84" fill="#3e4989"/>
<rect x="1817.5" y="370.13" width="11.5" height="9.84" fill="#228b8d"/>
<rect x="1828.7" y="370.13" width="11.5" height="9.84" fill="#3e4989"/>
<rect x="1839.9" y="370.13" width="11.5" height="9.84" fill="#2f6c8e"/>
<rect x="1851.1" y="370.13" width="11.5" height="9.84" fill="#228b8d"/>
<rect x="1862.3" y="370.13" width="11.5" height="9.84" fill="#20a386"/>
<rect x="1873.5" y="370.13" width="11.5" height="9.84" fill="#20a386"/>
<rect x="1884.7" y="370.13" width="11.5" height="9.84" fill="#20a386"/>
<rect x="1895.9" y="370.13" width="11.5" height="9.84" fill="#20a386"/>
<rect x="1907.1" y="370.13" width="11.5" height="9.84" fill="#44bf70"/>
<rect x="1918.3" y="370.13" width="11.5" height="9.84" fill="#3e4989"/>
<rect x="1929.5" y="370.13" width="11.5" height="9.84" fill="#228b8d"/>
<rect x="1951.9" y="370.13" width="11.5" height="9.84" fill="#2f6c8e"/>
<rect x="1974.3" y="370.13" width="11.5" height="9.84" fill="#2f6c8e"/>
<rect x="1996.7" y="370.13" width="11.5" height="9.84" fill="#440154"/>
<rect x="2007.9" y="370.13" width="11.5" height="9.84" fill="#440154"/>
<rect x="2019.1" y="370.13" width="11.5" height="9.84" fill="#3e4989"/>
<rect x="2041.5" y="370.13" width="11.5" height="9.84" fill="#440154"/>
<rect x="1750.3" y="379.67" width="11.5" height="9.84" fill="#3e4989"/>
<rect x="1772.7" y="379.67" width="11.5" height="9.84" fill="#440154"/>
<rect x="1783.9" y="379.67" width="11.5" height="9.84" fill="#440154"/>
<rect x="1806.3" y="379.67" width="11.5" height="9.84" fill="#228b8d"/>
<rect x="1817.5" y="379.67" width="11.5" height="9.84" fill="#3e4989"/>
<rect x="1828.7" y="379.67" width="11.5" height="9.84" fill="#440154"/>
<rect x="1839.9" y="379.67" width="11.5" height="9.84" fill="#3e4989"/>
<rect x="1851.1" y="379.67" width="11.5" height="9.84" fill="#228b8d"/>
<rect x="1862.3" y="379.67" width="11.5" height="9.84" fill="#20a386"/>
<rect x="1873.5" y="379.67" width="11.5" height="9.84" fill="#20a386"/>
<rect x="1884.7" y="379.67" width="11.5" height="9.84" fill="#20a386"/>
<rect x="1895.9" y="379.67" width="11.5" height="9.84" fill="#228b8d"/>
<rect x="1907.1" y="379.67" width="11.5" height="9.84" fill="#440154"/>
<rect x="1918.3" y="379.67" width="11.5" height="9.84" fill="#228b8d"/>
<rect x="1929.5" y="379.67" width="11.5" height="9.84" fill="#2f6c8e"/>
<rect x="1940.7" y="379.67" width="11.5" height="9.84" fill="#228b8d"/>
<rect x="1951.9" y="379.67" width="11.5" height="9.84" fill="#2f6c8e"/>
<rect x="1963.1" y="379.67" width="11.5" height="9.84" fill="#3e4989"/>
<rect x="1974.3" y="379.67" width="11.5" height="9.84" fill="#440154"/>
<rect x="1985.5" y="379.67" width="11.5" height="9.84" fill="#440154"/>
<rect x="2007.9" y="379.67" width="11.5" height="9.84" fill="#440154"/>
<rect x="2019.1" y="379.67" width="11.5" height="9.84" fill="#3e4989"/>
<rect x="2052.7" y="379.67" width="11.5" height="9.84" fill="#440154"/>
<rect x="2086.3" y="379.67" width="11.5" height="9.84" fill="#440154"/>
<rect x="1750.3" y="389.21" width="11.5" height="9.84" fill="#2f6c8e"/>
<rect x="1783.9" y="389.21" width="11.5" height="9.84" fill="#3e4989"/>
<rect x="1795.1" y="389.21" width="11.5" height="9.84" fill="#440154"/>
<rect x="1806.3" y="389.21" width="11.5" height="9.84" fill="#440154"/>
<rect x="1817.5" y="389.21" width="11.5" height="9.84" fill="#3e4989"/>
<rect x="1828.7" y="389.21" width="11.5" height="9.84" fill="#228b8d"/>
<rect x="1839.9" y="389.21" width="11.5" height="9.84" fill="#44bf70"/>
<rect x="1851.1" y="389.21" width="11.5" height="9.84" fill="#44bf70"/>
<rect x="1862.3" y="389.21" width="11.5" height="9.84" fill="#228b8d"/>
<rect x="1873.5" y="389.21" width="11.5" height="9.84" fill="#20a386"/>
<rect x="1884.7" y="389.21" width="11.5" height="9.84" fill="#3e4989"/>
<rect x="1895.9" y="389.21" width="11.5" height="9.84" fill="#2f6c8e"/>
<rect x="1907.1" y="389.21" width="11.5" height="9.84" fill="#440154"/>
<rect x="1929.5" y="389.21" width="11.5" height="9.84" fill="#3e4989"/>
<rect x="1951.9" y="389.21" width="11.5" height="9.84" fill="#2f6c8e"/>
<rect x="1974.3" y="389.21" width="11.5" height="9.84" fill="#440154"/>
<rect x="1783.9" y="398.74" width="11.5" height="9.84" fill="#3e4989"/>
<rect x="1795.1" y="398.74" width="11.5" height="9.84" fill="#3e4989"/>
<rect x="1817.5" y="398.74" width="11.5" height="9.84" fill="#228b8d"/>
<rect x="1828.7" y="398.74" width="11.5" height="9.84" fill="#20a386"/>
<rect x="1839.9" y="398.74" width="11.5" height="9.84" fill="#7ad151"/>
<rect x="1851.1" y="398.74" width="11.5" height="9.84" fill="#3e4989"/>
<rect x="1862.3" y="398.74" width="11.5" height="9.84" fill="#228b8d"/>
<rect x="1873.5" y="398.74" width="11.5" height="9.84" fill="#440154"/>
<rect x="1884.7" y="398.74" width="11.5" height="9.84" fill="#3e4989"/>
<rect x="1895.9" y="398.74" width="11.5" height="9.84" fill="#3e4989"/>
<rect x="1929.5" y="398.74" width="11.5" height="9.84" fill="#440154"/>
<rect x="1951.9" y="398.74" width="11.5" height="9.84" fill="#440154"/>
<rect x="2063.9" y="398.74" width="11.5" height="9.84" fill="#440154"/>
<rect x="1750.3" y="408.28" width="11.5" height="9.84" fill="#440154"/>
<rect x="1772.7" y="408.28" width="11.5" height="9.84" fill="#440154"/>
<rect x="1783.9" y="408.28" width="11.5" height="9.84" fill="#3e4989"/>
<rect x="1795.1" y="408.28" width="11.5" height="9.84" fill="#440154"/>
<rect x="1806.3" y="408.28" width="11.5" height="9.84" fill="#3e4989"/>
<rect x="1817.5" y="408.28" width="11.5" height="9.84" fill="#440154"/>
<rect x="1839.9" y="408.28" width="11.5" height="9.84" fill="#2f6c8e"/>
<rect x="1851.1" y="408.28" width="11.5" height="9.84" fill="#3e4989"/>
<rect x="1862.3" y="408.28" width="11.5" height="9.84" fill="#228b8d"/>
<rect x="1873.5" y="408.28" width="11.5" height="9.84" fill="#440154"/>
<rect x="1918.3" y="408.28" width="11.5" height="9.84" fill="#3e4989"/>
<rect x="1940.7" y="408.28" width="11.5" height="9.84" fill="#440154"/>
<rect x="1951.9" y="408.28" width="11.5" height="9.84" fill="#3e4989"/>
<rect x="2007.9" y="408.28" width="11.5" height="9.84" fill="#440154"/>
<rect x="2019.1" y="408.28" width="11.5" height="9.84" fill="#440154"/>
<rect x="1739.1" y="417.82" width="11.5" height="9.84" fill="#440154"/>
<rect x="1750.3" y="417.82" width="11.5" height="9.84" fill="#440154"/>
<rect x="1772.7" y="417.82" width="11.5" height="9.84" fill="#3e4989"/>
<rect x="1783.9" y="417.82" width="11.5" height="9.84" fill="#20a386"/>
<rect x="1795.1" y="417.82" width="11.5" height="9.84" fill="#3e4989"/>
<rect x="1806.3" y="417.82" width="11.5" height="9.84" fill="#2f6c8e"/>
<rect x="1817.5" y="417.82" width="11.5" height="9.84" fill="#440154"/>
<rect x="1828.7" y="417.82" width="11.5" height="9.84" fill="#440154"/>
<rect x="1862.3" y="417.82" width="11.5" height="9.84" fill="#440154"/>
<rect x="1873.5" y="417.82" width="11.5" height="9.84" fill="#440154"/>
<rect x="1907.1" y="417.82" width="11.5" height="9.84" fill="#440154"/>
<rect x="1985.5" y="417.82" width="11.5" height="9.84" fill="#440154"/>
<rect x="1772.7" y="427.36" width="11.5" height="9.84" fill="#228b8d"/>
<rect x="1783.9" y="427.36" width="11.5" height="9.84" fill="#228b8d"/>
<rect x="1795.1" y="427.36" width="11.5" height="9.84" fill="#228b8d"/>
<rect x="1817.5" y="427.36" width="11.5" height="9.84" fill="#440154"/>
<rect x="1828.7" y="427.36" width="11.5" height="9.84" fill="#3e4989"/>
<rect x="1839.9" y="427.36" width="11.5" height="9.84" fill="#3e4989"/>
<rect x="1862.3" y="427.36" width="11.5" height="9.84" fill="#3e4989"/>
<rect x="1873.5" y="427.36" width="11.5" height="9.84" fill="#3e4989"/>
<rect x="1750.3" y="436.9" width="11.5" height="9.84" fill="#3e4989"/>
<rect x="1761.5" y="436.9" width="11.5" height="9.84" fill="#440154"/>
<rect x="1772.7" y="436.9" width="11.5" height="9.84" fill="#2f6c8e"/>
<rect x="1783.9" y="436.9" width="11.5" height="9.84" fill="#440154"/>
<rect x="1806.3" y="436.9" width="11.5" height="9.84" fill="#3e4989"/>
<rect x="1828.7" y="436.9" width="11.5" height="9.84" fill="#440154"/>
<rect x="1851.1" y="436.9" width="11.5" height="9.84" fill="#440154"/>
<rect x="1739.1" y="446.43" width="11.5" height="9.84" fill="#440154"/>
<rect x="1750.3" y="446.43" width="11.5" height="9.84" fill="#3e4989"/>
<rect x="1761.5" y="446.43" width="11.5" height="9.84" fill="#2f6c8e"/>
<rect x="1772.7" y="446.43" width="11.5" height="9.84" fill="#228b8d"/>
<rect x="1783.9" y="446.43" width="11.5" height="9.84" fill="#2f6c8e"/>
<rect x="1795.1" y="446.43" width="11.5" height="9.84" fill="#440154"/>
<rect x="1806.3" y="446.43" width="11.5" height="9.84" fill="#440154"/>
<rect x="1750.3" y="455.97" width="11.5" height="9.84" fill="#440154"/>
<rect x="1761.5" y="455.97" width="11.5" height="9.84" fill="#440154"/>
<rect x="1761.5" y="465.51" width="11.5" height="9.84" fill="#440154"/>
</g>
<clipPath id="ct2"><rect x="1705.5" y="36.3" width="560" height="476.9"/></clipPath>
<g clip-path="url(#ct2)" stroke="#000" stroke-width="2.08" fill="none">
<line x1="1697.84" y1="519.52" x2="2273.16" y2="29.01" stroke-dasharray="7.7 3.33"/>
<line x1="1705.5" y1="392.4" x2="2265.5" y2="147.2"/>
</g>
<rect x="1727.94" y="45" width="300.28" height="39" fill="#fff" fill-opacity="0.5"/>
<text x="1733.2" y="72.6" font-size="27.78" text-anchor="start">Fit: y = 0.51x + 4.21</text>
<rect x="1705.5" y="36.3" width="560" height="476.9" fill="none" stroke="#000" stroke-width="1.11"/>
<line x1="1739.26" y1="513.2" x2="1739.26" y2="518.06" stroke="#000" stroke-width="1.11"/>
<text x="1739.26" y="540.6" font-size="22.22" text-anchor="middle">2</text>
<line x1="1815.9" y1="513.2" x2="1815.9" y2="518.06" stroke="#000" stroke-width="1.11"/>
<text x="1815.9" y="540.6" font-size="22.22" text-anchor="middle">4</text>
<line x1="1892.54" y1="513.2" x2="1892.54" y2="518.06" stroke="#000" stroke-width="1.11"/>
<text x="1892.54" y="540.6" font-size="22.22" text-anchor="middle">6</text>
<line x1="1969.18" y1="513.2" x2="1969.18" y2="518.06" stroke="#000" stroke-width="1.11"/>
<text x="1969.18" y="540.6" font-size="22.22" text-anchor="middle">8</text>
<line x1="2045.81" y1="513.2" x2="2045.81" y2="518.06" stroke="#000" stroke-width="1.11"/>
<text x="2045.81" y="540.6" font-size="22.22" text-anchor="middle">10</text>
<line x1="2122.45" y1="513.2" x2="2122.45" y2="518.06" stroke="#000" stroke-width="1.11"/>
<text x="2122.45" y="540.6" font-size="22.22" text-anchor="middle">12</text>
<line x1="2199.09" y1="513.2" x2="2199.09" y2="518.06" stroke="#000" stroke-width="1.11"/>
<text x="2199.09" y="540.6" font-size="22.22" text-anchor="middle">14</text>
<line x1="1700.64" y1="484.2" x2="1705.5" y2="484.2" stroke="#000" stroke-width="1.11"/>
<text x="1694.5" y="492.5" font-size="22.22" text-anchor="end">2</text>
<line x1="1700.64" y1="418.86" x2="1705.5" y2="418.86" stroke="#000" stroke-width="1.11"/>
<text x="1694.5" y="427.16" font-size="22.22" text-anchor="end">4</text>
<line x1="1700.64" y1="353.52" x2="1705.5" y2="353.52" stroke="#000" stroke-width="1.11"/>
<text x="1694.5" y="361.82" font-size="22.22" text-anchor="end">6</text>
<line x1="1700.64" y1="288.18" x2="1705.5" y2="288.18" stroke="#000" stroke-width="1.11"/>
<text x="1694.5" y="296.48" font-size="22.22" text-anchor="end">8</text>
<line x1="1700.64" y1="222.84" x2="1705.5" y2="222.84" stroke="#000" stroke-width="1.11"/>
<text x="1694.5" y="231.14" font-size="22.22" text-anchor="end">10</text>
<line x1="1700.64" y1="157.5" x2="1705.5" y2="157.5" stroke="#000" stroke-width="1.11"/>
<text x="1694.5" y="165.8" font-size="22.22" text-anchor="end">12</text>
<line x1="1700.64" y1="92.16" x2="1705.5" y2="92.16" stroke="#000" stroke-width="1.11"/>
<text x="1694.5" y="100.46" font-size="22.22" text-anchor="end">14</text>
<text x="1985.5" y="569.8" font-size="22.22" text-anchor="middle">ACTRIS CTH [km]</text>
<text x="1984" y="27.9" font-size="22.22" text-anchor="middle">CTH (AMSL) Single-Layer-Ice</text>
<text transform="translate(1654.72 275.75) rotate(-90)" font-size="22.22" text-anchor="middle">FCI/OCA CTH [km]</text>
<rect x="2300.5" y="36.3" width="23.1" height="476.9" fill="url(#vg)" stroke="#000" stroke-width="1.11"/>
<line x1="2323.6" y1="513.2" x2="2328.46" y2="513.2" stroke="#000" stroke-width="1.11"/>
<text x="2334.1" y="519.8" font-size="13.89" text-anchor="start">10<tspan dy="-5.1" font-size="9.72">0</tspan></text>
<line x1="2323.6" y1="422.06" x2="2326.38" y2="422.06" stroke="#000" stroke-width="0.83"/>
<line x1="2323.6" y1="368.75" x2="2326.38" y2="368.75" stroke="#000" stroke-width="0.83"/>
<line x1="2323.6" y1="330.92" x2="2326.38" y2="330.92" stroke="#000" stroke-width="0.83"/>
<line x1="2323.6" y1="301.58" x2="2326.38" y2="301.58" stroke="#000" stroke-width="0.83"/>
<line x1="2323.6" y1="277.61" x2="2326.38" y2="277.61" stroke="#000" stroke-width="0.83"/>
<line x1="2323.6" y1="257.34" x2="2326.38" y2="257.34" stroke="#000" stroke-width="0.83"/>
<line x1="2323.6" y1="239.78" x2="2326.38" y2="239.78" stroke="#000" stroke-width="0.83"/>
<line x1="2323.6" y1="224.3" x2="2326.38" y2="224.3" stroke="#000" stroke-width="0.83"/>
<line x1="2323.6" y1="210.44" x2="2328.46" y2="210.44" stroke="#000" stroke-width="1.11"/>
<text x="2334.1" y="217.04" font-size="13.89" text-anchor="start">10<tspan dy="-5.1" font-size="9.72">1</tspan></text>
<line x1="2323.6" y1="119.3" x2="2326.38" y2="119.3" stroke="#000" stroke-width="0.83"/>
<line x1="2323.6" y1="65.99" x2="2326.38" y2="65.99" stroke="#000" stroke-width="0.83"/>
<text transform="translate(2374.7 276.05) rotate(-90)" font-size="13.89" text-anchor="middle">Counts</text>
<g shape-rendering="crispEdges">
<rect x="2722.5" y="83.99" width="11.5" height="9.84" fill="#440154"/>
<rect x="2711.3" y="141.22" width="11.5" height="9.84" fill="#440154"/>
<rect x="2722.5" y="141.22" width="11.5" height="9.84" fill="#440154"/>
<rect x="2599.3" y="179.37" width="11.5" height="9.84" fill="#440154"/>
<rect x="2655.3" y="246.14" width="11.5" height="9.84" fill="#440154"/>
<rect x="2778.5" y="255.67" width="11.5" height="9.84" fill="#440154"/>
<rect x="2666.5" y="265.21" width="11.5" height="9.84" fill="#440154"/>
<rect x="2632.9" y="274.75" width="11.5" height="9.84" fill="#440154"/>
<rect x="2666.5" y="274.75" width="11.5" height="9.84" fill="#440154"/>
<rect x="2677.7" y="274.75" width="11.5" height="9.84" fill="#440154"/>
<rect x="2576.9" y="284.29" width="11.5" height="9.84" fill="#440154"/>
<rect x="2588.1" y="303.36" width="11.5" height="9.84" fill="#440154"/>
<rect x="2621.7" y="303.36" width="11.5" height="9.84" fill="#440154"/>
<rect x="2632.9" y="322.44" width="11.5" height="9.84" fill="#440154"/>
<rect x="2733.7" y="322.44" width="11.5" height="9.84" fill="#440154"/>
<rect x="2856.9" y="322.44" width="11.5" height="9.84" fill="#440154"/>
<rect x="2599.3" y="331.98" width="11.5" height="9.84" fill="#440154"/>
<rect x="2599.3" y="351.05" width="11.5" height="9.84" fill="#440154"/>
<rect x="2621.7" y="351.05" width="11.5" height="9.84" fill="#440154"/>
<rect x="2677.7" y="351.05" width="11.5" height="9.84" fill="#440154"/>
<rect x="2823.3" y="351.05" width="11.5" height="9.84" fill="#440154"/>
<rect x="2588.1" y="360.59" width="11.5" height="9.84" fill="#440154"/>
<rect x="2599.3" y="360.59" width="11.5" height="9.84" fill="#440154"/>
<rect x="2621.7" y="370.13" width="11.5" height="9.84" fill="#440154"/>
<rect x="2823.3" y="370.13" width="11.5" height="9.84" fill="#440154"/>
<rect x="2588.1" y="370.13" width="11.5" height="9.84" fill="#fde725"/>
<rect x="2610.5" y="389.21" width="11.5" height="9.84" fill="#440154"/>
<rect x="2621.7" y="389.21" width="11.5" height="9.84" fill="#440154"/>
<rect x="2621.7" y="398.74" width="11.5" height="9.84" fill="#440154"/>
<rect x="2588.1" y="417.82" width="11.5" height="9.84" fill="#440154"/>
<rect x="2980.1" y="455.97" width="11.5" height="9.84" fill="#440154"/>
</g>
<clipPath id="ct3"><rect x="2498.5" y="36.3" width="560" height="476.9"/></clipPath>
<g clip-path="url(#ct3)" stroke="#000" stroke-width="2.08" fill="none">
<line x1="2485.36" y1="524.45" x2="3071.64" y2="24.21" stroke-dasharray="7.7 3.33"/>
<line x1="2498.5" y1="323.4" x2="3058.5" y2="307.2"/>
</g>
<rect x="2520.94" y="45" width="300.28" height="39" fill="#fff" fill-opacity="0.5"/>
<text x="2526.2" y="72.6" font-size="27.78" text-anchor="start">Fit: y = 0.03x + 2.95</text>
<rect x="2498.5" y="36.3" width="560" height="476.9" fill="none" stroke="#000" stroke-width="1.11"/>
<line x1="2527.5" y1="513.2" x2="2527.5" y2="518.06" stroke="#000" stroke-width="1.11"/>
<text x="2527.5" y="540.6" font-size="22.22" text-anchor="middle">0</text>
<line x1="2658.85" y1="513.2" x2="2658.85" y2="518.06" stroke="#000" stroke-width="1.11"/>
<text x="2658.85" y="540.6" font-size="22.22" text-anchor="middle">2</text>
<line x1="2790.21" y1="513.2" x2="2790.21" y2="518.06" stroke="#000" stroke-width="1.11"/>
<text x="2790.21" y="540.6" font-size="22.22" text-anchor="middle">4</text>
<line x1="2921.56" y1="513.2" x2="2921.56" y2="518.06" stroke="#000" stroke-width="1.11"/>
<text x="2921.56" y="540.6" font-size="22.22" text-anchor="middle">6</text>
<line x1="3052.92" y1="513.2" x2="3052.92" y2="518.06" stroke="#000" stroke-width="1.11"/>
<text x="3052.92" y="540.6" font-size="22.22" text-anchor="middle">8</text>
<line x1="2493.64" y1="488.5" x2="2498.5" y2="488.5" stroke="#000" stroke-width="1.11"/>
<text x="2487.5" y="496.8" font-size="22.22" text-anchor="end">0</text>
<line x1="2493.64" y1="432.46" x2="2498.5" y2="432.46" stroke="#000" stroke-width="1.11"/>
<text x="2487.5" y="440.76" font-size="22.22" text-anchor="end">1</text>
<line x1="2493.64" y1="376.42" x2="2498.5" y2="376.42" stroke="#000" stroke-width="1.11"/>
<text x="2487.5" y="384.72" font-size="22.22" text-anchor="end">2</text>
<line x1="2493.64" y1="320.38" x2="2498.5" y2="320.38" stroke="#000" stroke-width="1.11"/>
<text x="2487.5" y="328.68" font-size="22.22" text-anchor="end">3</text>
<line x1="2493.64" y1="264.34" x2="2498.5" y2="264.34" stroke="#000" stroke-width="1.11"/>
<text x="2487.5" y="272.64" font-size="22.22" text-anchor="end">4</text>
<line x1="2493.64" y1="208.3" x2="2498.5" y2="208.3" stroke="#000" stroke-width="1.11"/>
<text x="2487.5" y="216.6" font-size="22.22" text-anchor="end">5</text>
<line x1="2493.64" y1="152.26" x2="2498.5" y2="152.26" stroke="#000" stroke-width="1.11"/>
<text x="2487.5" y="160.56" font-size="22.22" text-anchor="end">6</text>
<line x1="2493.64" y1="96.22" x2="2498.5" y2="96.22" stroke="#000" stroke-width="1.11"/>
<text x="2487.5" y="104.52" font-size="22.22" text-anchor="end">7</text>
<line x1="2493.64" y1="40.18" x2="2498.5" y2="40.18" stroke="#000" stroke-width="1.11"/>
<text x="2487.5" y="48.48" font-size="22.22" text-anchor="end">8</text>
<text x="2778.5" y="569.8" font-size="22.22" text-anchor="middle">ACTRIS CTH [km]</text>
<text x="2777" y="27.9" font-size="22.22" text-anchor="middle">CTH (AMSL) 2-Layers/Bottom-Water</text>
<text transform="translate(2461.85 275.75) rotate(-90)" font-size="22.22" text-anchor="middle">FCI/OCA CTH [km]</text>
<rect x="3093.5" y="36.3" width="23.1" height="476.9" fill="url(#vg)" stroke="#000" stroke-width="1.11"/>
<line x1="3116.6" y1="513.2" x2="3121.46" y2="513.2" stroke="#000" stroke-width="1.11"/>
<text x="3127.1" y="519.8" font-size="13.89" text-anchor="start">10<tspan dy="-5.1" font-size="9.72">0</tspan></text>
<line x1="3116.6" y1="212.31" x2="3119.38" y2="212.31" stroke="#000" stroke-width="0.83"/>
<text x="3125.2" y="218.91" font-size="13.89" text-anchor="start">2<tspan dx="2.4">×</tspan><tspan dx="2.4">10</tspan><tspan dy="-5.1" font-size="9.72">0</tspan></text>
<line x1="3116.6" y1="36.3" x2="3119.38" y2="36.3" stroke="#000" stroke-width="0.83"/>
<text x="3125.2" y="42.9" font-size="13.89" text-anchor="start">3<tspan dx="2.4">×</tspan><tspan dx="2.4">10</tspan><tspan dy="-5.1" font-size="9.72">0</tspan></text>
<text transform="translate(3190.5 276.05) rotate(-90)" font-size="13.89" text-anchor="middle">Counts</text>
<g shape-rendering="crispEdges">
<rect x="3531" y="83.99" width="11.5" height="9.84" fill="#440154"/>
<rect x="3687.8" y="83.99" width="11.5" height="9.84" fill="#440154"/>
<rect x="3699" y="83.99" width="11.5" height="9.84" fill="#440154"/>
<rect x="3743.8" y="93.53" width="11.5" height="9.84" fill="#440154"/>
<rect x="3755" y="93.53" width="11.5" height="9.84" fill="#440154"/>
<rect x="3631.8" y="103.07" width="11.5" height="9.84" fill="#31688e"/>
<rect x="3676.6" y="103.07" width="11.5" height="9.84" fill="#440154"/>
<rect x="3407.8" y="112.6" width="11.5" height="9.84" fill="#440154"/>
<rect x="3665.4" y="112.6" width="11.5" height="9.84" fill="#440154"/>
<rect x="3788.6" y="112.6" width="11.5" height="9.84" fill="#440154"/>
<rect x="3587" y="122.14" width="11.5" height="9.84" fill="#440154"/>
<rect x="3609.4" y="122.14" width="11.5" height="9.84" fill="#440154"/>
<rect x="3620.6" y="122.14" width="11.5" height="9.84" fill="#31688e"/>
<rect x="3631.8" y="122.14" width="11.5" height="9.84" fill="#440154"/>
<rect x="3643" y="122.14" width="11.5" height="9.84" fill="#31688e"/>
<rect x="3654.2" y="122.14" width="11.5" height="9.84" fill="#6ccd5a"/>
<rect x="3665.4" y="122.14" width="11.5" height="9.84" fill="#6ccd5a"/>
<rect x="3676.6" y="122.14" width="11.5" height="9.84" fill="#440154"/>
<rect x="3687.8" y="122.14" width="11.5" height="9.84" fill="#440154"/>
<rect x="3699" y="122.14" width="11.5" height="9.84" fill="#440154"/>
<rect x="3710.2" y="122.14" width="11.5" height="9.84" fill="#440154"/>
<rect x="3721.4" y="122.14" width="11.5" height="9.84" fill="#440154"/>
<rect x="3777.4" y="122.14" width="11.5" height="9.84" fill="#440154"/>
<rect x="3497.4" y="131.68" width="11.5" height="9.84" fill="#440154"/>
<rect x="3508.6" y="131.68" width="11.5" height="9.84" fill="#440154"/>
<rect x="3553.4" y="131.68" width="11.5" height="9.84" fill="#440154"/>
<rect x="3598.2" y="131.68" width="11.5" height="9.84" fill="#31688e"/>
<rect x="3609.4" y="131.68" width="11.5" height="9.84" fill="#31688e"/>
<rect x="3620.6" y="131.68" width="11.5" height="9.84" fill="#31688e"/>
<rect x="3631.8" y="131.68" width="11.5" height="9.84" fill="#440154"/>
<rect x="3643" y="131.68" width="11.5" height="9.84" fill="#1f978b"/>
<rect x="3654.2" y="131.68" width="11.5" height="9.84" fill="#35b779"/>
<rect x="3665.4" y="131.68" width="11.5" height="9.84" fill="#440154"/>
<rect x="3676.6" y="131.68" width="11.5" height="9.84" fill="#1f978b"/>
<rect x="3687.8" y="131.68" width="11.5" height="9.84" fill="#440154"/>
<rect x="3710.2" y="131.68" width="11.5" height="9.84" fill="#440154"/>
<rect x="3721.4" y="131.68" width="11.5" height="9.84" fill="#35b779"/>
<rect x="3766.2" y="131.68" width="11.5" height="9.84" fill="#440154"/>
<rect x="3441.4" y="141.22" width="11.5" height="9.84" fill="#440154"/>
<rect x="3475" y="141.22" width="11.5" height="9.84" fill="#440154"/>
<rect x="3519.8" y="141.22" width="11.5" height="9.84" fill="#440154"/>
<rect x="3564.6" y="141.22" width="11.5" height="9.84" fill="#440154"/>
<rect x="3587" y="141.22" width="11.5" height="9.84" fill="#31688e"/>
<rect x="3598.2" y="141.22" width="11.5" height="9.84" fill="#440154"/>
<rect x="3631.8" y="141.22" width="11.5" height="9.84" fill="#440154"/>
<rect x="3643" y="141.22" width="11.5" height="9.84" fill="#31688e"/>
<rect x="3676.6" y="141.22" width="11.5" height="9.84" fill="#440154"/>
<rect x="3687.8" y="141.22" width="11.5" height="9.84" fill="#440154"/>
<rect x="3699" y="141.22" width="11.5" height="9.84" fill="#440154"/>
<rect x="3710.2" y="141.22" width="11.5" height="9.84" fill="#440154"/>
<rect x="3721.4" y="141.22" width="11.5" height="9.84" fill="#31688e"/>
<rect x="3743.8" y="141.22" width="11.5" height="9.84" fill="#440154"/>
<rect x="3755" y="141.22" width="11.5" height="9.84" fill="#a2da37"/>
<rect x="3766.2" y="141.22" width="11.5" height="9.84" fill="#31688e"/>
<rect x="3777.4" y="141.22" width="11.5" height="9.84" fill="#440154"/>
<rect x="3788.6" y="141.22" width="11.5" height="9.84" fill="#440154"/>
<rect x="3519.8" y="150.76" width="11.5" height="9.84" fill="#440154"/>
<rect x="3553.4" y="150.76" width="11.5" height="9.84" fill="#440154"/>
<rect x="3609.4" y="150.76" width="11.5" height="9.84" fill="#440154"/>
<rect x="3620.6" y="150.76" width="11.5" height="9.84" fill="#31688e"/>
<rect x="3643" y="150.76" width="11.5" height="9.84" fill="#440154"/>
<rect x="3654.2" y="150.76" width="11.5" height="9.84" fill="#440154"/>
<rect x="3665.4" y="150.76" width="11.5" height="9.84" fill="#440154"/>
<rect x="3687.8" y="150.76" width="11.5" height="9.84" fill="#440154"/>
<rect x="3699" y="150.76" width="11.5" height="9.84" fill="#440154"/>
<rect x="3710.2" y="150.76" width="11.5" height="9.84" fill="#35b779"/>
<rect x="3721.4" y="150.76" width="11.5" height="9.84" fill="#31688e"/>
<rect x="3732.6" y="150.76" width="11.5" height="9.84" fill="#6ccd5a"/>
<rect x="3743.8" y="150.76" width="11.5" height="9.84" fill="#1f978b"/>
<rect x="3755" y="150.76" width="11.5" height="9.84" fill="#440154"/>
<rect x="3531" y="160.29" width="11.5" height="9.84" fill="#31688e"/>
<rect x="3553.4" y="160.29" width="11.5" height="9.84" fill="#440154"/>
<rect x="3575.8" y="160.29" width="11.5" height="9.84" fill="#31688e"/>
<rect x="3587" y="160.29" width="11.5" height="9.84" fill="#440154"/>
<rect x="3620.6" y="160.29" width="11.5" height="9.84" fill="#31688e"/>
<rect x="3643" y="160.29" width="11.5" height="9.84" fill="#440154"/>
<rect x="3654.2" y="160.29" width="11.5" height="9.84" fill="#1f978b"/>
<rect x="3665.4" y="160.29" width="11.5" height="9.84" fill="#440154"/>
<rect x="3676.6" y="160.29" width="11.5" height="9.84" fill="#440154"/>
<rect x="3699" y="160.29" width="11.5" height="9.84" fill="#1f978b"/>
<rect x="3710.2" y="160.29" width="11.5" height="9.84" fill="#1f978b"/>
<rect x="3721.4" y="160.29" width="11.5" height="9.84" fill="#1f978b"/>
<rect x="3732.6" y="160.29" width="11.5" height="9.84" fill="#35b779"/>
<rect x="3743.8" y="160.29" width="11.5" height="9.84" fill="#1f978b"/>
<rect x="3766.2" y="160.29" width="11.5" height="9.84" fill="#440154"/>
<rect x="3385.4" y="169.83" width="11.5" height="9.84" fill="#440154"/>
<rect x="3486.2" y="169.83" width="11.5" height="9.84" fill="#440154"/>
<rect x="3497.4" y="169.83" width="11.5" height="9.84" fill="#440154"/>
<rect x="3508.6" y="169.83" width="11.5" height="9.84" fill="#440154"/>
<rect x="3519.8" y="169.83" width="11.5" height="9.84" fill="#31688e"/>
<rect x="3542.2" y="169.83" width="11.5" height="9.84" fill="#440154"/>
<rect x="3631.8" y="169.83" width="11.5" height="9.84" fill="#440154"/>
<rect x="3643" y="169.83" width="11.5" height="9.84" fill="#440154"/>
<rect x="3654.2" y="169.83" width="11.5" height="9.84" fill="#440154"/>
<rect x="3665.4" y="169.83" width="11.5" height="9.84" fill="#440154"/>
<rect x="3687.8" y="169.83" width="11.5" height="9.84" fill="#440154"/>
<rect x="3699" y="169.83" width="11.5" height="9.84" fill="#31688e"/>
<rect x="3710.2" y="169.83" width="11.5" height="9.84" fill="#fde725"/>
<rect x="3721.4" y="169.83" width="11.5" height="9.84" fill="#35b779"/>
<rect x="3732.6" y="169.83" width="11.5" height="9.84" fill="#1f978b"/>
<rect x="3743.8" y="169.83" width="11.5" height="9.84" fill="#1f978b"/>
<rect x="3755" y="169.83" width="11.5" height="9.84" fill="#440154"/>
<rect x="3777.4" y="169.83" width="11.5" height="9.84" fill="#440154"/>
<rect x="3329.4" y="179.37" width="11.5" height="9.84" fill="#440154"/>
<rect x="3385.4" y="179.37" width="11.5" height="9.84" fill="#440154"/>
<rect x="3419" y="179.37" width="11.5" height="9.84" fill="#440154"/>
<rect x="3531" y="179.37" width="11.5" height="9.84" fill="#31688e"/>
<rect x="3542.2" y="179.37" width="11.5" height="9.84" fill="#31688e"/>
<rect x="3553.4" y="179.37" width="11.5" height="9.84" fill="#440154"/>
<rect x="3575.8" y="179.37" width="11.5" height="9.84" fill="#31688e"/>
<rect x="3587" y="179.37" width="11.5" height="9.84" fill="#35b779"/>
<rect x="3598.2" y="179.37" width="11.5" height="9.84" fill="#440154"/>
<rect x="3620.6" y="179.37" width="11.5" height="9.84" fill="#1f978b"/>
<rect x="3631.8" y="179.37" width="11.5" height="9.84" fill="#1f978b"/>
<rect x="3643" y="179.37" width="11.5" height="9.84" fill="#6ccd5a"/>
<rect x="3654.2" y="179.37" width="11.5" height="9.84" fill="#440154"/>
<rect x="3665.4" y="179.37" width="11.5" height="9.84" fill="#31688e"/>
<rect x="3676.6" y="179.37" width="11.5" height="9.84" fill="#35b779"/>
<rect x="3687.8" y="179.37" width="11.5" height="9.84" fill="#35b779"/>
<rect x="3699" y="179.37" width="11.5" height="9.84" fill="#440154"/>
<rect x="3710.2" y="179.37" width="11.5" height="9.84" fill="#31688e"/>
<rect x="3721.4" y="179.37" width="11.5" height="9.84" fill="#1f978b"/>
<rect x="3732.6" y="179.37" width="11.5" height="9.84" fill="#31688e"/>
<rect x="3743.8" y="179.37" width="11.5" height="9.84" fill="#440154"/>
<rect x="3542.2" y="188.91" width="11.5" height="9.84" fill="#31688e"/>
<rect x="3575.8" y="188.91" width="11.5" height="9.84" fill="#440154"/>
<rect x="3587" y="188.91" width="11.5" height="9.84" fill="#31688e"/>
<rect x="3598.2" y="188.91" width="11.5" height="9.84" fill="#31688e"/>
<rect x="3609.4" y="188.91" width="11.5" height="9.84" fill="#1f978b"/>
<rect x="3620.6" y="188.91" width="11.5" height="9.84" fill="#31688e"/>
<rect x="3631.8" y="188.91" width="11.5" height="9.84" fill="#440154"/>
<rect x="3643" y="188.91" width="11.5" height="9.84" fill="#31688e"/>
<rect x="3665.4" y="188.91" width="11.5" height="9.84" fill="#35b779"/>
<rect x="3676.6" y="188.91" width="11.5" height="9.84" fill="#31688e"/>
<rect x="3687.8" y="188.91" width="11.5" height="9.84" fill="#6ccd5a"/>
<rect x="3699" y="188.91" width="11.5" height="9.84" fill="#31688e"/>
<rect x="3710.2" y="188.91" width="11.5" height="9.84" fill="#a2da37"/>
<rect x="3721.4" y="188.91" width="11.5" height="9.84" fill="#440154"/>
<rect x="3732.6" y="188.91" width="11.5" height="9.84" fill="#31688e"/>
<rect x="3430.2" y="198.45" width="11.5" height="9.84" fill="#440154"/>
<rect x="3475" y="198.45" width="11.5" height="9.84" fill="#440154"/>
<rect x="3531" y="198.45" width="11.5" height="9.84" fill="#440154"/>
<rect x="3542.2" y="198.45" width="11.5" height="9.84" fill="#440154"/>
<rect x="3553.4" y="198.45" width="11.5" height="9.84" fill="#440154"/>
<rect x="3575.8" y="198.45" width="11.5" height="9.84" fill="#31688e"/>
<rect x="3587" y="198.45" width="11.5" height="9.84" fill="#1f978b"/>
<rect x="3598.2" y="198.45" width="11.5" height="9.84" fill="#a2da37"/>
<rect x="3609.4" y="198.45" width="11.5" height="9.84" fill="#35b779"/>
<rect x="3620.6" y="198.45" width="11.5" height="9.84" fill="#31688e"/>
<rect x="3631.8" y="198.45" width="11.5" height="9.84" fill="#440154"/>
<rect x="3643" y="198.45" width="11.5" height="9.84" fill="#440154"/>
<rect x="3665.4" y="198.45" width="11.5" height="9.84" fill="#1f978b"/>
<rect x="3676.6" y="198.45" width="11.5" height="9.84" fill="#31688e"/>
<rect x="3687.8" y="198.45" width="11.5" height="9.84" fill="#31688e"/>
<rect x="3699" y="198.45" width="11.5" height="9.84" fill="#31688e"/>
<rect x="3710.2" y="198.45" width="11.5" height="9.84" fill="#440154"/>
<rect x="3721.4" y="198.45" width="11.5" height="9.84" fill="#fde725"/>
<rect x="3732.6" y="198.45" width="11.5" height="9.84" fill="#6ccd5a"/>
<rect x="3743.8" y="198.45" width="11.5" height="9.84" fill="#31688e"/>
<rect x="3340.6" y="207.98" width="11.5" height="9.84" fill="#440154"/>
<rect x="3531" y="207.98" width="11.5" height="9.84" fill="#440154"/>
<rect x="3564.6" y="207.98" width="11.5" height="9.84" fill="#440154"/>
<rect x="3575.8" y="207.98" width="11.5" height="9.84" fill="#1f978b"/>
<rect x="3587" y="207.98" width="11.5" height="9.84" fill="#31688e"/>
<rect x="3598.2" y="207.98" width="11.5" height="9.84" fill="#440154"/>
<rect x="3609.4" y="207.98" width="11.5" height="9.84" fill="#31688e"/>
<rect x="3620.6" y="207.98" width="11.5" height="9.84" fill="#1f978b"/>
<rect x="3631.8" y="207.98" width="11.5" height="9.84" fill="#35b779"/>
<rect x="3643" y="207.98" width="11.5" height="9.84" fill="#440154"/>
<rect x="3654.2" y="207.98" width="11.5" height="9.84" fill="#31688e"/>
<rect x="3665.4" y="207.98" width="11.5" height="9.84" fill="#31688e"/>
<rect x="3699" y="207.98" width="11.5" height="9.84" fill="#1f978b"/>
<rect x="3710.2" y="207.98" width="11.5" height="9.84" fill="#31688e"/>
<rect x="3721.4" y="207.98" width="11.5" height="9.84" fill="#440154"/>
<rect x="3732.6" y="207.98" width="11.5" height="9.84" fill="#440154"/>
<rect x="3374.2" y="217.52" width="11.5" height="9.84" fill="#440154"/>
<rect x="3542.2" y="217.52" width="11.5" height="9.84" fill="#440154"/>
<rect x="3553.4" y="217.52" width="11.5" height="9.84" fill="#440154"/>
<rect x="3564.6" y="217.52" width="11.5" height="9.84" fill="#31688e"/>
<rect x="3575.8" y="217.52" width="11.5" height="9.84" fill="#440154"/>
<rect x="3587" y="217.52" width="11.5" height="9.84" fill="#31688e"/>
<rect x="3598.2" y="217.52" width="11.5" height="9.84" fill="#31688e"/>
<rect x="3609.4" y="217.52" width="11.5" height="9.84" fill="#1f978b"/>
<rect x="3620.6" y="217.52" width="11.5" height="9.84" fill="#31688e"/>
<rect x="3631.8" y="217.52" width="11.5" height="9.84" fill="#440154"/>
<rect x="3643" y="217.52" width="11.5" height="9.84" fill="#1f978b"/>
<rect x="3654.2" y="217.52" width="11.5" height="9.84" fill="#6ccd5a"/>
<rect x="3665.4" y="217.52" width="11.5" height="9.84" fill="#35b779"/>
<rect x="3687.8" y="217.52" width="11.5" height="9.84" fill="#440154"/>
<rect x="3699" y="217.52" width="11.5" height="9.84" fill="#440154"/>
<rect x="3329.4" y="227.06" width="11.5" height="9.84" fill="#440154"/>
<rect x="3430.2" y="227.06" width="11.5" height="9.84" fill="#440154"/>
<rect x="3463.8" y="227.06" width="11.5" height="9.84" fill="#440154"/>
<rect x="3564.6" y="227.06" width="11.5" height="9.84" fill="#440154"/>
<rect x="3598.2" y="227.06" width="11.5" height="9.84" fill="#31688e"/>
<rect x="3609.4" y="227.06" width="11.5" height="9.84" fill="#31688e"/>
<rect x="3620.6" y="227.06" width="11.5" height="9.84" fill="#1f978b"/>
<rect x="3643" y="227.06" width="11.5" height="9.84" fill="#1f978b"/>
<rect x="3654.2" y="227.06" width="11.5" height="9.84" fill="#35b779"/>
<rect x="3665.4" y="227.06" width="11.5" height="9.84" fill="#440154"/>
<rect x="3676.6" y="227.06" width="11.5" height="9.84" fill="#31688e"/>
<rect x="3363" y="236.6" width="11.5" height="9.84" fill="#440154"/>
<rect x="3419" y="236.6" width="11.5" height="9.84" fill="#31688e"/>
<rect x="3430.2" y="236.6" width="11.5" height="9.84" fill="#440154"/>
<rect x="3441.4" y="236.6" width="11.5" height="9.84" fill="#440154"/>
<rect x="3486.2" y="236.6" width="11.5" height="9.84" fill="#440154"/>
<rect x="3531" y="236.6" width="11.5" height="9.84" fill="#440154"/>
<rect x="3553.4" y="236.6" width="11.5" height="9.84" fill="#31688e"/>
<rect x="3575.8" y="236.6" width="11.5" height="9.84" fill="#440154"/>
<rect x="3587" y="236.6" width="11.5" height="9.84" fill="#31688e"/>
<rect x="3609.4" y="236.6" width="11.5" height="9.84" fill="#31688e"/>
<rect x="3620.6" y="236.6" width="11.5" height="9.84" fill="#31688e"/>
<rect x="3631.8" y="236.6" width="11.5" height="9.84" fill="#35b779"/>
<rect x="3643" y="236.6" width="11.5" height="9.84" fill="#31688e"/>
<rect x="3654.2" y="236.6" width="11.5" height="9.84" fill="#440154"/>
<rect x="3665.4" y="236.6" width="11.5" height="9.84" fill="#440154"/>
<rect x="3676.6" y="236.6" width="11.5" height="9.84" fill="#31688e"/>
<rect x="3687.8" y="236.6" width="11.5" height="9.84" fill="#440154"/>
<rect x="3699" y="236.6" width="11.5" height="9.84" fill="#440154"/>
<rect x="3430.2" y="246.14" width="11.5" height="9.84" fill="#31688e"/>
<rect x="3452.6" y="246.14" width="11.5" height="9.84" fill="#440154"/>
<rect x="3475" y="246.14" width="11.5" height="9.84" fill="#440154"/>
<rect x="3486.2" y="246.14" width="11.5" height="9.84" fill="#31688e"/>
<rect x="3497.4" y="246.14" width="11.5" height="9.84" fill="#440154"/>
<rect x="3508.6" y="246.14" width="11.5" height="9.84" fill="#440154"/>
<rect x="3519.8" y="246.14" width="11.5" height="9.84" fill="#440154"/>
<rect x="3564.6" y="246.14" width="11.5" height="9.84" fill="#31688e"/>
<rect x="3575.8" y="246.14" width="11.5" height="9.84" fill="#440154"/>
<rect x="3587" y="246.14" width="11.5" height="9.84" fill="#31688e"/>
<rect x="3598.2" y="246.14" width="11.5" height="9.84" fill="#31688e"/>
<rect x="3609.4" y="246.14" width="11.5" height="9.84" fill="#31688e"/>
<rect x="3620.6" y="246.14" width="11.5" height="9.84" fill="#31688e"/>
<rect x="3643" y="246.14" width="11.5" height="9.84" fill="#31688e"/>
<rect x="3665.4" y="246.14" width="11.5" height="9.84" fill="#31688e"/>
<rect x="3374.2" y="255.67" width="11.5" height="9.84" fill="#440154"/>
<rect x="3419" y="255.67" width="11.5" height="9.84" fill="#31688e"/>
<rect x="3430.2" y="255.67" width="11.5" height="9.84" fill="#440154"/>
<rect x="3575.8" y="255.67" width="11.5" height="9.84" fill="#31688e"/>
<rect x="3587" y="255.67" width="11.5" height="9.84" fill="#1f978b"/>
<rect x="3598.2" y="255.67" width="11.5" height="9.84" fill="#35b779"/>
<rect x="3620.6" y="255.67" width="11.5" height="9.84" fill="#1f978b"/>
<rect x="3631.8" y="255.67" width="11.5" height="9.84" fill="#440154"/>
<rect x="3643" y="255.67" width="11.5" height="9.84" fill="#1f978b"/>
<rect x="3654.2" y="255.67" width="11.5" height="9.84" fill="#31688e"/>
<rect x="3351.8" y="265.21" width="11.5" height="9.84" fill="#440154"/>
<rect x="3363" y="265.21" width="11.5" height="9.84" fill="#440154"/>
<rect x="3374.2" y="265.21" width="11.5" height="9.84" fill="#440154"/>
<rect x="3396.6" y="265.21" width="11.5" height="9.84" fill="#440154"/>
<rect x="3508.6" y="265.21" width="11.5" height="9.84" fill="#31688e"/>
<rect x="3519.8" y="265.21" width="11.5" height="9.84" fill="#1f978b"/>
<rect x="3564.6" y="265.21" width="11.5" height="9.84" fill="#440154"/>
<rect x="3575.8" y="265.21" width="11.5" height="9.84" fill="#440154"/>
<rect x="3587" y="265.21" width="11.5" height="9.84" fill="#31688e"/>
<rect x="3598.2" y="265.21" width="11.5" height="9.84" fill="#440154"/>
<rect x="3609.4" y="265.21" width="11.5" height="9.84" fill="#440154"/>
<rect x="3643" y="265.21" width="11.5" height="9.84" fill="#440154"/>
<rect x="3654.2" y="265.21" width="11.5" height="9.84" fill="#440154"/>
<rect x="3441.4" y="274.75" width="11.5" height="9.84" fill="#440154"/>
<rect x="3542.2" y="274.75" width="11.5" height="9.84" fill="#31688e"/>
<rect x="3553.4" y="274.75" width="11.5" height="9.84" fill="#31688e"/>
<rect x="3564.6" y="274.75" width="11.5" height="9.84" fill="#440154"/>
<rect x="3575.8" y="274.75" width="11.5" height="9.84" fill="#440154"/>
<rect x="3587" y="274.75" width="11.5" height="9.84" fill="#35b779"/>
<rect x="3598.2" y="274.75" width="11.5" height="9.84" fill="#440154"/>
<rect x="3430.2" y="284.29" width="11.5" height="9.84" fill="#440154"/>
<rect x="3531" y="284.29" width="11.5" height="9.84" fill="#440154"/>
<rect x="3542.2" y="284.29" width="11.5" height="9.84" fill="#1f978b"/>
<rect x="3587" y="284.29" width="11.5" height="9.84" fill="#440154"/>
<rect x="3598.2" y="284.29" width="11.5" height="9.84" fill="#440154"/>
<rect x="3396.6" y="293.83" width="11.5" height="9.84" fill="#440154"/>
<rect x="3575.8" y="293.83" width="11.5" height="9.84" fill="#440154"/>
<rect x="3575.8" y="312.9" width="11.5" height="9.84" fill="#440154"/>
<rect x="3407.8" y="322.44" width="11.5" height="9.84" fill="#440154"/>
<rect x="3452.6" y="322.44" width="11.5" height="9.84" fill="#440154"/>
<rect x="3340.6" y="331.98" width="11.5" height="9.84" fill="#440154"/>
<rect x="3553.4" y="331.98" width="11.5" height="9.84" fill="#440154"/>
</g>
<clipPath id="ct4"><rect x="3284.6" y="36.3" width="560" height="476.9"/></clipPath>
<g clip-path="url(#ct4)" stroke="#000" stroke-width="2.08" fill="none">
<line x1="3274.94" y1="521.01" x2="3854.26" y2="28.26" stroke-dasharray="7.7 3.33"/>
<line x1="3284.6" y1="282.7" x2="3844.6" y2="146.65"/>
</g>
<rect x="3307.04" y="45" width="300.28" height="39" fill="#fff" fill-opacity="0.5"/>
<text x="3312.3" y="72.6" font-size="27.78" text-anchor="start">Fit: y = 0.28x + 6.69</text>
<rect x="3284.6" y="36.3" width="560" height="476.9" fill="none" stroke="#000" stroke-width="1.11"/>
<line x1="3306.1" y1="513.2" x2="3306.1" y2="518.06" stroke="#000" stroke-width="1.11"/>
<text x="3306.1" y="540.6" font-size="22.22" text-anchor="middle">2</text>
<line x1="3402.75" y1="513.2" x2="3402.75" y2="518.06" stroke="#000" stroke-width="1.11"/>
<text x="3402.75" y="540.6" font-size="22.22" text-anchor="middle">4</text>
<line x1="3499.39" y1="513.2" x2="3499.39" y2="518.06" stroke="#000" stroke-width="1.11"/>
<text x="3499.39" y="540.6" font-size="22.22" text-anchor="middle">6</text>
<line x1="3596.03" y1="513.2" x2="3596.03" y2="518.06" stroke="#000" stroke-width="1.11"/>
<text x="3596.03" y="540.6" font-size="22.22" text-anchor="middle">8</text>
<line x1="3692.68" y1="513.2" x2="3692.68" y2="518.06" stroke="#000" stroke-width="1.11"/>
<text x="3692.68" y="540.6" font-size="22.22" text-anchor="middle">10</text>
<line x1="3789.32" y1="513.2" x2="3789.32" y2="518.06" stroke="#000" stroke-width="1.11"/>
<text x="3789.32" y="540.6" font-size="22.22" text-anchor="middle">12</text>
<line x1="3279.74" y1="494.5" x2="3284.6" y2="494.5" stroke="#000" stroke-width="1.11"/>
<text x="3273.6" y="502.8" font-size="22.22" text-anchor="end">2</text>
<line x1="3279.74" y1="412.3" x2="3284.6" y2="412.3" stroke="#000" stroke-width="1.11"/>
<text x="3273.6" y="420.6" font-size="22.22" text-anchor="end">4</text>
<line x1="3279.74" y1="330.1" x2="3284.6" y2="330.1" stroke="#000" stroke-width="1.11"/>
<text x="3273.6" y="338.4" font-size="22.22" text-anchor="end">6</text>
<line x1="3279.74" y1="247.9" x2="3284.6" y2="247.9" stroke="#000" stroke-width="1.11"/>
<text x="3273.6" y="256.2" font-size="22.22" text-anchor="end">8</text>
<line x1="3279.74" y1="165.7" x2="3284.6" y2="165.7" stroke="#000" stroke-width="1.11"/>
<text x="3273.6" y="174" font-size="22.22" text-anchor="end">10</text>
<line x1="3279.74" y1="83.5" x2="3284.6" y2="83.5" stroke="#000" stroke-width="1.11"/>
<text x="3273.6" y="91.8" font-size="22.22" text-anchor="end">12</text>
<text x="3564.6" y="569.8" font-size="22.22" text-anchor="middle">ACTRIS CTH [km]</text>
<text x="3563.1" y="27.9" font-size="22.22" text-anchor="middle">CTH (AMSL) 2-Layers/Top-Ice</text>
<text transform="translate(3233.82 275.75) rotate(-90)" font-size="22.22" text-anchor="middle">FCI/OCA CTH [km]</text>
<rect x="3879.6" y="36.3" width="23.1" height="476.9" fill="url(#vg)" stroke="#000" stroke-width="1.11"/>
<line x1="3902.7" y1="513.2" x2="3907.56" y2="513.2" stroke="#000" stroke-width="1.11"/>
<text x="3913.2" y="519.8" font-size="13.89" text-anchor="start">10<tspan dy="-5.1" font-size="9.72">0</tspan></text>
<line x1="3902.7" y1="354.23" x2="3905.48" y2="354.23" stroke="#000" stroke-width="0.83"/>
<text x="3911.3" y="360.83" font-size="13.89" text-anchor="start">2<tspan dx="2.4">×</tspan><tspan dx="2.4">10</tspan><tspan dy="-5.1" font-size="9.72">0</tspan></text>
<line x1="3902.7" y1="261.24" x2="3905.48" y2="261.24" stroke="#000" stroke-width="0.83"/>
<text x="3911.3" y="267.84" font-size="13.89" text-anchor="start">3<tspan dx="2.4">×</tspan><tspan dx="2.4">10</tspan><tspan dy="-5.1" font-size="9.72">0</tspan></text>
<line x1="3902.7" y1="195.27" x2="3905.48" y2="195.27" stroke="#000" stroke-width="0.83"/>
<text x="3911.3" y="201.87" font-size="13.89" text-anchor="start">4<tspan dx="2.4">×</tspan><tspan dx="2.4">10</tspan><tspan dy="-5.1" font-size="9.72">0</tspan></text>
<line x1="3902.7" y1="144.09" x2="3905.48" y2="144.09" stroke="#000" stroke-width="0.83"/>
<line x1="3902.7" y1="102.28" x2="3905.48" y2="102.28" stroke="#000" stroke-width="0.83"/>
<text x="3911.3" y="108.88" font-size="13.89" text-anchor="start">6<tspan dx="2.4">×</tspan><tspan dx="2.4">10</tspan><tspan dy="-5.1" font-size="9.72">0</tspan></text>
<line x1="3902.7" y1="66.92" x2="3905.48" y2="66.92" stroke="#000" stroke-width="0.83"/>
<line x1="3902.7" y1="36.3" x2="3905.48" y2="36.3" stroke="#000" stroke-width="0.83"/>
<text transform="translate(3976.6 276.05) rotate(-90)" font-size="13.89" text-anchor="middle">Counts</text>
<g fill="#d3d3d3" stroke="#000" stroke-width="1.39">
<rect x="137.32" y="1085.85" width="12.73" height="0.45"/>
<rect x="150.05" y="1086.3" width="12.73" height="0"/>
<rect x="162.77" y="1086.3" width="12.73" height="0"/>
<rect x="175.5" y="1084.03" width="12.73" height="2.27"/>
<rect x="188.23" y="1084.94" width="12.73" height="1.36"/>
<rect x="200.95" y="1086.3" width="12.73" height="0"/>
<rect x="213.68" y="1085.85" width="12.73" height="0.45"/>
<rect x="226.41" y="1085.39" width="12.73" height="0.91"/>
<rect x="239.14" y="1084.94" width="12.73" height="1.36"/>
<rect x="251.86" y="1083.12" width="12.73" height="3.18"/>
<rect x="264.59" y="1081.3" width="12.73" height="5"/>
<rect x="277.32" y="1081.75" width="12.73" height="4.55"/>
<rect x="290.05" y="1080.39" width="12.73" height="5.91"/>
<rect x="302.77" y="1078.12" width="12.73" height="8.18"/>
<rect x="315.5" y="1074.02" width="12.73" height="12.28"/>
<rect x="328.23" y="1070.39" width="12.73" height="15.91"/>
<rect x="340.95" y="1058.56" width="12.73" height="27.74"/>
<rect x="353.68" y="1037.19" width="12.73" height="49.11"/>
<rect x="366.41" y="1011.28" width="12.73" height="75.02"/>
<rect x="379.14" y="961.26" width="12.73" height="125.04"/>
<rect x="391.86" y="902.61" width="12.73" height="183.69"/>
<rect x="404.59" y="883.51" width="12.73" height="202.79"/>
<rect x="417.32" y="811.21" width="12.73" height="275.09"/>
<rect x="430.05" y="631.16" width="12.73" height="455.14"/>
<rect x="442.77" y="814.4" width="12.73" height="271.9"/>
<rect x="455.5" y="925.34" width="12.73" height="160.96"/>
<rect x="468.23" y="959.44" width="12.73" height="126.86"/>
<rect x="480.95" y="975.36" width="12.73" height="110.94"/>
<rect x="493.68" y="998.09" width="12.73" height="88.21"/>
<rect x="506.41" y="1029.46" width="12.73" height="56.84"/>
<rect x="519.14" y="1033.56" width="12.73" height="52.74"/>
<rect x="531.86" y="1042.2" width="12.73" height="44.1"/>
<rect x="544.59" y="1037.19" width="12.73" height="49.11"/>
<rect x="557.32" y="1035.37" width="12.73" height="50.93"/>
<rect x="570.05" y="1037.19" width="12.73" height="49.11"/>
<rect x="582.77" y="1056.29" width="12.73" height="30.01"/>
<rect x="595.5" y="1056.29" width="12.73" height="30.01"/>
<rect x="608.23" y="1065.38" width="12.73" height="20.92"/>
<rect x="620.95" y="1069.02" width="12.73" height="17.28"/>
<rect x="633.68" y="1074.48" width="12.73" height="11.82"/>
<rect x="646.41" y="1074.48" width="12.73" height="11.82"/>
<rect x="659.14" y="1076.75" width="12.73" height="9.55"/>
<rect x="671.86" y="1081.3" width="12.73" height="5"/>
<rect x="684.59" y="1083.12" width="12.73" height="3.18"/>
<rect x="697.32" y="1084.48" width="12.73" height="1.82"/>
<rect x="710.05" y="1085.39" width="12.73" height="0.91"/>
<rect x="722.77" y="1084.48" width="12.73" height="1.82"/>
<rect x="735.5" y="1086.3" width="12.73" height="0"/>
<rect x="748.23" y="1086.3" width="12.73" height="0"/>
<rect x="760.95" y="1085.85" width="12.73" height="0.45"/>
</g>
<line x1="451.49" y1="1086.3" x2="451.49" y2="608.4" stroke="#ff0000" stroke-width="2.08" stroke-dasharray="7.7 3.33"/>
<line x1="438.51" y1="1086.3" x2="438.51" y2="608.4" stroke="#0000ff" stroke-width="2.08" stroke-dasharray="7.7 3.33"/>
<line x1="385.02" y1="1086.3" x2="385.02" y2="608.4" stroke="#008000" stroke-width="2.08" stroke-dasharray="7.7 3.33"/>
<line x1="517.95" y1="1086.3" x2="517.95" y2="608.4" stroke="#008000" stroke-width="2.08" stroke-dasharray="7.7 3.33"/>
<rect x="105.5" y="608.4" width="700" height="477.9" fill="none" stroke="#000" stroke-width="1.11"/>
<line x1="118.36" y1="1086.3" x2="118.36" y2="1091.16" stroke="#000" stroke-width="1.11"/>
<text x="118.36" y="1113.7" font-size="22.22" text-anchor="middle">−8</text>
<line x1="197.02" y1="1086.3" x2="197.02" y2="1091.16" stroke="#000" stroke-width="1.11"/>
<text x="197.02" y="1113.7" font-size="22.22" text-anchor="middle">−6</text>
<line x1="275.68" y1="1086.3" x2="275.68" y2="1091.16" stroke="#000" stroke-width="1.11"/>
<text x="275.68" y="1113.7" font-size="22.22" text-anchor="middle">−4</text>
<line x1="354.34" y1="1086.3" x2="354.34" y2="1091.16" stroke="#000" stroke-width="1.11"/>
<text x="354.34" y="1113.7" font-size="22.22" text-anchor="middle">−2</text>
<line x1="433" y1="1086.3" x2="433" y2="1091.16" stroke="#000" stroke-width="1.11"/>
<text x="433" y="1113.7" font-size="22.22" text-anchor="middle">0</text>
<line x1="511.66" y1="1086.3" x2="511.66" y2="1091.16" stroke="#000" stroke-width="1.11"/>
<text x="511.66" y="1113.7" font-size="22.22" text-anchor="middle">2</text>
<line x1="590.32" y1="1086.3" x2="590.32" y2="1091.16" stroke="#000" stroke-width="1.11"/>
<text x="590.32" y="1113.7" font-size="22.22" text-anchor="middle">4</text>
<line x1="668.98" y1="1086.3" x2="668.98" y2="1091.16" stroke="#000" stroke-width="1.11"/>
<text x="668.98" y="1113.7" font-size="22.22" text-anchor="middle">6</text>
<line x1="747.64" y1="1086.3" x2="747.64" y2="1091.16" stroke="#000" stroke-width="1.11"/>
<text x="747.64" y="1113.7" font-size="22.22" text-anchor="middle">8</text>
<line x1="100.64" y1="1086.3" x2="105.5" y2="1086.3" stroke="#000" stroke-width="1.11"/>
<text x="95.2" y="1094.6" font-size="22.22" text-anchor="end">0</text>
<line x1="100.64" y1="995.36" x2="105.5" y2="995.36" stroke="#000" stroke-width="1.11"/>
<text x="95.2" y="1003.66" font-size="22.22" text-anchor="end">200</text>
<line x1="100.64" y1="904.42" x2="105.5" y2="904.42" stroke="#000" stroke-width="1.11"/>
<text x="95.2" y="912.72" font-size="22.22" text-anchor="end">400</text>
<line x1="100.64" y1="813.49" x2="105.5" y2="813.49" stroke="#000" stroke-width="1.11"/>
<text x="95.2" y="821.79" font-size="22.22" text-anchor="end">600</text>
<line x1="100.64" y1="722.55" x2="105.5" y2="722.55" stroke="#000" stroke-width="1.11"/>
<text x="95.2" y="730.85" font-size="22.22" text-anchor="end">800</text>
<line x1="100.64" y1="631.61" x2="105.5" y2="631.61" stroke="#000" stroke-width="1.11"/>
<text x="95.2" y="639.91" font-size="22.22" text-anchor="end">1000</text>
<text x="455.5" y="1142.9" font-size="22.22" text-anchor="middle">FCI/OCA CTH [km] - ACTRIS CTH [km]</text>
<text transform="translate(28.26 850.15) rotate(-90)" font-size="22.22" text-anchor="middle">Counts</text>
<rect x="498.1" y="621" width="296.3" height="108.6" rx="4.4" fill="#fff" fill-opacity="0.8" stroke="#ccc" stroke-opacity="0.8" stroke-width="1.39"/>
<line x1="507" y1="639.5" x2="551" y2="639.5" stroke="#ff0000" stroke-width="2.08" stroke-dasharray="7.7 3.33"/>
<text x="569.4" y="647.9" font-size="22.22" text-anchor="start">Bias (Mean): 0.47</text>
<line x1="507" y1="672.8" x2="551" y2="672.8" stroke="#0000ff" stroke-width="2.08" stroke-dasharray="7.7 3.33"/>
<text x="569.4" y="681.2" font-size="22.22" text-anchor="start">Bias (Median): 0.14</text>
<line x1="507" y1="706.1" x2="551" y2="706.1" stroke="#008000" stroke-width="2.08" stroke-dasharray="7.7 3.33"/>
<text x="569.4" y="714.5" font-size="22.22" text-anchor="start">SD: 1.69</text>
<g fill="#d3d3d3" stroke="#000" stroke-width="1.39">
<rect x="937.32" y="1086.3" width="12.73" height="0"/>
<rect x="950.05" y="1086.3" width="12.73" height="0"/>
<rect x="962.77" y="1086.3" width="12.73" height="0"/>
<rect x="975.5" y="1085.33" width="12.73" height="0.97"/>
<rect x="988.23" y="1086.3" width="12.73" height="0"/>
<rect x="1000.95" y="1086.3" width="12.73" height="0"/>
<rect x="1013.68" y="1085.33" width="12.73" height="0.97"/>
<rect x="1026.41" y="1086.3" width="12.73" height="0"/>
<rect x="1039.14" y="1086.3" width="12.73" height="0"/>
<rect x="1051.86" y="1086.3" width="12.73" height="0"/>
<rect x="1064.59" y="1085.33" width="12.73" height="0.97"/>
<rect x="1077.32" y="1085.33" width="12.73" height="0.97"/>
<rect x="1090.05" y="1084.35" width="12.73" height="1.95"/>
<rect x="1102.77" y="1084.35" width="12.73" height="1.95"/>
<rect x="1115.5" y="1086.3" width="12.73" height="0"/>
<rect x="1128.23" y="1084.35" width="12.73" height="1.95"/>
<rect x="1140.95" y="1084.35" width="12.73" height="1.95"/>
<rect x="1153.68" y="1082.41" width="12.73" height="3.89"/>
<rect x="1166.41" y="1081.44" width="12.73" height="4.86"/>
<rect x="1179.14" y="1079.49" width="12.73" height="6.81"/>
<rect x="1191.86" y="1071.23" width="12.73" height="15.07"/>
<rect x="1204.59" y="1051.29" width="12.73" height="35.01"/>
<rect x="1217.32" y="1050.32" width="12.73" height="35.98"/>
<rect x="1230.05" y="1017.25" width="12.73" height="69.05"/>
<rect x="1242.77" y="702.15" width="12.73" height="384.15"/>
<rect x="1255.5" y="631.16" width="12.73" height="455.14"/>
<rect x="1268.23" y="878.18" width="12.73" height="208.12"/>
<rect x="1280.95" y="966.68" width="12.73" height="119.62"/>
<rect x="1293.68" y="1004.61" width="12.73" height="81.69"/>
<rect x="1306.41" y="986.13" width="12.73" height="100.17"/>
<rect x="1319.14" y="1015.31" width="12.73" height="70.99"/>
<rect x="1331.86" y="1050.32" width="12.73" height="35.98"/>
<rect x="1344.59" y="1047.4" width="12.73" height="38.9"/>
<rect x="1357.32" y="1059.56" width="12.73" height="26.74"/>
<rect x="1370.05" y="1035.73" width="12.73" height="50.57"/>
<rect x="1382.77" y="1047.4" width="12.73" height="38.9"/>
<rect x="1395.5" y="1056.15" width="12.73" height="30.15"/>
<rect x="1408.23" y="1059.56" width="12.73" height="26.74"/>
<rect x="1420.95" y="1076.57" width="12.73" height="9.73"/>
<rect x="1433.68" y="1077.55" width="12.73" height="8.75"/>
<rect x="1446.41" y="1078.52" width="12.73" height="7.78"/>
<rect x="1459.14" y="1079.49" width="12.73" height="6.81"/>
<rect x="1471.86" y="1080.46" width="12.73" height="5.84"/>
<rect x="1484.59" y="1080.46" width="12.73" height="5.84"/>
<rect x="1497.32" y="1080.46" width="12.73" height="5.84"/>
<rect x="1510.05" y="1085.33" width="12.73" height="0.97"/>
<rect x="1522.77" y="1084.35" width="12.73" height="1.95"/>
<rect x="1535.5" y="1086.3" width="12.73" height="0"/>
<rect x="1548.23" y="1086.3" width="12.73" height="0"/>
<rect x="1560.95" y="1085.81" width="12.73" height="0.49"/>
</g>
<line x1="1284.14" y1="1086.3" x2="1284.14" y2="608.4" stroke="#ff0000" stroke-width="2.08" stroke-dasharray="7.7 3.33"/>
<line x1="1264.73" y1="1086.3" x2="1264.73" y2="608.4" stroke="#0000ff" stroke-width="2.08" stroke-dasharray="7.7 3.33"/>
<line x1="1227.59" y1="1086.3" x2="1227.59" y2="608.4" stroke="#008000" stroke-width="2.08" stroke-dasharray="7.7 3.33"/>
<line x1="1340.69" y1="1086.3" x2="1340.69" y2="608.4" stroke="#008000" stroke-width="2.08" stroke-dasharray="7.7 3.33"/>
<rect x="905.5" y="608.4" width="700" height="477.9" fill="none" stroke="#000" stroke-width="1.11"/>
<line x1="917" y1="1086.3" x2="917" y2="1091.16" stroke="#000" stroke-width="1.11"/>
<text x="917" y="1113.7" font-size="22.22" text-anchor="middle">−8</text>
<line x1="1001.4" y1="1086.3" x2="1001.4" y2="1091.16" stroke="#000" stroke-width="1.11"/>
<text x="1001.4" y="1113.7" font-size="22.22" text-anchor="middle">−6</text>
<line x1="1085.8" y1="1086.3" x2="1085.8" y2="1091.16" stroke="#000" stroke-width="1.11"/>
<text x="1085.8" y="1113.7" font-size="22.22" text-anchor="middle">−4</text>
<line x1="1170.2" y1="1086.3" x2="1170.2" y2="1091.16" stroke="#000" stroke-width="1.11"/>
<text x="1170.2" y="1113.7" font-size="22.22" text-anchor="middle">−2</text>
<line x1="1254.6" y1="1086.3" x2="1254.6" y2="1091.16" stroke="#000" stroke-width="1.11"/>
<text x="1254.6" y="1113.7" font-size="22.22" text-anchor="middle">0</text>
<line x1="1339" y1="1086.3" x2="1339" y2="1091.16" stroke="#000" stroke-width="1.11"/>
<text x="1339" y="1113.7" font-size="22.22" text-anchor="middle">2</text>
<line x1="1423.4" y1="1086.3" x2="1423.4" y2="1091.16" stroke="#000" stroke-width="1.11"/>
<text x="1423.4" y="1113.7" font-size="22.22" text-anchor="middle">4</text>
<line x1="1507.8" y1="1086.3" x2="1507.8" y2="1091.16" stroke="#000" stroke-width="1.11"/>
<text x="1507.8" y="1113.7" font-size="22.22" text-anchor="middle">6</text>
<line x1="1592.2" y1="1086.3" x2="1592.2" y2="1091.16" stroke="#000" stroke-width="1.11"/>
<text x="1592.2" y="1113.7" font-size="22.22" text-anchor="middle">8</text>
<line x1="900.64" y1="1086.3" x2="905.5" y2="1086.3" stroke="#000" stroke-width="1.11"/>
<text x="895.2" y="1094.6" font-size="22.22" text-anchor="end">0</text>
<line x1="900.64" y1="989.05" x2="905.5" y2="989.05" stroke="#000" stroke-width="1.11"/>
<text x="895.2" y="997.35" font-size="22.22" text-anchor="end">100</text>
<line x1="900.64" y1="891.79" x2="905.5" y2="891.79" stroke="#000" stroke-width="1.11"/>
<text x="895.2" y="900.09" font-size="22.22" text-anchor="end">200</text>
<line x1="900.64" y1="794.54" x2="905.5" y2="794.54" stroke="#000" stroke-width="1.11"/>
<text x="895.2" y="802.84" font-size="22.22" text-anchor="end">300</text>
<line x1="900.64" y1="697.29" x2="905.5" y2="697.29" stroke="#000" stroke-width="1.11"/>
<text x="895.2" y="705.59" font-size="22.22" text-anchor="end">400</text>
<text x="1255.5" y="1142.9" font-size="22.22" text-anchor="middle">FCI/OCA CTH [km] - ACTRIS CTH [km]</text>
<text transform="translate(842.39 850.15) rotate(-90)" font-size="22.22" text-anchor="middle">Counts</text>
<rect x="916.6" y="621" width="296.3" height="108.6" rx="4.4" fill="#fff" fill-opacity="0.8" stroke="#ccc" stroke-opacity="0.8" stroke-width="1.39"/>
<line x1="925.5" y1="639.5" x2="969.5" y2="639.5" stroke="#ff0000" stroke-width="2.08" stroke-dasharray="7.7 3.33"/>
<text x="986.4" y="647.9" font-size="22.22" text-anchor="start">Bias (Mean): 0.70</text>
<line x1="925.5" y1="672.8" x2="969.5" y2="672.8" stroke="#0000ff" stroke-width="2.08" stroke-dasharray="7.7 3.33"/>
<text x="986.4" y="681.2" font-size="22.22" text-anchor="start">Bias (Median): 0.24</text>
<line x1="925.5" y1="706.1" x2="969.5" y2="706.1" stroke="#008000" stroke-width="2.08" stroke-dasharray="7.7 3.33"/>
<text x="986.4" y="714.5" font-size="22.22" text-anchor="start">SD: 1.34</text>
<g fill="#d3d3d3" stroke="#000" stroke-width="1.39">
<rect x="1737.32" y="1086.3" width="12.73" height="0"/>
<rect x="1750.05" y="1086.3" width="12.73" height="0"/>
<rect x="1762.77" y="1086.3" width="12.73" height="0"/>
<rect x="1775.5" y="1083.61" width="12.73" height="2.69"/>
<rect x="1788.23" y="1086.3" width="12.73" height="0"/>
<rect x="1800.95" y="1086.3" width="12.73" height="0"/>
<rect x="1813.68" y="1083.61" width="12.73" height="2.69"/>
<rect x="1826.41" y="1083.61" width="12.73" height="2.69"/>
<rect x="1839.14" y="1080.92" width="12.73" height="5.38"/>
<rect x="1851.86" y="1074.2" width="12.73" height="12.1"/>
<rect x="1864.59" y="1076.89" width="12.73" height="9.41"/>
<rect x="1877.32" y="1075.54" width="12.73" height="10.76"/>
<rect x="1890.05" y="1068.82" width="12.73" height="17.48"/>
<rect x="1902.77" y="1052.69" width="12.73" height="33.61"/>
<rect x="1915.5" y="1048.65" width="12.73" height="37.65"/>
<rect x="1928.23" y="1029.83" width="12.73" height="56.47"/>
<rect x="1940.95" y="997.56" width="12.73" height="88.74"/>
<rect x="1953.68" y="955.88" width="12.73" height="130.42"/>
<rect x="1966.41" y="866.46" width="12.73" height="219.84"/>
<rect x="1979.14" y="724.61" width="12.73" height="361.69"/>
<rect x="1991.86" y="642.59" width="12.73" height="443.71"/>
<rect x="2004.59" y="642.59" width="12.73" height="443.71"/>
<rect x="2017.32" y="639.9" width="12.73" height="446.4"/>
<rect x="2030.05" y="631.16" width="12.73" height="455.14"/>
<rect x="2042.77" y="763.6" width="12.73" height="322.7"/>
<rect x="2055.5" y="866.46" width="12.73" height="219.84"/>
<rect x="2068.23" y="909.35" width="12.73" height="176.95"/>
<rect x="2080.95" y="958.56" width="12.73" height="127.74"/>
<rect x="2093.68" y="980.08" width="12.73" height="106.22"/>
<rect x="2106.41" y="1004.28" width="12.73" height="82.02"/>
<rect x="2119.14" y="1011.54" width="12.73" height="74.76"/>
<rect x="2131.86" y="1024.45" width="12.73" height="61.85"/>
<rect x="2144.59" y="1019.61" width="12.73" height="66.69"/>
<rect x="2157.32" y="1005.62" width="12.73" height="80.68"/>
<rect x="2170.05" y="1009.66" width="12.73" height="76.64"/>
<rect x="2182.77" y="1027.14" width="12.73" height="59.16"/>
<rect x="2195.5" y="1015.04" width="12.73" height="71.26"/>
<rect x="2208.23" y="1048.65" width="12.73" height="37.65"/>
<rect x="2220.95" y="1051.34" width="12.73" height="34.96"/>
<rect x="2233.68" y="1063.44" width="12.73" height="22.86"/>
<rect x="2246.41" y="1063.44" width="12.73" height="22.86"/>
<rect x="2259.14" y="1070.16" width="12.73" height="16.14"/>
<rect x="2271.86" y="1076.89" width="12.73" height="9.41"/>
<rect x="2284.59" y="1082.27" width="12.73" height="4.03"/>
<rect x="2297.32" y="1084.28" width="12.73" height="2.02"/>
<rect x="2310.05" y="1083.61" width="12.73" height="2.69"/>
<rect x="2322.77" y="1080.25" width="12.73" height="6.05"/>
<rect x="2335.5" y="1086.3" width="12.73" height="0"/>
<rect x="2348.23" y="1086.3" width="12.73" height="0"/>
<rect x="2360.95" y="1086.3" width="12.73" height="0"/>
</g>
<line x1="2041.3" y1="1086.3" x2="2041.3" y2="608.4" stroke="#ff0000" stroke-width="2.08" stroke-dasharray="7.7 3.33"/>
<line x1="2027.3" y1="1086.3" x2="2027.3" y2="608.4" stroke="#0000ff" stroke-width="2.08" stroke-dasharray="7.7 3.33"/>
<line x1="1967.3" y1="1086.3" x2="1967.3" y2="608.4" stroke="#008000" stroke-width="2.08" stroke-dasharray="7.7 3.33"/>
<line x1="2115.3" y1="1086.3" x2="2115.3" y2="608.4" stroke="#008000" stroke-width="2.08" stroke-dasharray="7.7 3.33"/>
<rect x="1705.5" y="608.4" width="700" height="477.9" fill="none" stroke="#000" stroke-width="1.11"/>
<line x1="1707.3" y1="1086.3" x2="1707.3" y2="1091.16" stroke="#000" stroke-width="1.11"/>
<text x="1707.3" y="1113.7" font-size="22.22" text-anchor="middle">−8</text>
<line x1="1787.3" y1="1086.3" x2="1787.3" y2="1091.16" stroke="#000" stroke-width="1.11"/>
<text x="1787.3" y="1113.7" font-size="22.22" text-anchor="middle">−6</text>
<line x1="1867.3" y1="1086.3" x2="1867.3" y2="1091.16" stroke="#000" stroke-width="1.11"/>
<text x="1867.3" y="1113.7" font-size="22.22" text-anchor="middle">−4</text>
<line x1="1947.3" y1="1086.3" x2="1947.3" y2="1091.16" stroke="#000" stroke-width="1.11"/>
<text x="1947.3" y="1113.7" font-size="22.22" text-anchor="middle">−2</text>
<line x1="2027.3" y1="1086.3" x2="2027.3" y2="1091.16" stroke="#000" stroke-width="1.11"/>
<text x="2027.3" y="1113.7" font-size="22.22" text-anchor="middle">0</text>
<line x1="2107.3" y1="1086.3" x2="2107.3" y2="1091.16" stroke="#000" stroke-width="1.11"/>
<text x="2107.3" y="1113.7" font-size="22.22" text-anchor="middle">2</text>
<line x1="2187.3" y1="1086.3" x2="2187.3" y2="1091.16" stroke="#000" stroke-width="1.11"/>
<text x="2187.3" y="1113.7" font-size="22.22" text-anchor="middle">4</text>
<line x1="2267.3" y1="1086.3" x2="2267.3" y2="1091.16" stroke="#000" stroke-width="1.11"/>
<text x="2267.3" y="1113.7" font-size="22.22" text-anchor="middle">6</text>
<line x1="2347.3" y1="1086.3" x2="2347.3" y2="1091.16" stroke="#000" stroke-width="1.11"/>
<text x="2347.3" y="1113.7" font-size="22.22" text-anchor="middle">8</text>
<line x1="1700.64" y1="1086.3" x2="1705.5" y2="1086.3" stroke="#000" stroke-width="1.11"/>
<text x="1695.2" y="1094.6" font-size="22.22" text-anchor="end">0</text>
<line x1="1700.64" y1="1019.07" x2="1705.5" y2="1019.07" stroke="#000" stroke-width="1.11"/>
<text x="1695.2" y="1027.37" font-size="22.22" text-anchor="end">50</text>
<line x1="1700.64" y1="951.84" x2="1705.5" y2="951.84" stroke="#000" stroke-width="1.11"/>
<text x="1695.2" y="960.14" font-size="22.22" text-anchor="end">100</text>
<line x1="1700.64" y1="884.61" x2="1705.5" y2="884.61" stroke="#000" stroke-width="1.11"/>
<text x="1695.2" y="892.91" font-size="22.22" text-anchor="end">150</text>
<line x1="1700.64" y1="817.38" x2="1705.5" y2="817.38" stroke="#000" stroke-width="1.11"/>
<text x="1695.2" y="825.68" font-size="22.22" text-anchor="end">200</text>
<line x1="1700.64" y1="750.15" x2="1705.5" y2="750.15" stroke="#000" stroke-width="1.11"/>
<text x="1695.2" y="758.45" font-size="22.22" text-anchor="end">250</text>
<line x1="1700.64" y1="682.92" x2="1705.5" y2="682.92" stroke="#000" stroke-width="1.11"/>
<text x="1695.2" y="691.22" font-size="22.22" text-anchor="end">300</text>
<line x1="1700.64" y1="615.69" x2="1705.5" y2="615.69" stroke="#000" stroke-width="1.11"/>
<text x="1695.2" y="623.99" font-size="22.22" text-anchor="end">350</text>
<text x="2055.5" y="1142.9" font-size="22.22" text-anchor="middle">FCI/OCA CTH [km] - ACTRIS CTH [km]</text>
<text transform="translate(1642.39 850.15) rotate(-90)" font-size="22.22" text-anchor="middle">Counts</text>
<rect x="2098.1" y="621" width="296.3" height="108.6" rx="4.4" fill="#fff" fill-opacity="0.8" stroke="#ccc" stroke-opacity="0.8" stroke-width="1.39"/>
<line x1="2107" y1="639.5" x2="2151" y2="639.5" stroke="#ff0000" stroke-width="2.08" stroke-dasharray="7.7 3.33"/>
<text x="2169.4" y="647.9" font-size="22.22" text-anchor="start">Bias (Mean): 0.35</text>
<line x1="2107" y1="672.8" x2="2151" y2="672.8" stroke="#0000ff" stroke-width="2.08" stroke-dasharray="7.7 3.33"/>
<text x="2169.4" y="681.2" font-size="22.22" text-anchor="start">Bias (Median): 0.00</text>
<line x1="2107" y1="706.1" x2="2151" y2="706.1" stroke="#008000" stroke-width="2.08" stroke-dasharray="7.7 3.33"/>
<text x="2169.4" y="714.5" font-size="22.22" text-anchor="start">SD: 1.85</text>
<g fill="#d3d3d3" stroke="#000" stroke-width="1.39">
<rect x="2530.32" y="1086.3" width="12.73" height="0"/>
<rect x="2543.05" y="1086.3" width="12.73" height="0"/>
<rect x="2555.77" y="1086.3" width="12.73" height="0"/>
<rect x="2568.5" y="972.51" width="12.73" height="113.79"/>
<rect x="2581.23" y="1086.3" width="12.73" height="0"/>
<rect x="2593.95" y="1086.3" width="12.73" height="0"/>
<rect x="2606.68" y="1086.3" width="12.73" height="0"/>
<rect x="2619.41" y="1086.3" width="12.73" height="0"/>
<rect x="2632.14" y="1086.3" width="12.73" height="0"/>
<rect x="2644.86" y="1086.3" width="12.73" height="0"/>
<rect x="2657.59" y="1086.3" width="12.73" height="0"/>
<rect x="2670.32" y="1086.3" width="12.73" height="0"/>
<rect x="2683.05" y="1086.3" width="12.73" height="0"/>
<rect x="2695.77" y="1086.3" width="12.73" height="0"/>
<rect x="2708.5" y="1086.3" width="12.73" height="0"/>
<rect x="2721.23" y="1086.3" width="12.73" height="0"/>
<rect x="2733.95" y="1086.3" width="12.73" height="0"/>
<rect x="2746.68" y="1086.3" width="12.73" height="0"/>
<rect x="2759.41" y="1086.3" width="12.73" height="0"/>
<rect x="2772.14" y="972.51" width="12.73" height="113.79"/>
<rect x="2784.86" y="858.73" width="12.73" height="227.57"/>
<rect x="2797.59" y="1086.3" width="12.73" height="0"/>
<rect x="2810.32" y="1086.3" width="12.73" height="0"/>
<rect x="2823.05" y="1086.3" width="12.73" height="0"/>
<rect x="2835.77" y="1086.3" width="12.73" height="0"/>
<rect x="2848.5" y="1086.3" width="12.73" height="0"/>
<rect x="2861.23" y="1086.3" width="12.73" height="0"/>
<rect x="2873.95" y="1086.3" width="12.73" height="0"/>
<rect x="2886.68" y="972.51" width="12.73" height="113.79"/>
<rect x="2899.41" y="744.94" width="12.73" height="341.36"/>
<rect x="2912.14" y="744.94" width="12.73" height="341.36"/>
<rect x="2924.86" y="972.51" width="12.73" height="113.79"/>
<rect x="2937.59" y="631.16" width="12.73" height="455.14"/>
<rect x="2950.32" y="744.94" width="12.73" height="341.36"/>
<rect x="2963.05" y="858.73" width="12.73" height="227.57"/>
<rect x="2975.77" y="631.16" width="12.73" height="455.14"/>
<rect x="2988.5" y="972.51" width="12.73" height="113.79"/>
<rect x="3001.23" y="858.73" width="12.73" height="227.57"/>
<rect x="3013.95" y="1086.3" width="12.73" height="0"/>
<rect x="3026.68" y="972.51" width="12.73" height="113.79"/>
<rect x="3039.41" y="1086.3" width="12.73" height="0"/>
<rect x="3052.14" y="858.73" width="12.73" height="227.57"/>
<rect x="3064.86" y="1086.3" width="12.73" height="0"/>
<rect x="3077.59" y="1086.3" width="12.73" height="0"/>
<rect x="3090.32" y="1086.3" width="12.73" height="0"/>
<rect x="3103.05" y="972.51" width="12.73" height="113.79"/>
<rect x="3115.77" y="972.51" width="12.73" height="113.79"/>
<rect x="3128.5" y="1086.3" width="12.73" height="0"/>
<rect x="3141.23" y="1086.3" width="12.73" height="0"/>
<rect x="3153.95" y="1086.3" width="12.73" height="0"/>
</g>
<line x1="2942.02" y1="1086.3" x2="2942.02" y2="608.4" stroke="#ff0000" stroke-width="2.08" stroke-dasharray="7.7 3.33"/>
<line x1="2956.39" y1="1086.3" x2="2956.39" y2="608.4" stroke="#0000ff" stroke-width="2.08" stroke-dasharray="7.7 3.33"/>
<line x1="2842.45" y1="1086.3" x2="2842.45" y2="608.4" stroke="#008000" stroke-width="2.08" stroke-dasharray="7.7 3.33"/>
<line x1="3041.6" y1="1086.3" x2="3041.6" y2="608.4" stroke="#008000" stroke-width="2.08" stroke-dasharray="7.7 3.33"/>
<rect x="2498.5" y="608.4" width="700" height="477.9" fill="none" stroke="#000" stroke-width="1.11"/>
<line x1="2505.08" y1="1086.3" x2="2505.08" y2="1091.16" stroke="#000" stroke-width="1.11"/>
<text x="2505.08" y="1113.7" font-size="22.22" text-anchor="middle">−8</text>
<line x1="2604.16" y1="1086.3" x2="2604.16" y2="1091.16" stroke="#000" stroke-width="1.11"/>
<text x="2604.16" y="1113.7" font-size="22.22" text-anchor="middle">−6</text>
<line x1="2703.24" y1="1086.3" x2="2703.24" y2="1091.16" stroke="#000" stroke-width="1.11"/>
<text x="2703.24" y="1113.7" font-size="22.22" text-anchor="middle">−4</text>
<line x1="2802.32" y1="1086.3" x2="2802.32" y2="1091.16" stroke="#000" stroke-width="1.11"/>
<text x="2802.32" y="1113.7" font-size="22.22" text-anchor="middle">−2</text>
<line x1="2901.4" y1="1086.3" x2="2901.4" y2="1091.16" stroke="#000" stroke-width="1.11"/>
<text x="2901.4" y="1113.7" font-size="22.22" text-anchor="middle">0</text>
<line x1="3000.48" y1="1086.3" x2="3000.48" y2="1091.16" stroke="#000" stroke-width="1.11"/>
<text x="3000.48" y="1113.7" font-size="22.22" text-anchor="middle">2</text>
<line x1="3099.56" y1="1086.3" x2="3099.56" y2="1091.16" stroke="#000" stroke-width="1.11"/>
<text x="3099.56" y="1113.7" font-size="22.22" text-anchor="middle">4</text>
<line x1="2493.64" y1="1086.3" x2="2498.5" y2="1086.3" stroke="#000" stroke-width="1.11"/>
<text x="2488.2" y="1094.6" font-size="22.22" text-anchor="end">0.0</text>
<line x1="2493.64" y1="1029.41" x2="2498.5" y2="1029.41" stroke="#000" stroke-width="1.11"/>
<text x="2488.2" y="1037.71" font-size="22.22" text-anchor="end">0.5</text>
<line x1="2493.64" y1="972.51" x2="2498.5" y2="972.51" stroke="#000" stroke-width="1.11"/>
<text x="2488.2" y="980.81" font-size="22.22" text-anchor="end">1.0</text>
<line x1="2493.64" y1="915.62" x2="2498.5" y2="915.62" stroke="#000" stroke-width="1.11"/>
<text x="2488.2" y="923.92" font-size="22.22" text-anchor="end">1.5</text>
<line x1="2493.64" y1="858.73" x2="2498.5" y2="858.73" stroke="#000" stroke-width="1.11"/>
<text x="2488.2" y="867.03" font-size="22.22" text-anchor="end">2.0</text>
<line x1="2493.64" y1="801.84" x2="2498.5" y2="801.84" stroke="#000" stroke-width="1.11"/>
<text x="2488.2" y="810.14" font-size="22.22" text-anchor="end">2.5</text>
<line x1="2493.64" y1="744.94" x2="2498.5" y2="744.94" stroke="#000" stroke-width="1.11"/>
<text x="2488.2" y="753.24" font-size="22.22" text-anchor="end">3.0</text>
<line x1="2493.64" y1="688.05" x2="2498.5" y2="688.05" stroke="#000" stroke-width="1.11"/>
<text x="2488.2" y="696.35" font-size="22.22" text-anchor="end">3.5</text>
<line x1="2493.64" y1="631.16" x2="2498.5" y2="631.16" stroke="#000" stroke-width="1.11"/>
<text x="2488.2" y="639.46" font-size="22.22" text-anchor="end">4.0</text>
<text x="2848.5" y="1142.9" font-size="22.22" text-anchor="middle">FCI/OCA CTH [km] - ACTRIS CTH [km]</text>
<text transform="translate(2442.46 850.15) rotate(-90)" font-size="22.22" text-anchor="middle">Counts</text>
<rect x="2509.6" y="621" width="296.3" height="108.6" rx="4.4" fill="#fff" fill-opacity="0.8" stroke="#ccc" stroke-opacity="0.8" stroke-width="1.39"/>
<line x1="2518.5" y1="639.5" x2="2562.5" y2="639.5" stroke="#ff0000" stroke-width="2.08" stroke-dasharray="7.7 3.33"/>
<text x="2579.4" y="647.9" font-size="22.22" text-anchor="start">Bias (Mean): 0.82</text>
<line x1="2518.5" y1="672.8" x2="2562.5" y2="672.8" stroke="#0000ff" stroke-width="2.08" stroke-dasharray="7.7 3.33"/>
<text x="2579.4" y="681.2" font-size="22.22" text-anchor="start">Bias (Median): 1.11</text>
<line x1="2518.5" y1="706.1" x2="2562.5" y2="706.1" stroke="#008000" stroke-width="2.08" stroke-dasharray="7.7 3.33"/>
<text x="2579.4" y="714.5" font-size="22.22" text-anchor="start">SD: 2.01</text>
<g fill="#d3d3d3" stroke="#000" stroke-width="1.39">
<rect x="3316.42" y="1086.3" width="12.73" height="0"/>
<rect x="3329.15" y="1086.3" width="12.73" height="0"/>
<rect x="3341.87" y="1086.3" width="12.73" height="0"/>
<rect x="3354.6" y="1086.3" width="12.73" height="0"/>
<rect x="3367.33" y="1045.84" width="12.73" height="40.46"/>
<rect x="3380.05" y="1015.5" width="12.73" height="70.8"/>
<rect x="3392.78" y="873.9" width="12.73" height="212.4"/>
<rect x="3405.51" y="873.9" width="12.73" height="212.4"/>
<rect x="3418.24" y="884.01" width="12.73" height="202.29"/>
<rect x="3430.96" y="732.3" width="12.73" height="354"/>
<rect x="3443.69" y="631.16" width="12.73" height="455.14"/>
<rect x="3456.42" y="691.84" width="12.73" height="394.46"/>
<rect x="3469.15" y="833.44" width="12.73" height="252.86"/>
<rect x="3481.87" y="752.53" width="12.73" height="333.77"/>
<rect x="3494.6" y="823.33" width="12.73" height="262.97"/>
<rect x="3507.33" y="884.01" width="12.73" height="202.29"/>
<rect x="3520.05" y="894.13" width="12.73" height="192.17"/>
<rect x="3532.78" y="914.36" width="12.73" height="171.94"/>
<rect x="3545.51" y="833.44" width="12.73" height="252.86"/>
<rect x="3558.24" y="884.01" width="12.73" height="202.29"/>
<rect x="3570.96" y="904.24" width="12.73" height="182.06"/>
<rect x="3583.69" y="873.9" width="12.73" height="212.4"/>
<rect x="3596.42" y="1005.39" width="12.73" height="80.91"/>
<rect x="3609.15" y="1015.5" width="12.73" height="70.8"/>
<rect x="3621.87" y="934.59" width="12.73" height="151.71"/>
<rect x="3634.6" y="995.27" width="12.73" height="91.03"/>
<rect x="3647.33" y="1045.84" width="12.73" height="40.46"/>
<rect x="3660.05" y="1005.39" width="12.73" height="80.91"/>
<rect x="3672.78" y="995.27" width="12.73" height="91.03"/>
<rect x="3685.51" y="1045.84" width="12.73" height="40.46"/>
<rect x="3698.24" y="1045.84" width="12.73" height="40.46"/>
<rect x="3710.96" y="1035.73" width="12.73" height="50.57"/>
<rect x="3723.69" y="1076.19" width="12.73" height="10.11"/>
<rect x="3736.42" y="1066.07" width="12.73" height="20.23"/>
<rect x="3749.15" y="1055.96" width="12.73" height="30.34"/>
<rect x="3761.87" y="1076.19" width="12.73" height="10.11"/>
<rect x="3774.6" y="1055.96" width="12.73" height="30.34"/>
<rect x="3787.33" y="1076.19" width="12.73" height="10.11"/>
<rect x="3800.05" y="1086.3" width="12.73" height="0"/>
<rect x="3812.78" y="1076.19" width="12.73" height="10.11"/>
<rect x="3825.51" y="1066.07" width="12.73" height="20.23"/>
<rect x="3838.24" y="1066.07" width="12.73" height="20.23"/>
<rect x="3850.96" y="1086.3" width="12.73" height="0"/>
<rect x="3863.69" y="1086.3" width="12.73" height="0"/>
<rect x="3876.42" y="1076.19" width="12.73" height="10.11"/>
<rect x="3889.15" y="1076.19" width="12.73" height="10.11"/>
<rect x="3901.87" y="1086.3" width="12.73" height="0"/>
<rect x="3914.6" y="1086.3" width="12.73" height="0"/>
<rect x="3927.33" y="1086.3" width="12.73" height="0"/>
<rect x="3940.05" y="1086.3" width="12.73" height="0"/>
</g>
<line x1="3519.43" y1="1086.3" x2="3519.43" y2="608.4" stroke="#ff0000" stroke-width="2.08" stroke-dasharray="7.7 3.33"/>
<line x1="3497.64" y1="1086.3" x2="3497.64" y2="608.4" stroke="#0000ff" stroke-width="2.08" stroke-dasharray="7.7 3.33"/>
<line x1="3424.23" y1="1086.3" x2="3424.23" y2="608.4" stroke="#008000" stroke-width="2.08" stroke-dasharray="7.7 3.33"/>
<line x1="3614.63" y1="1086.3" x2="3614.63" y2="608.4" stroke="#008000" stroke-width="2.08" stroke-dasharray="7.7 3.33"/>
<rect x="3284.6" y="608.4" width="700" height="477.9" fill="none" stroke="#000" stroke-width="1.11"/>
<line x1="3379.5" y1="1086.3" x2="3379.5" y2="1091.16" stroke="#000" stroke-width="1.11"/>
<text x="3379.5" y="1113.7" font-size="22.22" text-anchor="middle">−2</text>
<line x1="3494.2" y1="1086.3" x2="3494.2" y2="1091.16" stroke="#000" stroke-width="1.11"/>
<text x="3494.2" y="1113.7" font-size="22.22" text-anchor="middle">0</text>
<line x1="3608.9" y1="1086.3" x2="3608.9" y2="1091.16" stroke="#000" stroke-width="1.11"/>
<text x="3608.9" y="1113.7" font-size="22.22" text-anchor="middle">2</text>
<line x1="3723.6" y1="1086.3" x2="3723.6" y2="1091.16" stroke="#000" stroke-width="1.11"/>
<text x="3723.6" y="1113.7" font-size="22.22" text-anchor="middle">4</text>
<line x1="3838.3" y1="1086.3" x2="3838.3" y2="1091.16" stroke="#000" stroke-width="1.11"/>
<text x="3838.3" y="1113.7" font-size="22.22" text-anchor="middle">6</text>
<line x1="3953" y1="1086.3" x2="3953" y2="1091.16" stroke="#000" stroke-width="1.11"/>
<text x="3953" y="1113.7" font-size="22.22" text-anchor="middle">8</text>
<line x1="3279.74" y1="1086.3" x2="3284.6" y2="1086.3" stroke="#000" stroke-width="1.11"/>
<text x="3274.3" y="1094.6" font-size="22.22" text-anchor="end">0</text>
<line x1="3279.74" y1="985.16" x2="3284.6" y2="985.16" stroke="#000" stroke-width="1.11"/>
<text x="3274.3" y="993.46" font-size="22.22" text-anchor="end">10</text>
<line x1="3279.74" y1="884.01" x2="3284.6" y2="884.01" stroke="#000" stroke-width="1.11"/>
<text x="3274.3" y="892.31" font-size="22.22" text-anchor="end">20</text>
<line x1="3279.74" y1="782.87" x2="3284.6" y2="782.87" stroke="#000" stroke-width="1.11"/>
<text x="3274.3" y="791.17" font-size="22.22" text-anchor="end">30</text>
<line x1="3279.74" y1="681.73" x2="3284.6" y2="681.73" stroke="#000" stroke-width="1.11"/>
<text x="3274.3" y="690.03" font-size="22.22" text-anchor="end">40</text>
<text x="3634.6" y="1142.9" font-size="22.22" text-anchor="middle">FCI/OCA CTH [km] - ACTRIS CTH [km]</text>
<text transform="translate(3235.62 850.15) rotate(-90)" font-size="22.22" text-anchor="middle">Counts</text>
<rect x="3677.2" y="621" width="296.3" height="108.6" rx="4.4" fill="#fff" fill-opacity="0.8" stroke="#ccc" stroke-opacity="0.8" stroke-width="1.39"/>
<line x1="3686.1" y1="639.5" x2="3730.1" y2="639.5" stroke="#ff0000" stroke-width="2.08" stroke-dasharray="7.7 3.33"/>
<text x="3748.5" y="647.9" font-size="22.22" text-anchor="start">Bias (Mean): 0.44</text>
<line x1="3686.1" y1="672.8" x2="3730.1" y2="672.8" stroke="#0000ff" stroke-width="2.08" stroke-dasharray="7.7 3.33"/>
<text x="3748.5" y="681.2" font-size="22.22" text-anchor="start">Bias (Median): 0.06</text>
<line x1="3686.1" y1="706.1" x2="3730.1" y2="706.1" stroke="#008000" stroke-width="2.08" stroke-dasharray="7.7 3.33"/>
<text x="3748.5" y="714.5" font-size="22.22" text-anchor="start">SD: 1.66</text>
</svg>
</body></html>
